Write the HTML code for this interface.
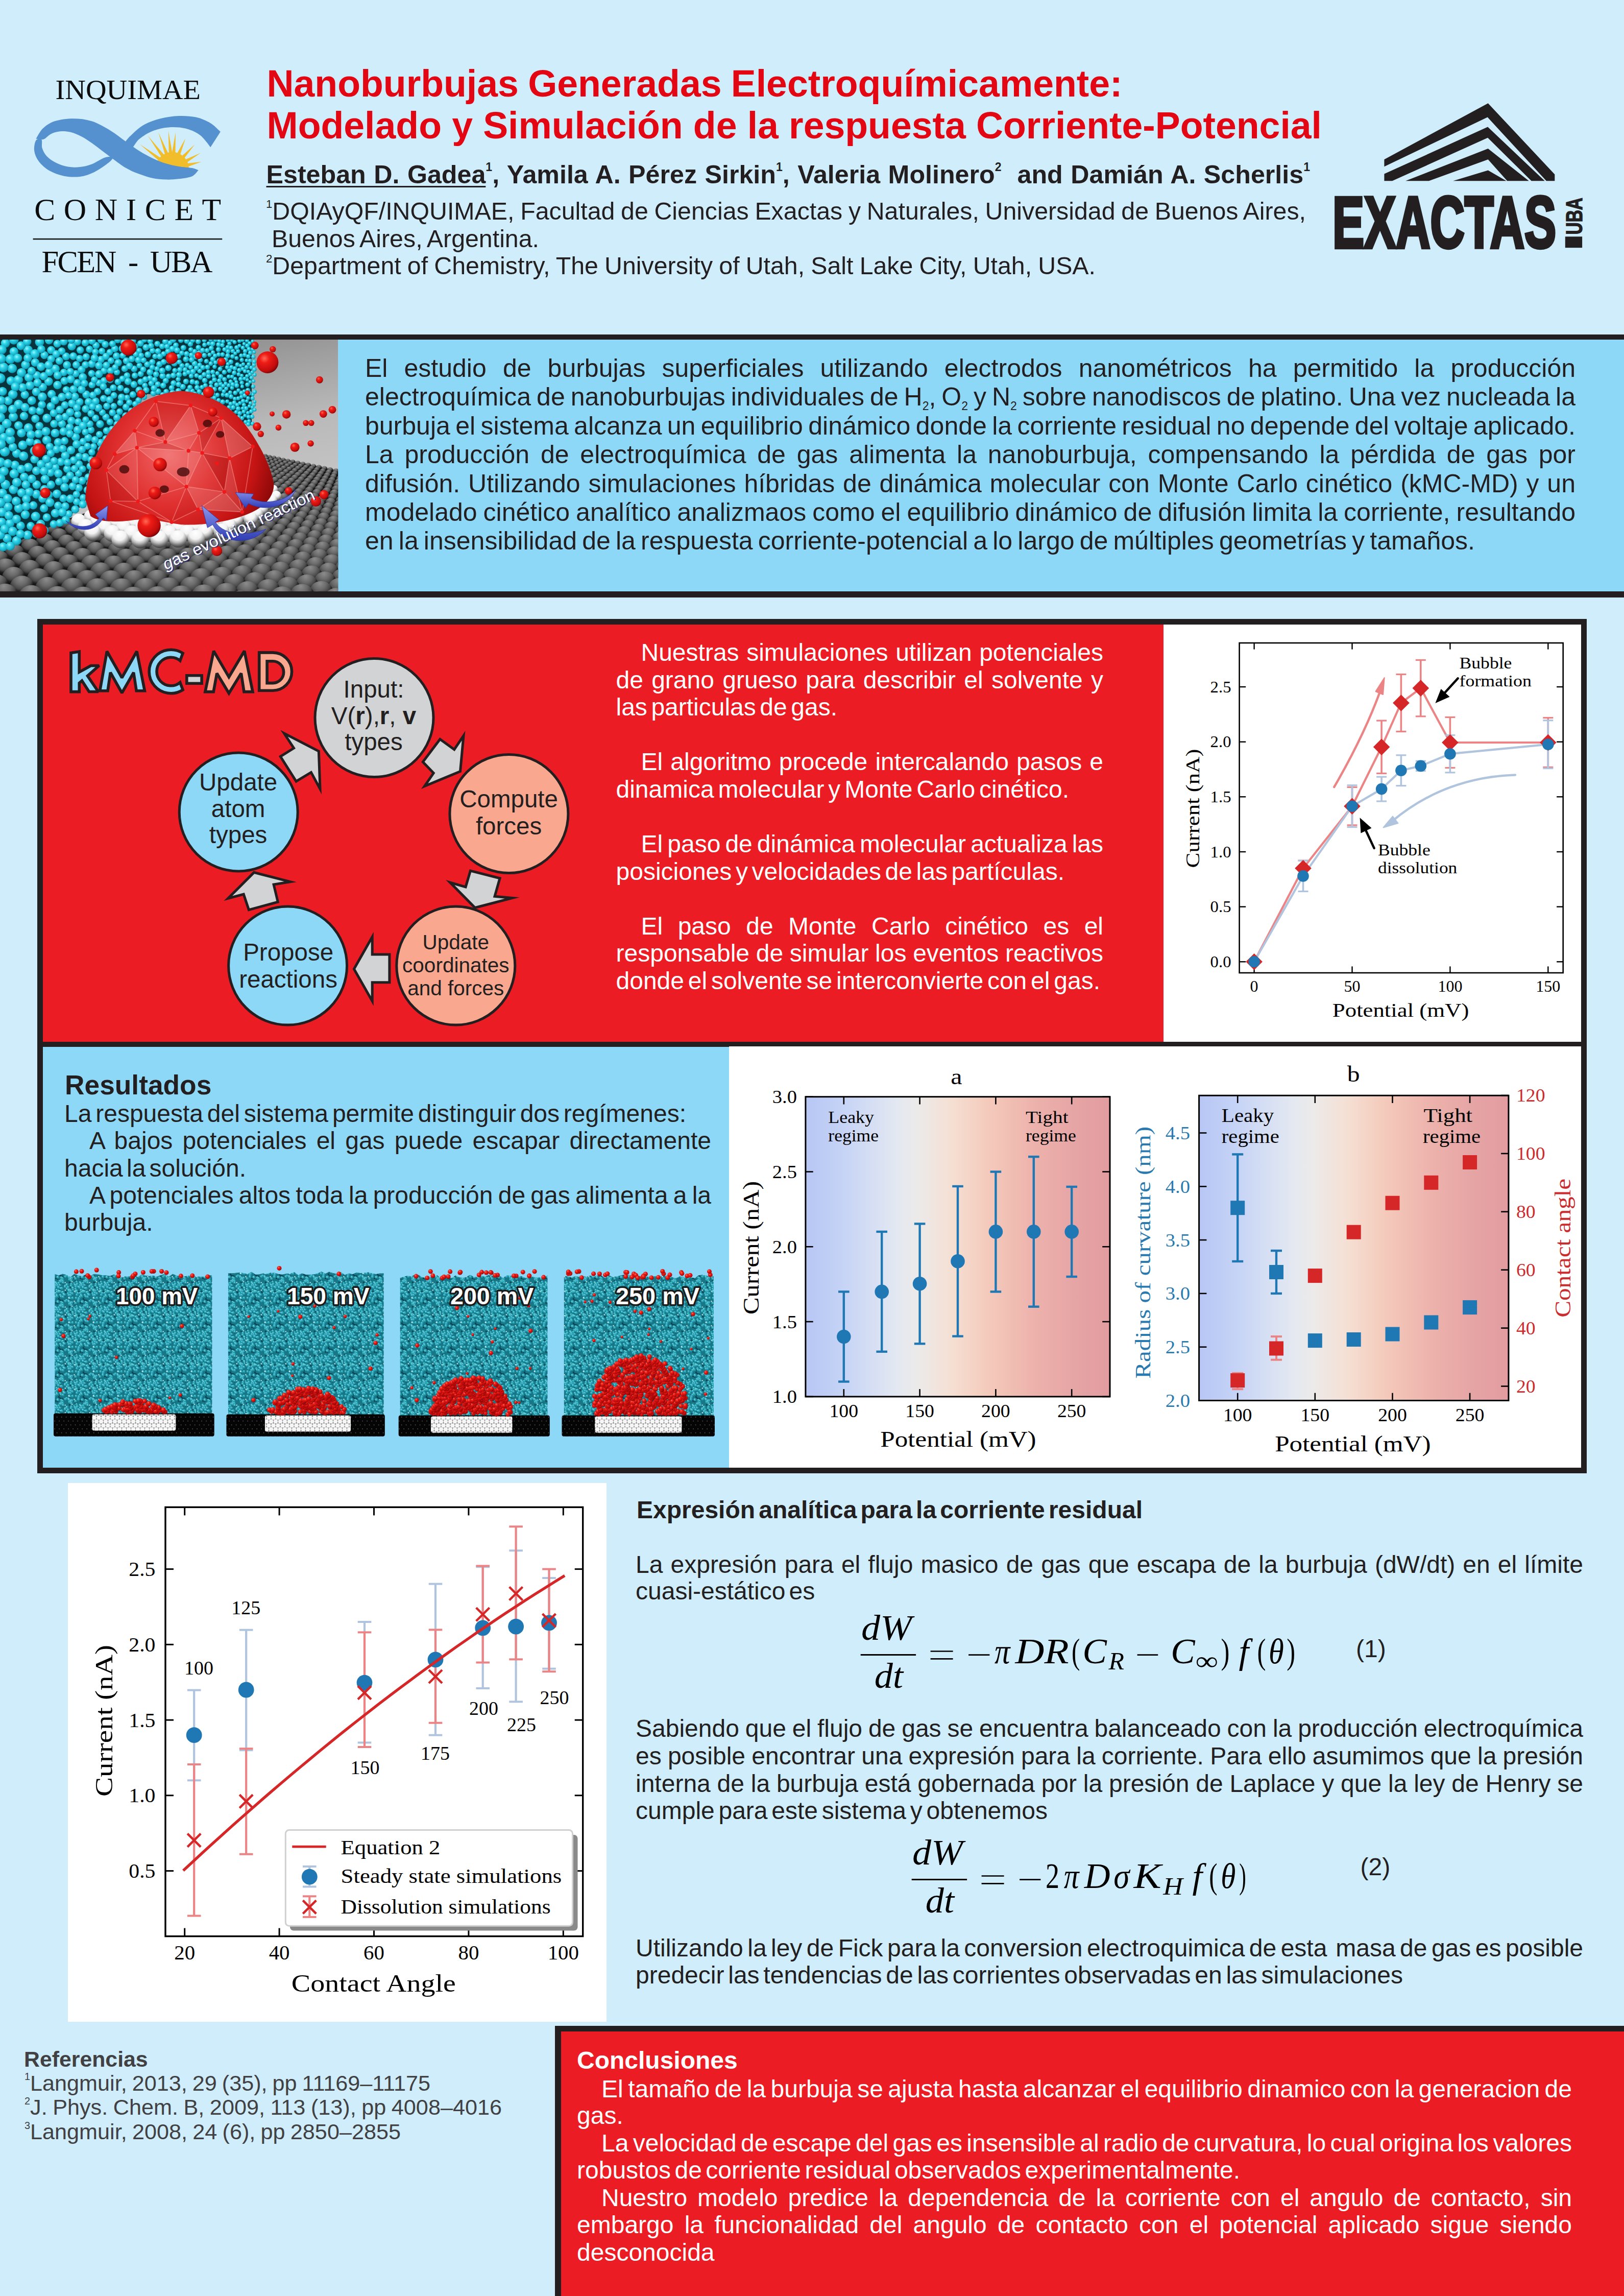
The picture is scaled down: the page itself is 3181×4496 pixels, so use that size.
<!DOCTYPE html>
<html><head><meta charset="utf-8"><title>Poster</title>
<style>
html,body{margin:0;padding:0;}
body{width:3181px;height:4496px;background:#CFEDFB;position:relative;overflow:hidden;font-family:"Liberation Sans",sans-serif;}
.t{position:absolute;white-space:nowrap;}
.b{position:absolute;}
svg{position:absolute;overflow:visible;}
sup.s{font-size:46%;vertical-align:baseline;position:relative;top:-1.05em;line-height:0;}
sub.s{font-size:46%;vertical-align:baseline;position:relative;top:0.38em;line-height:0;}
</style></head><body>
<div class="b" style="left:0px;top:655px;width:3181px;height:10px;background:#231F20;"></div>
<div class="b" style="left:0px;top:665px;width:3181px;height:493px;background:#8DD7F7;"></div>
<div class="b" style="left:0px;top:1158px;width:3181px;height:11.5px;background:#231F20;"></div>
<div class="b" style="left:73px;top:1212px;width:3035px;height:1673px;background:#231F20;"></div>
<div class="b" style="left:84px;top:1223px;width:2195px;height:817px;background:#EC1C24;"></div>
<div class="b" style="left:2279px;top:1223px;width:818px;height:817px;background:#fff;"></div>
<div class="b" style="left:84px;top:2049.5px;width:1344px;height:824.5px;background:#8DD7F7;"></div>
<div class="b" style="left:1428px;top:2049px;width:1669px;height:825px;background:#fff;"></div>
<div class="b" style="left:133px;top:2904px;width:1055px;height:1055px;background:#fff;"></div>
<div class="b" style="left:1087px;top:3967px;width:2094px;height:529px;background:#231F20;"></div>
<div class="b" style="left:1099px;top:3978px;width:2082px;height:518px;background:#EC1C24;"></div>
<svg width="670" height="502" viewBox="0 0 1624 1216.8" style="left:0;top:660px;overflow:hidden"><defs>
<radialGradient id="cy" cx="0.38" cy="0.34" r="0.7"><stop offset="0" stop-color="#9ff6ff"/><stop offset="0.35" stop-color="#2fd6ea"/><stop offset="0.8" stop-color="#14a9c2"/><stop offset="1" stop-color="#0b7f96"/></radialGradient>
<radialGradient id="rg" cx="0.36" cy="0.32" r="0.72"><stop offset="0" stop-color="#ff6a55"/><stop offset="0.3" stop-color="#ee1c16"/><stop offset="0.8" stop-color="#c00c0c"/><stop offset="1" stop-color="#7c0505"/></radialGradient>
<radialGradient id="gs" cx="0.45" cy="0.1" r="0.85"><stop offset="0" stop-color="#8c8c8c"/><stop offset="0.3" stop-color="#6a6a6a"/><stop offset="0.5" stop-color="#484848"/><stop offset="0.62" stop-color="#1c1c1c"/><stop offset="0.8" stop-color="#0a0a0a"/><stop offset="1" stop-color="#050505"/></radialGradient>
<radialGradient id="ws" cx="0.45" cy="0.2" r="0.85"><stop offset="0" stop-color="#fff"/><stop offset="0.42" stop-color="#f2f2f2"/><stop offset="0.6" stop-color="#bdbdbd"/><stop offset="0.8" stop-color="#6a6a6a"/><stop offset="1" stop-color="#2a2a2a"/></radialGradient>
<linearGradient id="bgg" x1="0" x2="0.25" y1="0" y2="1"><stop offset="0" stop-color="#7e7e7e"/><stop offset="0.5" stop-color="#b9b9b9"/><stop offset="1" stop-color="#d0d0d0"/></linearGradient>
<radialGradient id="bub" gradientUnits="userSpaceOnUse" cx="800" cy="560" r="520"><stop offset="0" stop-color="#f06464"/><stop offset="0.45" stop-color="#e03030"/><stop offset="0.8" stop-color="#c31313"/><stop offset="1" stop-color="#8e0909"/></radialGradient>
<linearGradient id="ba" x1="0" x2="0" y1="0" y2="1"><stop offset="0" stop-color="#8c98ee"/><stop offset="1" stop-color="#2f3cb4"/></linearGradient>
<clipPath id="imclip"><rect x="0" y="12" width="1605" height="1195"/></clipPath>
</defs>
<g clip-path="url(#imclip)">
<rect x="0" y="12" width="1605" height="1195" fill="url(#bgg)"/>
<path d="M0 1012L250 886L1240 560L1605 640L1605 1207L0 1207Z" fill="#242424"/>
<g fill="url(#gs)"><circle cx="1240" cy="562" r="11.0"/><circle cx="1260" cy="566" r="11.3"/><circle cx="1222" cy="569" r="11.5"/><circle cx="1280" cy="571" r="11.5"/><circle cx="1242" cy="573" r="11.8"/><circle cx="1301" cy="575" r="11.8"/><circle cx="1202" cy="576" r="12.1"/><circle cx="1263" cy="578" r="12.1"/><circle cx="1323" cy="580" r="12.1"/><circle cx="1223" cy="581" r="12.4"/><circle cx="1182" cy="583" r="12.7"/><circle cx="1285" cy="583" r="12.4"/><circle cx="1345" cy="585" r="12.4"/><circle cx="1245" cy="586" r="12.7"/><circle cx="1307" cy="588" r="12.7"/><circle cx="1204" cy="588" r="13.0"/><circle cx="1367" cy="590" r="12.6"/><circle cx="1161" cy="591" r="13.3"/><circle cx="1267" cy="591" r="13.1"/><circle cx="1329" cy="593" r="13.0"/><circle cx="1226" cy="594" r="13.4"/><circle cx="1390" cy="594" r="12.9"/><circle cx="1183" cy="597" r="13.7"/><circle cx="1290" cy="597" r="13.4"/><circle cx="1353" cy="599" r="13.4"/><circle cx="1138" cy="599" r="14.0"/><circle cx="1414" cy="600" r="13.2"/><circle cx="1249" cy="600" r="13.7"/><circle cx="1313" cy="602" r="13.7"/><circle cx="1206" cy="603" r="14.1"/><circle cx="1376" cy="604" r="13.7"/><circle cx="1438" cy="605" r="13.6"/><circle cx="1161" cy="605" r="14.4"/><circle cx="1272" cy="606" r="14.1"/><circle cx="1115" cy="607" r="14.7"/><circle cx="1337" cy="608" r="14.1"/><circle cx="1229" cy="609" r="14.5"/><circle cx="1401" cy="610" r="14.0"/><circle cx="1463" cy="610" r="13.9"/><circle cx="1185" cy="612" r="14.8"/><circle cx="1296" cy="612" r="14.5"/><circle cx="1362" cy="614" r="14.5"/><circle cx="1138" cy="614" r="15.1"/><circle cx="1426" cy="615" r="14.4"/><circle cx="1253" cy="615" r="14.9"/><circle cx="1488" cy="616" r="14.2"/><circle cx="1091" cy="616" r="15.4"/><circle cx="1321" cy="618" r="14.9"/><circle cx="1209" cy="619" r="15.2"/><circle cx="1387" cy="620" r="14.8"/><circle cx="1451" cy="621" r="14.7"/><circle cx="1514" cy="621" r="14.5"/><circle cx="1162" cy="621" r="15.5"/><circle cx="1278" cy="622" r="15.3"/><circle cx="1114" cy="623" r="15.8"/><circle cx="1346" cy="625" r="15.3"/><circle cx="1065" cy="625" r="16.1"/><circle cx="1234" cy="626" r="15.7"/><circle cx="1413" cy="626" r="15.2"/><circle cx="1540" cy="627" r="14.9"/><circle cx="1478" cy="627" r="15.1"/><circle cx="1187" cy="629" r="16.0"/><circle cx="1304" cy="629" r="15.7"/><circle cx="1139" cy="631" r="16.3"/><circle cx="1372" cy="631" r="15.7"/><circle cx="1567" cy="633" r="15.2"/><circle cx="1439" cy="633" r="15.6"/><circle cx="1259" cy="633" r="16.1"/><circle cx="1504" cy="633" r="15.4"/><circle cx="1089" cy="633" r="16.6"/><circle cx="1038" cy="635" r="16.9"/><circle cx="1330" cy="636" r="16.1"/><circle cx="1213" cy="636" r="16.5"/><circle cx="1399" cy="638" r="16.1"/><circle cx="1595" cy="639" r="15.6"/><circle cx="1165" cy="639" r="16.9"/><circle cx="1467" cy="639" r="16.0"/><circle cx="1532" cy="640" r="15.8"/><circle cx="1286" cy="640" r="16.6"/><circle cx="1115" cy="642" r="17.2"/><circle cx="1357" cy="643" r="16.6"/><circle cx="1063" cy="644" r="17.5"/><circle cx="1239" cy="644" r="17.0"/><circle cx="1427" cy="645" r="16.5"/><circle cx="1010" cy="645" r="17.7"/><circle cx="1560" cy="646" r="16.2"/><circle cx="1495" cy="646" r="16.4"/><circle cx="1191" cy="647" r="17.4"/><circle cx="1313" cy="648" r="17.1"/><circle cx="1141" cy="650" r="17.7"/><circle cx="1385" cy="651" r="17.1"/><circle cx="1266" cy="652" r="17.5"/><circle cx="1455" cy="652" r="17.0"/><circle cx="1589" cy="653" r="16.6"/><circle cx="1089" cy="653" r="18.1"/><circle cx="1523" cy="653" r="16.8"/><circle cx="1035" cy="655" r="18.4"/><circle cx="1340" cy="656" r="17.6"/><circle cx="1218" cy="656" r="17.9"/><circle cx="980" cy="656" r="18.6"/><circle cx="1413" cy="658" r="17.5"/><circle cx="1168" cy="659" r="18.3"/><circle cx="1619" cy="659" r="17.0"/><circle cx="1484" cy="660" r="17.4"/><circle cx="1553" cy="660" r="17.3"/><circle cx="1294" cy="660" r="18.0"/><circle cx="1116" cy="662" r="18.7"/><circle cx="1369" cy="664" r="18.1"/><circle cx="1062" cy="664" r="19.0"/><circle cx="1246" cy="665" r="18.5"/><circle cx="1442" cy="666" r="18.0"/><circle cx="1006" cy="666" r="19.3"/><circle cx="1514" cy="667" r="17.9"/><circle cx="1583" cy="667" r="17.7"/><circle cx="949" cy="667" r="19.5"/><circle cx="1196" cy="668" r="18.9"/><circle cx="1323" cy="669" r="18.6"/><circle cx="1143" cy="672" r="19.3"/><circle cx="1399" cy="672" r="18.6"/><circle cx="1275" cy="674" r="19.0"/><circle cx="1473" cy="674" r="18.5"/><circle cx="1089" cy="674" r="19.6"/><circle cx="1614" cy="675" r="18.2"/><circle cx="1544" cy="675" r="18.4"/><circle cx="1033" cy="677" r="20.0"/><circle cx="1353" cy="678" r="19.1"/><circle cx="1224" cy="678" r="19.5"/><circle cx="975" cy="678" r="20.2"/><circle cx="916" cy="679" r="20.5"/><circle cx="1429" cy="681" r="19.1"/><circle cx="1172" cy="681" r="19.9"/><circle cx="1504" cy="682" r="19.0"/><circle cx="1305" cy="683" r="19.6"/><circle cx="1576" cy="683" r="18.9"/><circle cx="1118" cy="685" r="20.3"/><circle cx="1383" cy="687" r="19.7"/><circle cx="1061" cy="687" r="20.7"/><circle cx="1254" cy="687" r="20.1"/><circle cx="1460" cy="689" r="19.7"/><circle cx="1003" cy="689" r="21.0"/><circle cx="943" cy="691" r="21.2"/><circle cx="1535" cy="691" r="19.6"/><circle cx="1608" cy="691" r="19.4"/><circle cx="882" cy="691" r="21.5"/><circle cx="1202" cy="692" r="20.6"/><circle cx="1335" cy="692" r="20.2"/><circle cx="1147" cy="695" r="21.0"/><circle cx="1415" cy="696" r="20.3"/><circle cx="1285" cy="698" r="20.8"/><circle cx="1493" cy="698" r="20.2"/><circle cx="1090" cy="698" r="21.4"/><circle cx="1568" cy="699" r="20.1"/><circle cx="1032" cy="701" r="21.7"/><circle cx="1367" cy="702" r="20.9"/><circle cx="1232" cy="702" r="21.3"/><circle cx="846" cy="704" r="22.5"/><circle cx="1447" cy="705" r="20.9"/><circle cx="1178" cy="706" r="21.7"/><circle cx="1526" cy="708" r="20.8"/><circle cx="1317" cy="708" r="21.4"/><circle cx="1602" cy="708" r="20.7"/><circle cx="1400" cy="712" r="21.5"/><circle cx="1264" cy="713" r="22.0"/><circle cx="1481" cy="715" r="21.5"/><circle cx="1560" cy="717" r="21.4"/><circle cx="1349" cy="718" r="22.1"/><circle cx="1433" cy="723" r="22.2"/><circle cx="1515" cy="725" r="22.2"/><circle cx="1595" cy="727" r="22.0"/><circle cx="1383" cy="729" r="22.8"/><circle cx="1468" cy="733" r="22.9"/><circle cx="1551" cy="736" r="22.8"/><circle cx="1331" cy="736" r="23.4"/><circle cx="1418" cy="741" r="23.6"/><circle cx="1504" cy="744" r="23.6"/><circle cx="1587" cy="747" r="23.5"/><circle cx="1366" cy="748" r="24.2"/><circle cx="1454" cy="752" r="24.3"/><circle cx="1541" cy="756" r="24.3"/><circle cx="1625" cy="758" r="24.2"/><circle cx="1402" cy="760" r="25.0"/><circle cx="1492" cy="765" r="25.1"/><circle cx="1347" cy="767" r="25.7"/><circle cx="1579" cy="767" r="25.0"/><circle cx="1440" cy="773" r="25.8"/><circle cx="1530" cy="777" r="25.9"/><circle cx="1618" cy="780" r="25.8"/><circle cx="1385" cy="781" r="26.5"/><circle cx="1478" cy="786" r="26.7"/><circle cx="1327" cy="788" r="27.2"/><circle cx="1570" cy="790" r="26.7"/><circle cx="1424" cy="794" r="27.4"/><circle cx="1518" cy="799" r="27.5"/><circle cx="1366" cy="802" r="28.2"/><circle cx="1611" cy="803" r="27.5"/><circle cx="1464" cy="809" r="28.4"/><circle cx="1306" cy="809" r="28.9"/><circle cx="1560" cy="813" r="28.4"/><circle cx="1407" cy="817" r="29.2"/><circle cx="1506" cy="823" r="29.3"/><circle cx="1346" cy="825" r="29.9"/><circle cx="1603" cy="828" r="29.4"/><circle cx="1283" cy="832" r="30.6"/><circle cx="1449" cy="833" r="30.2"/><circle cx="1549" cy="838" r="30.3"/><circle cx="1388" cy="841" r="31.0"/><circle cx="1492" cy="849" r="31.2"/><circle cx="1325" cy="849" r="31.8"/><circle cx="1594" cy="854" r="31.3"/><circle cx="1259" cy="857" r="32.5"/><circle cx="1432" cy="858" r="32.1"/><circle cx="1537" cy="865" r="32.3"/><circle cx="1369" cy="867" r="32.9"/><circle cx="1303" cy="875" r="33.7"/><circle cx="1477" cy="876" r="33.2"/><circle cx="1584" cy="882" r="33.4"/><circle cx="1233" cy="883" r="34.4"/><circle cx="1414" cy="885" r="34.1"/><circle cx="1161" cy="889" r="35.1"/><circle cx="1524" cy="894" r="34.4"/><circle cx="1348" cy="894" r="35.0"/><circle cx="313" cy="897" r="38.1"/><circle cx="1632" cy="900" r="34.6"/><circle cx="1278" cy="903" r="35.8"/><circle cx="1461" cy="904" r="35.4"/><circle cx="1206" cy="910" r="36.5"/><circle cx="1572" cy="912" r="35.6"/><circle cx="1395" cy="914" r="36.3"/><circle cx="1131" cy="916" r="37.2"/><circle cx="249" cy="920" r="40.0"/><circle cx="1325" cy="923" r="37.1"/><circle cx="1510" cy="924" r="36.7"/><circle cx="345" cy="925" r="40.1"/><circle cx="1623" cy="931" r="36.9"/><circle cx="1252" cy="932" r="38.0"/><circle cx="1443" cy="935" r="37.6"/><circle cx="1176" cy="939" r="38.7"/><circle cx="1560" cy="944" r="38.0"/><circle cx="182" cy="944" r="41.9"/><circle cx="1374" cy="945" r="38.6"/><circle cx="1098" cy="945" r="39.4"/><circle cx="281" cy="950" r="42.1"/><circle cx="1016" cy="951" r="40.0"/><circle cx="1301" cy="954" r="39.5"/><circle cx="379" cy="955" r="42.2"/><circle cx="1494" cy="956" r="39.0"/><circle cx="476" cy="958" r="42.1"/><circle cx="1224" cy="962" r="40.3"/><circle cx="1613" cy="965" r="39.4"/><circle cx="1424" cy="967" r="40.1"/><circle cx="112" cy="970" r="44.0"/><circle cx="1145" cy="970" r="41.0"/><circle cx="1063" cy="976" r="41.7"/><circle cx="214" cy="977" r="44.2"/><circle cx="1351" cy="977" r="41.0"/><circle cx="1547" cy="978" r="40.5"/><circle cx="978" cy="981" r="42.4"/><circle cx="316" cy="982" r="44.3"/><circle cx="890" cy="985" r="42.9"/><circle cx="416" cy="986" r="44.3"/><circle cx="1275" cy="986" r="41.9"/><circle cx="799" cy="988" r="43.4"/><circle cx="515" cy="989" r="44.2"/><circle cx="707" cy="990" r="43.7"/><circle cx="612" cy="990" r="44.0"/><circle cx="1477" cy="990" r="41.6"/><circle cx="1195" cy="995" r="42.7"/><circle cx="38" cy="996" r="46.1"/><circle cx="1601" cy="1000" r="42.0"/><circle cx="1404" cy="1001" r="42.6"/><circle cx="1112" cy="1002" r="43.5"/><circle cx="144" cy="1004" r="46.4"/><circle cx="1026" cy="1008" r="44.2"/><circle cx="249" cy="1011" r="46.6"/><circle cx="1327" cy="1012" r="43.6"/><circle cx="937" cy="1013" r="44.8"/><circle cx="1532" cy="1014" r="43.2"/><circle cx="353" cy="1015" r="46.6"/><circle cx="845" cy="1017" r="45.4"/><circle cx="455" cy="1019" r="46.6"/><circle cx="751" cy="1019" r="45.8"/><circle cx="556" cy="1020" r="46.4"/><circle cx="654" cy="1021" r="46.2"/><circle cx="1247" cy="1021" r="44.5"/><circle cx="-39" cy="1024" r="48.4"/><circle cx="1459" cy="1026" r="44.3"/><circle cx="1163" cy="1029" r="45.3"/><circle cx="70" cy="1033" r="48.7"/><circle cx="1076" cy="1036" r="46.1"/><circle cx="1381" cy="1038" r="45.3"/><circle cx="1589" cy="1038" r="44.8"/><circle cx="179" cy="1040" r="49.0"/><circle cx="986" cy="1042" r="46.8"/><circle cx="286" cy="1046" r="49.1"/><circle cx="893" cy="1047" r="47.4"/><circle cx="1301" cy="1048" r="46.3"/><circle cx="392" cy="1050" r="49.1"/><circle cx="798" cy="1051" r="47.9"/><circle cx="1516" cy="1052" r="46.0"/><circle cx="497" cy="1052" r="48.9"/><circle cx="700" cy="1053" r="48.4"/><circle cx="599" cy="1053" r="48.7"/><circle cx="1217" cy="1057" r="47.3"/><circle cx="-7" cy="1063" r="51.2"/><circle cx="1648" cy="1064" r="46.5"/><circle cx="1438" cy="1065" r="47.1"/><circle cx="1129" cy="1066" r="48.1"/><circle cx="105" cy="1072" r="51.5"/><circle cx="1038" cy="1073" r="48.9"/><circle cx="1357" cy="1076" r="48.2"/><circle cx="216" cy="1078" r="51.6"/><circle cx="944" cy="1079" r="49.6"/><circle cx="1575" cy="1079" r="47.8"/><circle cx="847" cy="1083" r="50.2"/><circle cx="326" cy="1083" r="51.7"/><circle cx="748" cy="1086" r="50.7"/><circle cx="434" cy="1086" r="51.6"/><circle cx="1273" cy="1087" r="49.2"/><circle cx="645" cy="1088" r="51.1"/><circle cx="541" cy="1088" r="51.4"/><circle cx="1498" cy="1093" r="49.0"/><circle cx="1184" cy="1096" r="50.2"/><circle cx="1093" cy="1104" r="51.0"/><circle cx="27" cy="1105" r="54.1"/><circle cx="1417" cy="1105" r="50.2"/><circle cx="1637" cy="1106" r="49.6"/><circle cx="998" cy="1111" r="51.8"/><circle cx="142" cy="1112" r="54.3"/><circle cx="900" cy="1117" r="52.5"/><circle cx="1332" cy="1117" r="51.3"/><circle cx="256" cy="1118" r="54.4"/><circle cx="798" cy="1121" r="53.1"/><circle cx="1560" cy="1122" r="51.0"/><circle cx="369" cy="1122" r="54.4"/><circle cx="694" cy="1124" r="53.6"/><circle cx="479" cy="1124" r="54.2"/><circle cx="588" cy="1125" r="54.0"/><circle cx="1243" cy="1128" r="52.3"/><circle cx="1479" cy="1136" r="52.2"/><circle cx="1150" cy="1137" r="53.3"/><circle cx="-54" cy="1139" r="56.9"/><circle cx="1054" cy="1145" r="54.1"/><circle cx="65" cy="1148" r="57.2"/><circle cx="1393" cy="1149" r="53.4"/><circle cx="1625" cy="1152" r="53.0"/><circle cx="955" cy="1152" r="54.9"/><circle cx="183" cy="1155" r="57.3"/><circle cx="852" cy="1157" r="55.6"/><circle cx="299" cy="1160" r="57.3"/><circle cx="1304" cy="1161" r="54.6"/><circle cx="746" cy="1161" r="56.2"/><circle cx="414" cy="1163" r="57.2"/><circle cx="638" cy="1163" r="56.6"/><circle cx="527" cy="1164" r="57.0"/><circle cx="1543" cy="1167" r="54.3"/><circle cx="1210" cy="1171" r="55.6"/><circle cx="1113" cy="1181" r="56.6"/><circle cx="1457" cy="1182" r="55.6"/><circle cx="-17" cy="1186" r="60.1"/><circle cx="1013" cy="1189" r="57.4"/><circle cx="105" cy="1193" r="60.3"/><circle cx="1367" cy="1195" r="56.9"/><circle cx="909" cy="1195" r="58.2"/><circle cx="226" cy="1199" r="60.4"/><circle cx="1611" cy="1200" r="56.5"/><circle cx="801" cy="1200" r="58.9"/><circle cx="346" cy="1203" r="60.4"/><circle cx="691" cy="1203" r="59.4"/><circle cx="463" cy="1205" r="60.2"/><circle cx="578" cy="1205" r="59.9"/><circle cx="1273" cy="1207" r="58.0"/><circle cx="1525" cy="1216" r="57.9"/><circle cx="1175" cy="1218" r="59.1"/><circle cx="1074" cy="1227" r="60.0"/><circle cx="1434" cy="1231" r="59.3"/><circle cx="24" cy="1234" r="63.6"/><circle cx="968" cy="1235" r="60.9"/><circle cx="149" cy="1241" r="63.7"/><circle cx="860" cy="1241" r="61.7"/><circle cx="1340" cy="1244" r="60.5"/><circle cx="748" cy="1245" r="62.3"/><circle cx="273" cy="1246" r="63.7"/><circle cx="633" cy="1248" r="62.9"/><circle cx="395" cy="1248" r="63.5"/><circle cx="515" cy="1249" r="63.3"/><circle cx="1595" cy="1251" r="60.3"/><circle cx="1241" cy="1256" r="61.7"/><circle cx="1138" cy="1267" r="62.8"/><circle cx="1504" cy="1267" r="61.8"/></g>
<g fill="url(#ws)"><circle cx="972" cy="703" r="22.0"/><circle cx="909" cy="704" r="22.3"/><circle cx="1121" cy="710" r="22.1"/><circle cx="1062" cy="713" r="22.5"/><circle cx="1001" cy="715" r="22.9"/><circle cx="938" cy="717" r="23.2"/><circle cx="1209" cy="718" r="22.5"/><circle cx="874" cy="718" r="23.4"/><circle cx="808" cy="718" r="23.6"/><circle cx="1152" cy="722" r="22.9"/><circle cx="1297" cy="724" r="22.7"/><circle cx="1093" cy="725" r="23.4"/><circle cx="1032" cy="728" r="23.7"/><circle cx="1242" cy="730" r="23.2"/><circle cx="969" cy="730" r="24.1"/><circle cx="904" cy="732" r="24.4"/><circle cx="768" cy="732" r="24.8"/><circle cx="837" cy="732" r="24.6"/><circle cx="1185" cy="734" r="23.7"/><circle cx="1125" cy="738" r="24.2"/><circle cx="1064" cy="742" r="24.6"/><circle cx="1276" cy="742" r="24.0"/><circle cx="1000" cy="744" r="25.0"/><circle cx="934" cy="746" r="25.3"/><circle cx="1218" cy="747" r="24.6"/><circle cx="727" cy="747" r="26.0"/><circle cx="867" cy="747" r="25.6"/><circle cx="798" cy="748" r="25.8"/><circle cx="1159" cy="752" r="25.1"/><circle cx="1311" cy="754" r="24.8"/><circle cx="1097" cy="755" r="25.5"/><circle cx="1033" cy="759" r="26.0"/><circle cx="1253" cy="760" r="25.4"/><circle cx="966" cy="761" r="26.3"/><circle cx="898" cy="763" r="26.7"/><circle cx="683" cy="763" r="27.3"/><circle cx="828" cy="764" r="26.9"/><circle cx="757" cy="764" r="27.1"/><circle cx="1194" cy="765" r="26.0"/><circle cx="1131" cy="770" r="26.5"/><circle cx="1290" cy="774" r="26.3"/><circle cx="1067" cy="774" r="27.0"/><circle cx="1000" cy="777" r="27.4"/><circle cx="931" cy="779" r="27.7"/><circle cx="1230" cy="780" r="26.9"/><circle cx="638" cy="780" r="28.6"/><circle cx="860" cy="781" r="28.0"/><circle cx="714" cy="781" r="28.5"/><circle cx="788" cy="781" r="28.3"/><circle cx="1167" cy="785" r="27.5"/><circle cx="1102" cy="789" r="28.0"/><circle cx="1035" cy="793" r="28.4"/><circle cx="1267" cy="794" r="27.9"/><circle cx="966" cy="796" r="28.9"/><circle cx="590" cy="797" r="30.0"/><circle cx="894" cy="798" r="29.2"/><circle cx="668" cy="799" r="29.9"/><circle cx="821" cy="799" r="29.5"/><circle cx="745" cy="799" r="29.7"/><circle cx="1204" cy="800" r="28.5"/><circle cx="1139" cy="805" r="29.1"/><circle cx="1071" cy="810" r="29.6"/><circle cx="1001" cy="813" r="30.0"/><circle cx="540" cy="815" r="31.5"/><circle cx="929" cy="816" r="30.4"/><circle cx="1243" cy="816" r="29.5"/><circle cx="621" cy="817" r="31.4"/><circle cx="855" cy="818" r="30.8"/><circle cx="700" cy="818" r="31.3"/><circle cx="779" cy="818" r="31.0"/><circle cx="1178" cy="822" r="30.2"/><circle cx="1109" cy="827" r="30.7"/><circle cx="1039" cy="831" r="31.2"/><circle cx="487" cy="834" r="33.0"/><circle cx="966" cy="834" r="31.7"/><circle cx="571" cy="837" r="33.0"/><circle cx="891" cy="837" r="32.1"/><circle cx="653" cy="838" r="32.9"/><circle cx="814" cy="838" r="32.4"/><circle cx="734" cy="839" r="32.7"/><circle cx="1218" cy="839" r="31.3"/><circle cx="1149" cy="845" r="31.9"/><circle cx="1078" cy="850" r="32.5"/><circle cx="1004" cy="854" r="33.0"/><circle cx="432" cy="854" r="34.6"/><circle cx="928" cy="857" r="33.4"/><circle cx="518" cy="857" r="34.6"/><circle cx="850" cy="859" r="33.8"/><circle cx="604" cy="859" r="34.5"/><circle cx="770" cy="860" r="34.1"/><circle cx="688" cy="860" r="34.4"/><circle cx="1190" cy="863" r="33.2"/><circle cx="1119" cy="869" r="33.8"/><circle cx="1045" cy="874" r="34.3"/><circle cx="374" cy="875" r="36.3"/><circle cx="968" cy="878" r="34.8"/><circle cx="463" cy="879" r="36.4"/><circle cx="889" cy="881" r="35.3"/><circle cx="552" cy="882" r="36.3"/><circle cx="807" cy="883" r="35.7"/><circle cx="639" cy="883" r="36.2"/><circle cx="724" cy="883" r="35.9"/><circle cx="1087" cy="895" r="35.7"/><circle cx="1009" cy="900" r="36.3"/><circle cx="406" cy="902" r="38.2"/><circle cx="929" cy="903" r="36.8"/><circle cx="497" cy="905" r="38.2"/><circle cx="847" cy="906" r="37.2"/><circle cx="587" cy="907" r="38.1"/><circle cx="762" cy="907" r="37.6"/><circle cx="676" cy="908" r="37.9"/><circle cx="1052" cy="922" r="37.8"/><circle cx="972" cy="927" r="38.4"/><circle cx="440" cy="929" r="40.1"/><circle cx="888" cy="930" r="38.9"/><circle cx="533" cy="932" r="40.0"/><circle cx="803" cy="932" r="39.3"/><circle cx="625" cy="933" r="39.9"/><circle cx="715" cy="933" r="39.6"/><circle cx="932" cy="955" r="40.6"/><circle cx="845" cy="958" r="41.1"/><circle cx="756" cy="960" r="41.5"/><circle cx="571" cy="960" r="42.0"/><circle cx="665" cy="961" r="41.8"/></g>
<path d="M0 12L1195 12L1195 420L1120 395L1000 290L700 270L520 440L430 640L400 790L330 850L250 895L0 1010Z" fill="#08343d"/>
<g fill="url(#cy)"><circle cx="387" cy="155" r="18.7"/><circle cx="79" cy="552" r="21.2"/><circle cx="61" cy="523" r="20.4"/><circle cx="521" cy="72" r="15.6"/><circle cx="142" cy="230" r="21.3"/><circle cx="47" cy="884" r="21.4"/><circle cx="167" cy="121" r="20.1"/><circle cx="990" cy="186" r="12.0"/><circle cx="661" cy="65" r="14.0"/><circle cx="242" cy="701" r="19.6"/><circle cx="375" cy="603" r="18.3"/><circle cx="357" cy="818" r="19.2"/><circle cx="289" cy="592" r="19.4"/><circle cx="135" cy="431" r="21.8"/><circle cx="176" cy="504" r="19.2"/><circle cx="374" cy="716" r="18.7"/><circle cx="64" cy="723" r="22.2"/><circle cx="339" cy="397" r="19.3"/><circle cx="18" cy="476" r="21.3"/><circle cx="133" cy="61" r="21.9"/><circle cx="1057" cy="83" r="10.8"/><circle cx="331" cy="428" r="18.5"/><circle cx="175" cy="182" r="19.8"/><circle cx="276" cy="500" r="19.8"/><circle cx="503" cy="380" r="17.2"/><circle cx="818" cy="56" r="14.8"/><circle cx="479" cy="107" r="17.7"/><circle cx="66" cy="69" r="20.9"/><circle cx="189" cy="350" r="19.1"/><circle cx="114" cy="375" r="19.8"/><circle cx="172" cy="260" r="20.2"/><circle cx="436" cy="127" r="18.8"/><circle cx="583" cy="88" r="15.0"/><circle cx="410" cy="273" r="19.0"/><circle cx="188" cy="24" r="21.8"/><circle cx="637" cy="151" r="15.7"/><circle cx="23" cy="544" r="23.7"/><circle cx="310" cy="378" r="18.1"/><circle cx="263" cy="836" r="21.1"/><circle cx="268" cy="533" r="19.2"/><circle cx="26" cy="29" r="21.6"/><circle cx="307" cy="713" r="20.5"/><circle cx="437" cy="227" r="16.9"/><circle cx="231" cy="211" r="20.4"/><circle cx="970" cy="87" r="12.4"/><circle cx="209" cy="813" r="19.7"/><circle cx="475" cy="413" r="18.7"/><circle cx="878" cy="175" r="11.8"/><circle cx="175" cy="932" r="21.5"/><circle cx="169" cy="851" r="22.1"/><circle cx="662" cy="135" r="13.8"/><circle cx="1002" cy="217" r="10.9"/><circle cx="349" cy="248" r="19.0"/><circle cx="1105" cy="364" r="10.4"/><circle cx="631" cy="19" r="15.5"/><circle cx="969" cy="178" r="11.9"/><circle cx="389" cy="534" r="18.4"/><circle cx="951" cy="109" r="12.3"/><circle cx="294" cy="285" r="20.1"/><circle cx="1019" cy="141" r="10.3"/><circle cx="80" cy="690" r="22.5"/><circle cx="1089" cy="159" r="11.3"/><circle cx="799" cy="147" r="15.0"/><circle cx="1175" cy="226" r="11.1"/><circle cx="478" cy="502" r="18.8"/><circle cx="1010" cy="166" r="11.3"/><circle cx="622" cy="349" r="14.8"/><circle cx="12" cy="341" r="22.7"/><circle cx="618" cy="66" r="17.2"/><circle cx="118" cy="274" r="19.8"/><circle cx="944" cy="279" r="11.1"/><circle cx="993" cy="266" r="10.6"/><circle cx="848" cy="92" r="11.9"/><circle cx="79" cy="967" r="22.0"/><circle cx="405" cy="570" r="19.4"/><circle cx="318" cy="133" r="19.1"/><circle cx="282" cy="113" r="18.4"/><circle cx="52" cy="208" r="21.4"/><circle cx="364" cy="782" r="17.9"/><circle cx="603" cy="183" r="15.5"/><circle cx="12" cy="258" r="20.9"/><circle cx="222" cy="489" r="21.4"/><circle cx="120" cy="843" r="21.0"/><circle cx="1193" cy="353" r="10.5"/><circle cx="486" cy="358" r="15.9"/><circle cx="303" cy="168" r="18.0"/><circle cx="183" cy="459" r="19.8"/><circle cx="660" cy="252" r="16.7"/><circle cx="369" cy="367" r="17.0"/><circle cx="236" cy="520" r="18.4"/><circle cx="314" cy="92" r="18.8"/><circle cx="467" cy="336" r="18.9"/><circle cx="173" cy="746" r="21.0"/><circle cx="985" cy="143" r="11.9"/><circle cx="272" cy="32" r="18.4"/><circle cx="798" cy="68" r="14.5"/><circle cx="883" cy="211" r="13.6"/><circle cx="777" cy="80" r="13.0"/><circle cx="301" cy="766" r="18.6"/><circle cx="686" cy="13" r="13.7"/><circle cx="561" cy="122" r="17.6"/><circle cx="1137" cy="18" r="10.0"/><circle cx="541" cy="277" r="15.7"/><circle cx="1148" cy="217" r="10.3"/><circle cx="164" cy="540" r="22.1"/><circle cx="586" cy="26" r="14.6"/><circle cx="432" cy="441" r="17.1"/><circle cx="49" cy="105" r="23.0"/><circle cx="223" cy="385" r="21.4"/><circle cx="871" cy="51" r="13.7"/><circle cx="568" cy="354" r="15.7"/><circle cx="309" cy="676" r="18.5"/><circle cx="409" cy="94" r="17.3"/><circle cx="1047" cy="222" r="10.4"/><circle cx="294" cy="412" r="19.1"/><circle cx="1059" cy="22" r="9.6"/><circle cx="38" cy="806" r="21.3"/><circle cx="362" cy="132" r="17.8"/><circle cx="264" cy="619" r="18.2"/><circle cx="359" cy="475" r="20.0"/><circle cx="572" cy="242" r="15.5"/><circle cx="367" cy="22" r="18.5"/><circle cx="608" cy="211" r="17.3"/><circle cx="273" cy="228" r="20.3"/><circle cx="1152" cy="151" r="9.6"/><circle cx="393" cy="191" r="19.5"/><circle cx="904" cy="33" r="13.2"/><circle cx="454" cy="385" r="17.1"/><circle cx="50" cy="488" r="21.6"/><circle cx="1116" cy="199" r="9.9"/><circle cx="1089" cy="31" r="10.4"/><circle cx="1117" cy="265" r="11.1"/><circle cx="1091" cy="349" r="10.0"/><circle cx="463" cy="259" r="17.2"/><circle cx="87" cy="203" r="22.3"/><circle cx="293" cy="67" r="17.9"/><circle cx="1200" cy="273" r="8.2"/><circle cx="108" cy="513" r="22.0"/><circle cx="538" cy="241" r="16.4"/><circle cx="350" cy="584" r="18.3"/><circle cx="39" cy="302" r="20.9"/><circle cx="1148" cy="109" r="10.3"/><circle cx="749" cy="224" r="14.0"/><circle cx="474" cy="567" r="17.8"/><circle cx="102" cy="169" r="22.0"/><circle cx="492" cy="292" r="16.6"/><circle cx="1158" cy="322" r="10.1"/><circle cx="232" cy="750" r="19.1"/><circle cx="555" cy="167" r="15.0"/><circle cx="1104" cy="92" r="10.9"/><circle cx="444" cy="520" r="16.6"/><circle cx="337" cy="537" r="20.1"/><circle cx="1174" cy="203" r="8.6"/><circle cx="581" cy="55" r="17.5"/><circle cx="480" cy="533" r="16.9"/><circle cx="134" cy="618" r="21.2"/><circle cx="19" cy="637" r="22.3"/><circle cx="121" cy="132" r="21.0"/><circle cx="102" cy="455" r="21.4"/><circle cx="1112" cy="170" r="11.3"/><circle cx="1130" cy="67" r="9.8"/><circle cx="916" cy="164" r="13.7"/><circle cx="327" cy="840" r="17.9"/><circle cx="245" cy="271" r="19.9"/><circle cx="1071" cy="108" r="12.3"/><circle cx="967" cy="273" r="13.5"/><circle cx="173" cy="635" r="20.4"/><circle cx="240" cy="643" r="19.8"/><circle cx="419" cy="665" r="17.8"/><circle cx="862" cy="274" r="13.3"/><circle cx="631" cy="273" r="16.1"/><circle cx="1068" cy="338" r="10.1"/><circle cx="367" cy="218" r="18.9"/><circle cx="71" cy="608" r="21.3"/><circle cx="1082" cy="68" r="11.8"/><circle cx="241" cy="329" r="19.6"/><circle cx="747" cy="32" r="14.1"/><circle cx="415" cy="726" r="18.1"/><circle cx="255" cy="888" r="18.5"/><circle cx="237" cy="785" r="21.3"/><circle cx="600" cy="113" r="16.4"/><circle cx="89" cy="812" r="22.1"/><circle cx="426" cy="413" r="17.6"/><circle cx="1081" cy="89" r="11.9"/><circle cx="699" cy="130" r="14.8"/><circle cx="1074" cy="245" r="9.9"/><circle cx="883" cy="105" r="14.3"/><circle cx="523" cy="202" r="17.2"/><circle cx="32" cy="411" r="23.0"/><circle cx="270" cy="744" r="20.7"/><circle cx="373" cy="647" r="17.2"/><circle cx="214" cy="674" r="21.0"/><circle cx="626" cy="104" r="15.9"/><circle cx="924" cy="126" r="13.9"/><circle cx="425" cy="58" r="17.2"/><circle cx="480" cy="14" r="17.0"/><circle cx="636" cy="225" r="16.5"/><circle cx="470" cy="218" r="16.3"/><circle cx="1032" cy="275" r="10.9"/><circle cx="1037" cy="59" r="12.2"/><circle cx="276" cy="800" r="19.0"/><circle cx="1018" cy="203" r="12.0"/><circle cx="1131" cy="340" r="11.6"/><circle cx="934" cy="217" r="12.1"/><circle cx="378" cy="308" r="18.6"/><circle cx="824" cy="219" r="14.0"/><circle cx="507" cy="328" r="16.8"/><circle cx="115" cy="664" r="20.4"/><circle cx="828" cy="125" r="14.9"/><circle cx="98" cy="896" r="20.3"/><circle cx="12" cy="741" r="21.6"/><circle cx="88" cy="320" r="22.2"/><circle cx="193" cy="887" r="20.4"/><circle cx="63" cy="379" r="22.0"/><circle cx="368" cy="441" r="19.7"/><circle cx="560" cy="213" r="15.7"/><circle cx="553" cy="90" r="17.4"/><circle cx="936" cy="240" r="12.6"/><circle cx="712" cy="195" r="13.8"/><circle cx="211" cy="722" r="19.8"/><circle cx="310" cy="803" r="18.9"/><circle cx="211" cy="86" r="18.9"/><circle cx="1105" cy="66" r="10.8"/><circle cx="472" cy="462" r="16.3"/><circle cx="58" cy="149" r="22.6"/><circle cx="119" cy="334" r="20.5"/><circle cx="142" cy="496" r="20.0"/><circle cx="34" cy="956" r="21.3"/><circle cx="1079" cy="144" r="10.6"/><circle cx="494" cy="160" r="16.4"/><circle cx="1096" cy="118" r="12.0"/><circle cx="60" cy="922" r="22.4"/><circle cx="306" cy="208" r="18.8"/><circle cx="1123" cy="100" r="9.6"/><circle cx="10" cy="831" r="21.9"/><circle cx="218" cy="448" r="21.4"/><circle cx="257" cy="588" r="18.6"/><circle cx="1058" cy="274" r="10.0"/><circle cx="138" cy="736" r="21.9"/><circle cx="1050" cy="331" r="11.7"/><circle cx="15" cy="996" r="21.5"/><circle cx="991" cy="31" r="10.5"/><circle cx="846" cy="201" r="11.8"/><circle cx="603" cy="288" r="14.8"/><circle cx="1045" cy="152" r="11.4"/><circle cx="1139" cy="400" r="9.9"/><circle cx="284" cy="345" r="19.2"/><circle cx="436" cy="547" r="16.5"/><circle cx="16" cy="144" r="23.7"/><circle cx="751" cy="258" r="14.4"/><circle cx="342" cy="315" r="19.2"/><circle cx="151" cy="302" r="20.6"/><circle cx="787" cy="207" r="14.6"/><circle cx="1046" cy="246" r="11.3"/><circle cx="146" cy="897" r="19.4"/><circle cx="428" cy="613" r="17.4"/><circle cx="770" cy="44" r="13.9"/><circle cx="199" cy="538" r="21.3"/><circle cx="66" cy="13" r="22.6"/><circle cx="484" cy="67" r="16.1"/><circle cx="371" cy="402" r="17.2"/><circle cx="802" cy="112" r="14.0"/><circle cx="26" cy="700" r="22.7"/><circle cx="847" cy="256" r="14.3"/><circle cx="131" cy="940" r="21.8"/><circle cx="456" cy="40" r="17.0"/><circle cx="772" cy="185" r="15.1"/><circle cx="302" cy="448" r="19.8"/><circle cx="341" cy="44" r="19.9"/><circle cx="545" cy="56" r="17.2"/><circle cx="1127" cy="131" r="11.0"/><circle cx="310" cy="563" r="20.5"/><circle cx="494" cy="207" r="16.6"/><circle cx="421" cy="308" r="19.1"/><circle cx="164" cy="580" r="20.2"/><circle cx="243" cy="62" r="19.2"/><circle cx="435" cy="173" r="16.5"/><circle cx="909" cy="86" r="13.3"/><circle cx="789" cy="259" r="13.1"/><circle cx="1018" cy="305" r="10.5"/><circle cx="702" cy="83" r="15.4"/><circle cx="100" cy="41" r="21.2"/><circle cx="88" cy="420" r="20.3"/><circle cx="470" cy="176" r="18.8"/><circle cx="158" cy="799" r="19.5"/><circle cx="280" cy="384" r="18.0"/><circle cx="718" cy="220" r="14.1"/><circle cx="1001" cy="126" r="11.2"/><circle cx="112" cy="565" r="22.2"/><circle cx="129" cy="22" r="19.9"/><circle cx="345" cy="708" r="18.4"/><circle cx="1152" cy="14" r="9.5"/><circle cx="971" cy="37" r="11.0"/><circle cx="360" cy="174" r="17.3"/><circle cx="257" cy="412" r="18.8"/><circle cx="1200" cy="58" r="9.8"/><circle cx="930" cy="93" r="13.3"/><circle cx="395" cy="763" r="17.5"/><circle cx="1143" cy="136" r="8.6"/><circle cx="1202" cy="235" r="10.2"/><circle cx="1048" cy="188" r="12.2"/><circle cx="1209" cy="307" r="7.9"/><circle cx="2" cy="939" r="21.4"/><circle cx="826" cy="93" r="13.0"/><circle cx="835" cy="39" r="13.4"/><circle cx="886" cy="281" r="11.9"/><circle cx="1182" cy="399" r="9.3"/><circle cx="277" cy="648" r="20.2"/><circle cx="986" cy="246" r="10.8"/><circle cx="174" cy="701" r="20.2"/><circle cx="407" cy="393" r="16.6"/><circle cx="387" cy="249" r="19.3"/><circle cx="462" cy="596" r="18.7"/><circle cx="77" cy="779" r="21.3"/><circle cx="972" cy="206" r="13.2"/><circle cx="1066" cy="59" r="10.7"/><circle cx="243" cy="104" r="18.6"/><circle cx="830" cy="159" r="12.1"/><circle cx="1107" cy="334" r="11.5"/><circle cx="775" cy="230" r="14.2"/><circle cx="103" cy="739" r="20.9"/><circle cx="1057" cy="308" r="12.4"/><circle cx="401" cy="220" r="17.7"/><circle cx="348" cy="91" r="18.0"/><circle cx="1163" cy="373" r="9.0"/><circle cx="222" cy="856" r="19.1"/><circle cx="1065" cy="167" r="11.6"/><circle cx="199" cy="321" r="19.0"/><circle cx="527" cy="112" r="16.0"/><circle cx="315" cy="251" r="17.8"/><circle cx="980" cy="115" r="11.3"/><circle cx="154" cy="349" r="19.5"/><circle cx="78" cy="864" r="21.1"/><circle cx="407" cy="341" r="18.3"/><circle cx="67" cy="649" r="22.4"/><circle cx="1168" cy="339" r="11.3"/><circle cx="336" cy="200" r="19.6"/><circle cx="724" cy="65" r="13.8"/><circle cx="658" cy="300" r="15.0"/><circle cx="912" cy="282" r="11.8"/><circle cx="393" cy="794" r="19.1"/><circle cx="1101" cy="14" r="9.8"/><circle cx="913" cy="256" r="11.8"/><circle cx="933" cy="183" r="11.2"/><circle cx="1010" cy="32" r="12.5"/><circle cx="2" cy="196" r="23.7"/><circle cx="800" cy="186" r="12.7"/><circle cx="688" cy="230" r="13.7"/><circle cx="8" cy="878" r="21.3"/><circle cx="203" cy="238" r="20.1"/><circle cx="1041" cy="113" r="12.5"/><circle cx="822" cy="13" r="14.9"/><circle cx="195" cy="603" r="20.2"/><circle cx="1162" cy="277" r="11.2"/><circle cx="233" cy="15" r="20.1"/><circle cx="1199" cy="20" r="8.3"/><circle cx="868" cy="236" r="13.9"/><circle cx="959" cy="238" r="10.8"/><circle cx="261" cy="300" r="20.1"/><circle cx="1095" cy="211" r="10.0"/><circle cx="736" cy="92" r="13.1"/><circle cx="889" cy="134" r="11.9"/><circle cx="202" cy="767" r="19.8"/><circle cx="3" cy="786" r="22.8"/><circle cx="556" cy="414" r="17.4"/><circle cx="1122" cy="214" r="8.9"/><circle cx="728" cy="267" r="13.9"/><circle cx="234" cy="166" r="19.7"/><circle cx="232" cy="610" r="18.9"/><circle cx="597" cy="374" r="17.2"/><circle cx="61" cy="272" r="22.5"/><circle cx="522" cy="403" r="16.1"/><circle cx="137" cy="192" r="21.0"/><circle cx="902" cy="239" r="12.6"/><circle cx="195" cy="141" r="20.3"/><circle cx="712" cy="167" r="15.9"/><circle cx="1193" cy="145" r="9.8"/><circle cx="1177" cy="252" r="11.1"/><circle cx="668" cy="212" r="15.3"/><circle cx="1010" cy="105" r="12.8"/><circle cx="125" cy="769" r="20.4"/><circle cx="1093" cy="263" r="9.5"/><circle cx="9" cy="60" r="22.2"/><circle cx="770" cy="160" r="15.2"/><circle cx="303" cy="21" r="18.9"/><circle cx="284" cy="882" r="18.6"/><circle cx="741" cy="177" r="14.5"/><circle cx="375" cy="567" r="17.3"/><circle cx="262" cy="456" r="20.6"/><circle cx="405" cy="27" r="17.6"/><circle cx="334" cy="767" r="19.9"/><circle cx="757" cy="129" r="15.1"/><circle cx="555" cy="383" r="17.3"/><circle cx="694" cy="252" r="15.1"/><circle cx="500" cy="35" r="16.9"/><circle cx="1112" cy="312" r="10.7"/><circle cx="356" cy="283" r="19.1"/><circle cx="1146" cy="265" r="11.0"/><circle cx="1166" cy="403" r="9.6"/><circle cx="1018" cy="248" r="12.2"/><circle cx="750" cy="67" r="14.5"/><circle cx="723" cy="119" r="14.9"/><circle cx="454" cy="305" r="18.3"/><circle cx="684" cy="284" r="14.3"/><circle cx="1171" cy="143" r="11.0"/><circle cx="512" cy="258" r="16.4"/><circle cx="643" cy="44" r="14.2"/><circle cx="332" cy="459" r="18.1"/><circle cx="1023" cy="13" r="11.2"/><circle cx="298" cy="530" r="18.6"/><circle cx="1194" cy="193" r="10.1"/><circle cx="1162" cy="85" r="10.5"/><circle cx="592" cy="150" r="16.1"/><circle cx="506" cy="445" r="17.2"/><circle cx="948" cy="161" r="11.5"/><circle cx="333" cy="357" r="19.7"/><circle cx="1079" cy="306" r="9.6"/><circle cx="948" cy="133" r="11.6"/><circle cx="577" cy="286" r="17.6"/><circle cx="166" cy="80" r="22.2"/><circle cx="864" cy="136" r="12.4"/><circle cx="437" cy="19" r="17.5"/><circle cx="1198" cy="334" r="8.9"/><circle cx="124" cy="803" r="20.8"/><circle cx="84" cy="100" r="21.0"/><circle cx="1133" cy="177" r="9.5"/><circle cx="453" cy="71" r="16.1"/><circle cx="815" cy="241" r="13.3"/><circle cx="642" cy="318" r="14.3"/><circle cx="534" cy="359" r="16.7"/><circle cx="1178" cy="290" r="9.2"/><circle cx="1115" cy="380" r="9.7"/><circle cx="1085" cy="229" r="10.0"/><circle cx="1099" cy="143" r="10.6"/><circle cx="1124" cy="230" r="11.4"/><circle cx="390" cy="682" r="18.9"/><circle cx="942" cy="50" r="12.9"/><circle cx="1102" cy="241" r="9.7"/><circle cx="1149" cy="385" r="10.4"/><circle cx="850" cy="179" r="13.8"/><circle cx="1154" cy="304" r="10.5"/><circle cx="983" cy="64" r="11.6"/><circle cx="1197" cy="378" r="10.8"/><circle cx="406" cy="132" r="17.6"/><circle cx="1185" cy="267" r="11.0"/><circle cx="319" cy="626" r="18.7"/><circle cx="995" cy="84" r="10.3"/><circle cx="419" cy="478" r="18.6"/><circle cx="151" cy="673" r="20.6"/><circle cx="908" cy="185" r="11.8"/><circle cx="1179" cy="164" r="8.6"/><circle cx="1199" cy="411" r="9.5"/><circle cx="1038" cy="36" r="12.0"/><circle cx="502" cy="482" r="15.9"/><circle cx="1023" cy="121" r="10.5"/><circle cx="1188" cy="213" r="8.8"/><circle cx="1153" cy="51" r="9.9"/><circle cx="1041" cy="18" r="10.1"/><circle cx="1138" cy="362" r="11.2"/><circle cx="1131" cy="291" r="9.6"/><circle cx="924" cy="69" r="12.8"/><circle cx="187" cy="422" r="19.1"/><circle cx="559" cy="13" r="16.5"/><circle cx="657" cy="109" r="16.4"/><circle cx="1143" cy="199" r="11.0"/><circle cx="381" cy="62" r="17.5"/><circle cx="534" cy="32" r="15.9"/><circle cx="823" cy="182" r="13.7"/><circle cx="525" cy="160" r="16.8"/><circle cx="280" cy="686" r="18.4"/><circle cx="887" cy="19" r="13.2"/><circle cx="307" cy="493" r="18.3"/><circle cx="505" cy="134" r="17.2"/><circle cx="1097" cy="283" r="11.4"/><circle cx="1180" cy="379" r="9.8"/><circle cx="668" cy="175" r="14.6"/><circle cx="1184" cy="328" r="8.4"/><circle cx="364" cy="509" r="20.0"/><circle cx="1174" cy="41" r="11.1"/><circle cx="1146" cy="284" r="9.4"/><circle cx="806" cy="28" r="12.4"/><circle cx="1182" cy="57" r="10.4"/><circle cx="640" cy="183" r="14.9"/><circle cx="1181" cy="129" r="9.9"/><circle cx="819" cy="265" r="15.0"/><circle cx="1177" cy="360" r="9.1"/><circle cx="211" cy="918" r="20.1"/><circle cx="168" cy="388" r="19.6"/><circle cx="201" cy="284" r="21.5"/><circle cx="952" cy="191" r="11.9"/><circle cx="1179" cy="92" r="10.7"/><circle cx="1032" cy="172" r="10.4"/><circle cx="571" cy="312" r="15.0"/><circle cx="859" cy="15" r="13.1"/><circle cx="1124" cy="50" r="11.5"/><circle cx="1203" cy="94" r="10.6"/><circle cx="334" cy="164" r="17.6"/><circle cx="1066" cy="201" r="11.4"/><circle cx="547" cy="144" r="15.5"/><circle cx="879" cy="155" r="11.8"/><circle cx="2" cy="594" r="22.7"/><circle cx="1207" cy="117" r="9.9"/><circle cx="607" cy="39" r="14.9"/><circle cx="772" cy="274" r="12.6"/><circle cx="713" cy="19" r="13.8"/><circle cx="1150" cy="235" r="8.7"/><circle cx="1204" cy="34" r="9.0"/><circle cx="1159" cy="32" r="8.4"/><circle cx="1038" cy="83" r="10.6"/><circle cx="1171" cy="111" r="8.7"/><circle cx="1189" cy="314" r="9.0"/><circle cx="777" cy="118" r="13.9"/><circle cx="693" cy="49" r="15.8"/><circle cx="1011" cy="73" r="10.2"/><circle cx="1132" cy="253" r="9.2"/><circle cx="941" cy="21" r="12.8"/><circle cx="333" cy="657" r="18.9"/><circle cx="1173" cy="17" r="9.8"/><circle cx="263" cy="151" r="20.6"/><circle cx="1003" cy="53" r="12.3"/><circle cx="1209" cy="179" r="9.2"/><circle cx="311" cy="868" r="19.6"/><circle cx="598" cy="332" r="16.5"/><circle cx="601" cy="254" r="14.6"/><circle cx="1086" cy="188" r="9.8"/><circle cx="2" cy="382" r="22.4"/><circle cx="906" cy="60" r="11.7"/><circle cx="448" cy="203" r="16.4"/><circle cx="1187" cy="112" r="9.5"/><circle cx="209" cy="636" r="20.3"/><circle cx="946" cy="76" r="13.4"/><circle cx="1148" cy="183" r="8.6"/><circle cx="851" cy="119" r="12.1"/><circle cx="1136" cy="157" r="10.9"/><circle cx="540" cy="328" r="15.3"/><circle cx="274" cy="182" r="19.8"/><circle cx="913" cy="212" r="12.8"/><circle cx="220" cy="579" r="19.9"/><circle cx="392" cy="626" r="16.9"/><circle cx="1209" cy="260" r="10.2"/><circle cx="267" cy="81" r="18.5"/><circle cx="1081" cy="48" r="10.6"/><circle cx="915" cy="15" r="12.6"/><circle cx="36" cy="766" r="21.4"/><circle cx="37" cy="600" r="20.8"/><circle cx="785" cy="21" r="14.5"/><circle cx="394" cy="496" r="17.0"/><circle cx="759" cy="92" r="14.7"/><circle cx="432" cy="363" r="16.8"/><circle cx="60" cy="343" r="21.7"/><circle cx="48" cy="452" r="22.6"/><circle cx="1114" cy="24" r="10.0"/><circle cx="1000" cy="286" r="12.2"/><circle cx="1071" cy="221" r="9.5"/><circle cx="970" cy="15" r="11.2"/><circle cx="363" cy="747" r="17.6"/><circle cx="667" cy="30" r="15.7"/><circle cx="682" cy="110" r="13.8"/><circle cx="895" cy="167" r="11.4"/><circle cx="1145" cy="88" r="10.0"/><circle cx="107" cy="240" r="20.5"/><circle cx="886" cy="80" r="13.1"/><circle cx="1188" cy="75" r="10.8"/><circle cx="1139" cy="313" r="9.1"/><circle cx="470" cy="136" r="18.6"/><circle cx="147" cy="463" r="20.8"/><circle cx="123" cy="701" r="20.3"/><circle cx="3" cy="672" r="22.3"/><circle cx="1001" cy="12" r="10.8"/><circle cx="848" cy="225" r="13.0"/><circle cx="1102" cy="188" r="9.5"/><circle cx="1126" cy="322" r="9.8"/><circle cx="1163" cy="162" r="9.5"/><circle cx="394" cy="421" r="19.5"/><circle cx="1164" cy="67" r="10.7"/><circle cx="1172" cy="304" r="8.5"/><circle cx="1208" cy="154" r="10.5"/><circle cx="1078" cy="276" r="11.8"/><circle cx="1157" cy="354" r="10.0"/><circle cx="354" cy="625" r="17.8"/><circle cx="491" cy="235" r="16.7"/><circle cx="963" cy="145" r="12.1"/><circle cx="5" cy="301" r="21.0"/><circle cx="1" cy="438" r="22.8"/><circle cx="241" cy="552" r="18.6"/><circle cx="196" cy="58" r="19.1"/><circle cx="73" cy="236" r="21.3"/><circle cx="745" cy="151" r="13.0"/><circle cx="975" cy="230" r="11.3"/><circle cx="378" cy="102" r="17.0"/><circle cx="1173" cy="185" r="9.3"/><circle cx="1204" cy="209" r="8.3"/><circle cx="308" cy="323" r="18.0"/><circle cx="841" cy="63" r="14.7"/><circle cx="1053" cy="134" r="9.7"/><circle cx="6" cy="103" r="23.0"/><circle cx="905" cy="144" r="11.3"/><circle cx="1028" cy="227" r="11.7"/><circle cx="427" cy="696" r="17.6"/><circle cx="1206" cy="133" r="9.0"/><circle cx="1133" cy="380" r="10.2"/><circle cx="503" cy="92" r="17.3"/><circle cx="255" cy="361" r="18.5"/><circle cx="891" cy="257" r="12.3"/><circle cx="793" cy="45" r="13.0"/><circle cx="441" cy="276" r="17.0"/><circle cx="532" cy="437" r="16.0"/><circle cx="1087" cy="366" r="9.2"/><circle cx="1056" cy="39" r="10.3"/><circle cx="1087" cy="333" r="10.0"/><circle cx="723" cy="144" r="13.4"/><circle cx="581" cy="198" r="14.8"/><circle cx="1197" cy="167" r="8.6"/><circle cx="5" cy="509" r="22.8"/><circle cx="670" cy="88" r="14.0"/><circle cx="451" cy="488" r="17.9"/><circle cx="1159" cy="257" r="8.4"/><circle cx="208" cy="186" r="19.6"/><circle cx="1199" cy="291" r="9.9"/><circle cx="132" cy="100" r="20.3"/><circle cx="1207" cy="322" r="8.1"/><circle cx="1207" cy="72" r="8.1"/><circle cx="521" cy="298" r="17.5"/><circle cx="1137" cy="41" r="8.8"/><circle cx="439" cy="330" r="16.5"/><circle cx="1095" cy="317" r="10.4"/><circle cx="645" cy="82" r="14.4"/><circle cx="1187" cy="177" r="8.9"/><circle cx="1038" cy="300" r="10.7"/><circle cx="1152" cy="338" r="8.5"/><circle cx="1115" cy="293" r="9.7"/><circle cx="42" cy="847" r="21.0"/><circle cx="1121" cy="356" r="9.2"/><circle cx="606" cy="14" r="14.5"/><circle cx="1209" cy="345" r="8.7"/><circle cx="231" cy="133" r="20.2"/><circle cx="989" cy="167" r="11.9"/><circle cx="1063" cy="258" r="9.9"/><circle cx="405" cy="451" r="16.6"/><circle cx="1060" cy="232" r="9.8"/><circle cx="946" cy="259" r="12.0"/><circle cx="717" cy="42" r="14.6"/><circle cx="925" cy="269" r="11.0"/><circle cx="1001" cy="236" r="10.7"/><circle cx="359" cy="678" r="18.2"/><circle cx="1155" cy="129" r="8.9"/><circle cx="690" cy="201" r="14.7"/><circle cx="1185" cy="29" r="8.9"/><circle cx="1115" cy="149" r="10.8"/><circle cx="614" cy="311" r="15.0"/><circle cx="731" cy="243" r="15.4"/><circle cx="1082" cy="15" r="10.1"/><circle cx="326" cy="278" r="17.5"/><circle cx="432" cy="582" r="17.0"/><circle cx="1021" cy="89" r="10.9"/><circle cx="680" cy="154" r="14.4"/><circle cx="1117" cy="78" r="8.9"/><circle cx="1014" cy="185" r="10.0"/><circle cx="449" cy="100" r="18.6"/><circle cx="365" cy="336" r="18.2"/><circle cx="150" cy="161" r="19.8"/><circle cx="910" cy="108" r="13.1"/><circle cx="1097" cy="51" r="10.3"/><circle cx="178" cy="217" r="19.8"/><circle cx="440" cy="642" r="18.3"/><circle cx="415" cy="518" r="16.8"/><circle cx="97" cy="935" r="20.6"/><circle cx="101" cy="627" r="20.6"/><circle cx="339" cy="14" r="17.5"/><circle cx="863" cy="76" r="12.2"/><circle cx="962" cy="63" r="12.1"/><circle cx="1041" cy="207" r="10.6"/><circle cx="734" cy="203" r="14.1"/><circle cx="1105" cy="225" r="10.9"/><circle cx="615" cy="137" r="16.5"/><circle cx="321" cy="596" r="18.4"/><circle cx="49" cy="992" r="21.2"/><circle cx="854" cy="155" r="12.9"/><circle cx="1082" cy="128" r="9.3"/><circle cx="1161" cy="197" r="8.8"/><circle cx="933" cy="147" r="12.7"/><circle cx="22" cy="911" r="21.7"/><circle cx="296" cy="832" r="20.4"/><circle cx="1018" cy="288" r="10.2"/><circle cx="1179" cy="414" r="10.1"/><circle cx="1012" cy="270" r="10.7"/></g>
<path d="M405 770C410 640 470 500 560 400C640 310 760 262 860 256C960 262 1080 310 1160 410C1230 500 1290 620 1300 700C1300 770 1240 820 1150 850C1060 880 960 895 860 890C780 880 720 860 640 868C560 880 470 880 430 850Z" fill="url(#bub)"/>
<path d="M740 305L905 325L785 498Z" fill="#700" fill-opacity="0.1"/>
<path d="M905 325L785 498L945 455Z" fill="#fff" fill-opacity="0.16"/>
<path d="M905 325L945 455L1050 385Z" fill="#700" fill-opacity="0.05"/>
<path d="M640 445L545 555L650 525Z" fill="#fff" fill-opacity="0.2"/>
<path d="M785 498L650 525L895 540Z" fill="#700" fill-opacity="0.12"/>
<path d="M785 498L945 455L895 540Z" fill="#fff" fill-opacity="0.1"/>
<path d="M945 455L1050 385L960 550Z" fill="#700" fill-opacity="0.16"/>
<path d="M1050 385L960 550L1090 575Z" fill="#fff" fill-opacity="0.05"/>
<path d="M1050 385L1090 575L1200 520Z" fill="#fff" fill-opacity="0.2"/>
<path d="M650 525L895 540L885 710Z" fill="#fff" fill-opacity="0.12"/>
<path d="M650 525L505 632L655 780Z" fill="#fff" fill-opacity="0.1"/>
<path d="M895 540L960 550L885 710Z" fill="#fff" fill-opacity="0.16"/>
<path d="M960 550L885 710L1065 735Z" fill="#fff" fill-opacity="0.05"/>
<path d="M960 550L1090 575L1065 735Z" fill="#700" fill-opacity="0.2"/>
<path d="M1090 575L1065 735L1150 830Z" fill="#fff" fill-opacity="0.12"/>
<path d="M505 632L655 780L525 778Z" fill="#700" fill-opacity="0.1"/>
<path d="M885 710L1065 735L940 818Z" fill="#fff" fill-opacity="0.16"/>
<path d="M885 710L940 818L815 878Z" fill="#700" fill-opacity="0.05"/>
<path d="M1065 735L940 818L1150 830Z" fill="#fff" fill-opacity="0.2"/>
<path d="M545 555L505 632M785 498L945 455M945 455L960 550M785 498L650 525M1065 735L940 818M740 305L640 445M895 540L960 550M1050 385L1090 575M960 550L1065 735M905 325L785 498M1090 575L1150 830M885 710L1065 735M940 818L815 878M655 780L525 778M650 525L885 710M945 455L1050 385M945 455L895 540M505 632L655 780M1050 385L960 550M1065 735L1150 830M740 305L905 325M960 550L1090 575M1090 575L1200 520M960 550L885 710M640 445L650 525M905 325L1050 385M1090 575L1065 735M885 710L940 818M885 710L815 878M545 555L650 525M650 525L505 632M655 780L815 878M940 818L1150 830M650 525L655 780M785 498L895 540M505 632L525 778M1050 385L1200 520M740 305L785 498M525 778L815 878M905 325L945 455M640 445L785 498M895 540L885 710M640 445L545 555M1200 520L1150 830M885 710L655 780M650 525L895 540" stroke="#ffb0a8" stroke-opacity="0.45" stroke-width="4" fill="none"/>
<g fill="#f01818"><circle cx="740" cy="305" r="9"/><circle cx="905" cy="325" r="9"/><circle cx="640" cy="445" r="9"/><circle cx="785" cy="498" r="9"/><circle cx="945" cy="455" r="9"/><circle cx="1050" cy="385" r="9"/><circle cx="545" cy="555" r="9"/><circle cx="650" cy="525" r="9"/><circle cx="895" cy="540" r="9"/><circle cx="960" cy="550" r="9"/><circle cx="1090" cy="575" r="9"/><circle cx="1200" cy="520" r="9"/><circle cx="505" cy="632" r="9"/><circle cx="885" cy="710" r="9"/><circle cx="1065" cy="735" r="9"/><circle cx="655" cy="780" r="9"/><circle cx="940" cy="818" r="9"/><circle cx="525" cy="778" r="9"/><circle cx="1150" cy="830" r="9"/><circle cx="815" cy="878" r="9"/><circle cx="1030" cy="600" r="9"/></g>
<ellipse cx="590" cy="628" rx="24" ry="20" fill="#3a0505" fill-opacity="0.75"/>
<ellipse cx="760" cy="455" rx="22" ry="18" fill="#3a0505" fill-opacity="0.75"/>
<ellipse cx="985" cy="410" rx="22" ry="18" fill="#3a0505" fill-opacity="0.75"/>
<ellipse cx="780" cy="722" rx="22" ry="18" fill="#3a0505" fill-opacity="0.75"/>
<ellipse cx="870" cy="640" rx="30" ry="22" fill="#3a0505" fill-opacity="0.75"/>
<ellipse cx="1045" cy="462" rx="20" ry="16" fill="#3a0505" fill-opacity="0.75"/>
<g fill="url(#rg)"><circle cx="610" cy="50" r="38"/><circle cx="1270" cy="120" r="52"/><circle cx="1210" cy="40" r="18"/><circle cx="1295" cy="58" r="15"/><circle cx="815" cy="100" r="28"/><circle cx="942" cy="88" r="17"/><circle cx="1052" cy="118" r="20"/><circle cx="522" cy="192" r="20"/><circle cx="1517" cy="203" r="17"/><circle cx="990" cy="262" r="27"/><circle cx="1175" cy="265" r="12"/><circle cx="1360" cy="367" r="20"/><circle cx="1292" cy="365" r="12"/><circle cx="1535" cy="365" r="18"/><circle cx="1578" cy="345" r="18"/><circle cx="1452" cy="408" r="14"/><circle cx="1478" cy="408" r="14"/><circle cx="1322" cy="430" r="14"/><circle cx="1400" cy="523" r="22"/><circle cx="1475" cy="505" r="15"/><circle cx="185" cy="537" r="33"/><circle cx="215" cy="740" r="25"/><circle cx="188" cy="920" r="36"/><circle cx="708" cy="895" r="55"/><circle cx="1030" cy="1015" r="25"/><circle cx="1370" cy="730" r="18"/><circle cx="1538" cy="748" r="22"/><circle cx="1500" cy="780" r="25"/><circle cx="760" cy="605" r="32"/><circle cx="735" cy="740" r="30"/><circle cx="730" cy="403" r="24"/><circle cx="455" cy="598" r="30"/><circle cx="1010" cy="355" r="22"/><circle cx="1220" cy="425" r="20"/><circle cx="1238" cy="460" r="15"/><circle cx="670" cy="270" r="20"/></g>
<path d="M312 872C360 905 430 915 470 860L452 842L512 800L505 872L490 858C450 935 360 925 312 872Z" fill="url(#ba)" stroke="#2a35a0" stroke-width="2"/>
<path d="M1262 912C1200 985 1060 990 1010 890L985 905L958 800L1040 868L1022 878C1070 950 1190 940 1262 912Z" fill="url(#ba)" stroke="#2a35a0" stroke-width="2"/>
<path d="M1405 722C1370 810 1250 830 1180 790L1165 812L1118 738L1205 745L1192 765C1260 800 1360 780 1405 722Z" fill="url(#ba)" stroke="#2a35a0" stroke-width="2"/>
<g transform="translate(787 1106) rotate(-25.4)" font-family="'Liberation Sans',sans-serif" font-size="76"><text x="3" y="4" fill="#2a2f8a" textLength="790" lengthAdjust="spacingAndGlyphs"><tspan font-style="italic">g</tspan>as evolution reaction</text><text x="0" y="0" fill="#fff" textLength="790" lengthAdjust="spacingAndGlyphs"><tspan font-style="italic">g</tspan>as evolution reaction</text></g>
</g></svg>
<svg width="3181" height="4496" viewBox="0 0 3181 4496" style="left:0;top:0;font-family:'Liberation Sans',sans-serif"><defs><pattern id="teal" width="48" height="48" patternUnits="userSpaceOnUse"><rect width="48" height="48" fill="#177787"/><g fill="#0a4350"><circle cx="13.6" cy="35.7" r="1.6"/><circle cx="13.6" cy="7.3" r="1.6"/><circle cx="21.4" cy="18.1" r="1.6"/><circle cx="25.4" cy="26.4" r="1.6"/><circle cx="27.3" cy="5.4" r="1.6"/><circle cx="6.8" cy="12.2" r="1.6"/><circle cx="27.8" cy="17.3" r="1.6"/><circle cx="5.9" cy="34.0" r="1.6"/><circle cx="42.0" cy="24.5" r="1.6"/><circle cx="9.9" cy="47.8" r="1.6"/><circle cx="25.7" cy="2.7" r="1.6"/><circle cx="40.6" cy="0.1" r="1.6"/><circle cx="21.6" cy="22.4" r="1.6"/><circle cx="13.9" cy="19.0" r="1.6"/><circle cx="21.6" cy="28.4" r="1.6"/><circle cx="32.8" cy="34.3" r="1.6"/><circle cx="17.0" cy="8.2" r="1.6"/><circle cx="21.3" cy="43.7" r="1.6"/><circle cx="34.1" cy="26.1" r="1.6"/><circle cx="20.0" cy="0.2" r="1.6"/><circle cx="22.1" cy="2.0" r="1.6"/><circle cx="47.8" cy="7.5" r="1.6"/><circle cx="31.1" cy="41.1" r="1.6"/><circle cx="22.6" cy="2.3" r="1.6"/><circle cx="3.9" cy="12.1" r="1.6"/><circle cx="10.2" cy="32.8" r="1.6"/><circle cx="40.3" cy="15.0" r="1.6"/><circle cx="19.3" cy="47.1" r="1.6"/></g><g fill="#27a0b2"><circle cx="35.5" cy="27.2" r="2.5"/><circle cx="9.5" cy="4.2" r="2.5"/><circle cx="43.9" cy="18.4" r="2.5"/><circle cx="14.9" cy="30.0" r="2.5"/><circle cx="21.2" cy="12.6" r="2.5"/><circle cx="40.8" cy="46.6" r="2.5"/><circle cx="38.6" cy="3.2" r="2.5"/><circle cx="46.1" cy="45.5" r="2.5"/><circle cx="31.4" cy="23.6" r="2.5"/><circle cx="4.3" cy="23.3" r="2.5"/><circle cx="19.1" cy="16.3" r="2.5"/><circle cx="45.1" cy="6.3" r="2.5"/><circle cx="30.5" cy="39.3" r="2.5"/><circle cx="4.0" cy="28.1" r="2.5"/><circle cx="7.3" cy="18.1" r="2.5"/><circle cx="42.6" cy="31.2" r="2.5"/><circle cx="46.1" cy="25.5" r="2.5"/><circle cx="32.0" cy="3.6" r="2.5"/><circle cx="25.1" cy="26.4" r="2.5"/><circle cx="24.1" cy="10.4" r="2.5"/><circle cx="42.1" cy="6.6" r="2.5"/><circle cx="4.0" cy="33.8" r="2.5"/><circle cx="45.7" cy="36.7" r="2.5"/><circle cx="10.4" cy="46.6" r="2.5"/><circle cx="0.4" cy="17.4" r="2.5"/><circle cx="42.9" cy="8.7" r="2.5"/><circle cx="23.9" cy="13.2" r="2.5"/><circle cx="6.0" cy="13.8" r="2.5"/><circle cx="17.2" cy="4.5" r="2.5"/><circle cx="43.3" cy="21.6" r="2.5"/><circle cx="40.0" cy="9.3" r="2.5"/><circle cx="39.9" cy="45.2" r="2.5"/><circle cx="0.4" cy="16.8" r="2.5"/><circle cx="5.5" cy="32.9" r="2.5"/><circle cx="17.0" cy="5.2" r="2.5"/><circle cx="47.7" cy="29.6" r="2.5"/><circle cx="24.1" cy="5.6" r="2.5"/><circle cx="13.0" cy="15.0" r="2.5"/><circle cx="15.8" cy="33.6" r="2.5"/><circle cx="2.6" cy="19.8" r="2.5"/><circle cx="26.1" cy="34.6" r="2.5"/><circle cx="18.8" cy="33.3" r="2.5"/><circle cx="29.2" cy="38.5" r="2.5"/><circle cx="12.5" cy="43.0" r="2.5"/><circle cx="47.7" cy="26.2" r="2.5"/><circle cx="39.1" cy="5.1" r="2.5"/><circle cx="27.8" cy="15.5" r="2.5"/><circle cx="9.7" cy="1.0" r="2.5"/><circle cx="37.5" cy="36.7" r="2.5"/><circle cx="32.0" cy="21.8" r="2.5"/><circle cx="18.8" cy="24.8" r="2.5"/><circle cx="11.5" cy="25.0" r="2.5"/><circle cx="13.9" cy="17.0" r="2.5"/><circle cx="38.5" cy="30.1" r="2.5"/><circle cx="18.2" cy="24.6" r="2.5"/><circle cx="43.8" cy="11.8" r="2.5"/><circle cx="15.6" cy="17.6" r="2.5"/><circle cx="37.4" cy="24.3" r="2.5"/><circle cx="35.2" cy="19.0" r="2.5"/><circle cx="21.8" cy="32.8" r="2.5"/><circle cx="8.5" cy="36.2" r="2.5"/><circle cx="3.9" cy="7.5" r="2.5"/><circle cx="13.2" cy="36.0" r="2.5"/><circle cx="41.7" cy="39.9" r="2.5"/><circle cx="23.0" cy="26.6" r="2.5"/><circle cx="5.3" cy="20.2" r="2.5"/><circle cx="27.2" cy="33.9" r="2.5"/><circle cx="42.3" cy="35.4" r="2.5"/><circle cx="28.6" cy="37.9" r="2.5"/><circle cx="21.4" cy="20.4" r="2.5"/><circle cx="5.0" cy="45.6" r="2.5"/><circle cx="27.4" cy="43.2" r="2.5"/><circle cx="6.5" cy="39.4" r="2.5"/><circle cx="18.7" cy="31.4" r="2.5"/><circle cx="15.0" cy="39.8" r="2.5"/><circle cx="35.2" cy="27.5" r="2.5"/><circle cx="40.1" cy="29.6" r="2.5"/><circle cx="39.6" cy="32.2" r="2.5"/><circle cx="38.7" cy="40.1" r="2.5"/><circle cx="15.7" cy="41.8" r="2.5"/><circle cx="26.3" cy="7.1" r="2.5"/><circle cx="6.2" cy="31.3" r="2.5"/><circle cx="5.0" cy="32.2" r="2.5"/><circle cx="16.6" cy="20.9" r="2.5"/><circle cx="20.5" cy="32.1" r="2.5"/><circle cx="27.0" cy="11.7" r="2.5"/><circle cx="9.7" cy="23.6" r="2.5"/><circle cx="22.3" cy="39.7" r="2.5"/><circle cx="34.6" cy="1.4" r="2.5"/><circle cx="34.6" cy="20.3" r="2.5"/><circle cx="13.2" cy="20.9" r="2.5"/><circle cx="23.6" cy="42.6" r="2.5"/></g><g fill="#6fd3de"><circle cx="34.8" cy="26.4" r="1.1"/><circle cx="8.8" cy="3.4" r="1.1"/><circle cx="43.2" cy="17.6" r="1.1"/><circle cx="14.2" cy="29.2" r="1.1"/><circle cx="20.5" cy="11.8" r="1.1"/><circle cx="40.1" cy="45.8" r="1.1"/><circle cx="37.9" cy="2.4" r="1.1"/><circle cx="45.4" cy="44.7" r="1.1"/><circle cx="30.7" cy="22.8" r="1.1"/><circle cx="3.6" cy="22.5" r="1.1"/><circle cx="18.4" cy="15.5" r="1.1"/><circle cx="44.4" cy="5.5" r="1.1"/><circle cx="29.8" cy="38.5" r="1.1"/><circle cx="3.3" cy="27.3" r="1.1"/><circle cx="6.6" cy="17.3" r="1.1"/><circle cx="41.9" cy="30.4" r="1.1"/><circle cx="45.4" cy="24.7" r="1.1"/><circle cx="31.3" cy="2.8" r="1.1"/><circle cx="24.4" cy="25.6" r="1.1"/><circle cx="23.4" cy="9.6" r="1.1"/><circle cx="41.4" cy="5.8" r="1.1"/><circle cx="3.3" cy="33.0" r="1.1"/><circle cx="45.0" cy="35.9" r="1.1"/><circle cx="9.7" cy="45.8" r="1.1"/><circle cx="-0.3" cy="16.6" r="1.1"/><circle cx="42.2" cy="7.9" r="1.1"/><circle cx="23.2" cy="12.4" r="1.1"/><circle cx="5.3" cy="13.0" r="1.1"/><circle cx="16.5" cy="3.7" r="1.1"/><circle cx="42.6" cy="20.8" r="1.1"/><circle cx="39.3" cy="8.5" r="1.1"/><circle cx="39.2" cy="44.4" r="1.1"/><circle cx="-0.3" cy="16.0" r="1.1"/><circle cx="4.8" cy="32.1" r="1.1"/><circle cx="16.3" cy="4.4" r="1.1"/><circle cx="47.0" cy="28.8" r="1.1"/><circle cx="23.4" cy="4.8" r="1.1"/><circle cx="12.3" cy="14.2" r="1.1"/><circle cx="15.1" cy="32.8" r="1.1"/><circle cx="1.9" cy="19.0" r="1.1"/><circle cx="25.4" cy="33.8" r="1.1"/><circle cx="18.1" cy="32.5" r="1.1"/><circle cx="28.5" cy="37.7" r="1.1"/><circle cx="11.8" cy="42.2" r="1.1"/><circle cx="47.0" cy="25.4" r="1.1"/><circle cx="38.4" cy="4.3" r="1.1"/><circle cx="27.1" cy="14.7" r="1.1"/><circle cx="9.0" cy="0.2" r="1.1"/><circle cx="36.8" cy="35.9" r="1.1"/><circle cx="31.3" cy="21.0" r="1.1"/><circle cx="18.1" cy="24.0" r="1.1"/><circle cx="10.8" cy="24.2" r="1.1"/><circle cx="13.2" cy="16.2" r="1.1"/><circle cx="37.8" cy="29.3" r="1.1"/><circle cx="17.5" cy="23.8" r="1.1"/><circle cx="43.1" cy="11.0" r="1.1"/><circle cx="14.9" cy="16.8" r="1.1"/><circle cx="36.7" cy="23.5" r="1.1"/><circle cx="34.5" cy="18.2" r="1.1"/><circle cx="21.1" cy="32.0" r="1.1"/><circle cx="7.8" cy="35.4" r="1.1"/><circle cx="3.2" cy="6.7" r="1.1"/><circle cx="12.5" cy="35.2" r="1.1"/><circle cx="41.0" cy="39.1" r="1.1"/><circle cx="22.3" cy="25.8" r="1.1"/><circle cx="4.6" cy="19.4" r="1.1"/><circle cx="26.5" cy="33.1" r="1.1"/><circle cx="41.6" cy="34.6" r="1.1"/><circle cx="27.9" cy="37.1" r="1.1"/><circle cx="20.7" cy="19.6" r="1.1"/><circle cx="4.3" cy="44.8" r="1.1"/><circle cx="26.7" cy="42.4" r="1.1"/><circle cx="5.8" cy="38.6" r="1.1"/><circle cx="18.0" cy="30.6" r="1.1"/><circle cx="14.3" cy="39.0" r="1.1"/><circle cx="34.5" cy="26.7" r="1.1"/><circle cx="39.4" cy="28.8" r="1.1"/><circle cx="38.9" cy="31.4" r="1.1"/><circle cx="38.0" cy="39.3" r="1.1"/><circle cx="15.0" cy="41.0" r="1.1"/><circle cx="25.6" cy="6.3" r="1.1"/><circle cx="5.5" cy="30.5" r="1.1"/><circle cx="4.3" cy="31.4" r="1.1"/><circle cx="15.9" cy="20.1" r="1.1"/><circle cx="19.8" cy="31.3" r="1.1"/><circle cx="26.3" cy="10.9" r="1.1"/><circle cx="9.0" cy="22.8" r="1.1"/><circle cx="21.6" cy="38.9" r="1.1"/><circle cx="33.9" cy="0.6" r="1.1"/><circle cx="33.9" cy="19.5" r="1.1"/><circle cx="12.5" cy="20.1" r="1.1"/><circle cx="22.9" cy="41.8" r="1.1"/></g><g fill="#f4fbfc"><circle cx="1.5" cy="4.2" r="1.1"/><circle cx="1.6" cy="32.3" r="1.1"/><circle cx="31.8" cy="15.5" r="1.1"/><circle cx="31.8" cy="30.4" r="1.1"/><circle cx="45.3" cy="14.0" r="1.1"/><circle cx="38.8" cy="45.4" r="1.1"/></g></pattern>
<pattern id="bat" width="9" height="15.4" patternUnits="userSpaceOnUse"><rect width="9" height="15.4" fill="#050505"/><circle cx="3.6" cy="2.9" r="1" fill="#555"/><circle cx="8.1" cy="10.6" r="1" fill="#555"/><circle cx="-0.9" cy="10.6" r="1" fill="#555"/></pattern>
<pattern id="wat" width="9" height="15.4" patternUnits="userSpaceOnUse"><rect width="9" height="15.4" fill="#7a7a7a"/><circle cx="4.5" cy="3.85" r="4.4" fill="#f6f6f6"/><circle cx="0" cy="11.55" r="4.4" fill="#f6f6f6"/><circle cx="9" cy="11.55" r="4.4" fill="#f6f6f6"/></pattern>
<radialGradient id="rg2" cx="0.36" cy="0.32" r="0.72"><stop offset="0" stop-color="#ff7a66"/><stop offset="0.35" stop-color="#ec1c16"/><stop offset="0.85" stop-color="#b80a0a"/><stop offset="1" stop-color="#6a0404"/></radialGradient></defs>
<path d="M107.2 2768.5L107.2 2494.8L114.9 2497.4L122.6 2494.5L130.3 2496.2L138.0 2500.7L145.7 2494.3L153.4 2497.4L161.1 2499.2L168.8 2495.2L176.5 2498.7L184.2 2494.5L192.0 2495.4L199.7 2497.1L207.4 2497.3L215.1 2498.7L222.8 2495.7L230.5 2497.5L238.2 2500.9L245.9 2499.5L253.6 2499.6L261.3 2495.3L269.0 2500.8L276.7 2495.9L284.4 2497.8L292.1 2498.7L299.8 2497.7L307.5 2499.7L315.2 2496.9L322.9 2494.5L330.6 2500.1L338.4 2494.6L346.1 2497.7L353.8 2499.8L361.5 2499.6L369.2 2497.8L376.9 2499.3L384.6 2500.1L392.3 2499.8L400.0 2500.1L407.7 2497.1L415.4 2497.6L415.4 2768.5Z" fill="url(#teal)"/>
<rect x="105.0" y="2767.5" width="314.7" height="45.3" rx="4" fill="url(#bat)"/>
<rect x="180.5" y="2769.5" width="163.8" height="32" rx="4" fill="url(#wat)"/>
<g fill="url(#rg2)"><circle cx="251.1" cy="2765.2" r="4.7"/><circle cx="323.2" cy="2764.8" r="4.7"/><circle cx="308.7" cy="2764.7" r="4.7"/><circle cx="295.7" cy="2764.7" r="4.7"/><circle cx="258.1" cy="2764.6" r="4.7"/><circle cx="218.9" cy="2764.6" r="4.7"/><circle cx="208.5" cy="2764.4" r="4.7"/><circle cx="289.6" cy="2764.3" r="4.7"/><circle cx="321.8" cy="2764.2" r="4.7"/><circle cx="297.1" cy="2764.1" r="4.7"/><circle cx="249.7" cy="2764.1" r="4.7"/><circle cx="305.1" cy="2763.9" r="4.7"/><circle cx="208.4" cy="2763.9" r="4.7"/><circle cx="227.2" cy="2763.8" r="4.7"/><circle cx="296.2" cy="2763.5" r="4.7"/><circle cx="274.3" cy="2763.4" r="4.7"/><circle cx="304.9" cy="2763.4" r="4.7"/><circle cx="250.9" cy="2763.3" r="4.7"/><circle cx="211.7" cy="2763.3" r="4.7"/><circle cx="290.6" cy="2763.1" r="4.7"/><circle cx="319.2" cy="2763.0" r="4.7"/><circle cx="272.7" cy="2763.0" r="4.7"/><circle cx="270.5" cy="2763.0" r="4.7"/><circle cx="258.9" cy="2762.9" r="4.7"/><circle cx="255.0" cy="2762.8" r="4.7"/><circle cx="282.3" cy="2761.9" r="4.7"/><circle cx="245.2" cy="2761.8" r="4.7"/><circle cx="285.0" cy="2761.8" r="4.7"/><circle cx="203.6" cy="2761.6" r="4.7"/><circle cx="227.1" cy="2761.5" r="4.7"/><circle cx="316.7" cy="2761.4" r="4.7"/><circle cx="221.6" cy="2761.3" r="4.7"/><circle cx="248.5" cy="2761.3" r="4.7"/><circle cx="287.7" cy="2761.1" r="4.7"/><circle cx="313.7" cy="2760.9" r="4.7"/><circle cx="320.0" cy="2760.8" r="4.7"/><circle cx="271.2" cy="2760.8" r="4.7"/><circle cx="296.2" cy="2760.8" r="4.7"/><circle cx="290.7" cy="2760.5" r="4.7"/><circle cx="241.1" cy="2760.4" r="4.7"/><circle cx="259.1" cy="2760.4" r="4.7"/><circle cx="250.0" cy="2760.1" r="4.7"/><circle cx="207.0" cy="2760.0" r="4.7"/><circle cx="279.5" cy="2759.9" r="4.7"/><circle cx="267.8" cy="2759.8" r="4.7"/><circle cx="206.2" cy="2759.7" r="4.7"/><circle cx="212.4" cy="2759.7" r="4.7"/><circle cx="226.7" cy="2759.7" r="4.7"/><circle cx="285.2" cy="2759.2" r="4.7"/><circle cx="226.0" cy="2759.0" r="4.7"/><circle cx="246.3" cy="2758.7" r="4.7"/><circle cx="249.7" cy="2758.6" r="4.7"/><circle cx="255.4" cy="2758.2" r="4.7"/><circle cx="232.8" cy="2757.6" r="4.7"/><circle cx="226.3" cy="2757.5" r="4.7"/><circle cx="311.2" cy="2757.4" r="4.7"/><circle cx="286.8" cy="2757.2" r="4.7"/><circle cx="301.1" cy="2757.1" r="4.7"/><circle cx="262.3" cy="2756.7" r="4.7"/><circle cx="286.6" cy="2756.5" r="4.7"/><circle cx="221.3" cy="2756.4" r="4.7"/><circle cx="213.0" cy="2756.1" r="4.7"/><circle cx="225.4" cy="2756.0" r="4.7"/><circle cx="310.5" cy="2756.0" r="4.7"/><circle cx="257.5" cy="2756.0" r="4.7"/><circle cx="304.0" cy="2755.8" r="4.7"/><circle cx="277.6" cy="2755.4" r="4.7"/><circle cx="256.4" cy="2755.1" r="4.7"/><circle cx="299.0" cy="2754.7" r="4.7"/><circle cx="285.0" cy="2754.6" r="4.7"/><circle cx="275.2" cy="2754.3" r="4.7"/><circle cx="219.2" cy="2753.8" r="4.7"/><circle cx="224.7" cy="2753.7" r="4.7"/><circle cx="267.7" cy="2753.6" r="4.7"/><circle cx="286.0" cy="2753.5" r="4.7"/><circle cx="226.8" cy="2753.5" r="4.7"/><circle cx="304.4" cy="2753.4" r="4.7"/><circle cx="253.8" cy="2752.9" r="4.7"/><circle cx="247.4" cy="2752.7" r="4.7"/><circle cx="271.4" cy="2751.2" r="4.7"/><circle cx="228.0" cy="2751.2" r="4.7"/><circle cx="300.6" cy="2751.2" r="4.7"/><circle cx="240.7" cy="2750.8" r="4.7"/><circle cx="224.9" cy="2750.8" r="4.7"/><circle cx="238.2" cy="2750.1" r="4.7"/><circle cx="235.0" cy="2750.1" r="4.7"/><circle cx="290.4" cy="2749.4" r="4.7"/><circle cx="239.7" cy="2748.9" r="4.7"/><circle cx="255.6" cy="2748.9" r="4.7"/><circle cx="253.0" cy="2748.9" r="4.7"/><circle cx="291.8" cy="2748.3" r="4.7"/><circle cx="246.7" cy="2748.2" r="4.7"/><circle cx="276.9" cy="2747.5" r="4.7"/><circle cx="272.1" cy="2747.2" r="4.7"/><circle cx="267.4" cy="2745.6" r="4.7"/><circle cx="273.1" cy="2745.4" r="4.7"/><circle cx="240.5" cy="2744.8" r="4.7"/><circle cx="265.7" cy="2744.1" r="4.7"/><circle cx="283.1" cy="2743.8" r="4.7"/><circle cx="264.6" cy="2743.7" r="4.7"/><circle cx="274.9" cy="2742.9" r="4.7"/><circle cx="270.9" cy="2742.7" r="4.7"/><circle cx="301.1" cy="2489.4" r="4.5"/><circle cx="406.7" cy="2499.9" r="4.5"/><circle cx="174.6" cy="2500.6" r="4.5"/><circle cx="149.4" cy="2490.1" r="4.5"/><circle cx="326.0" cy="2491.9" r="4.5"/><circle cx="280.4" cy="2491.5" r="4.5"/><circle cx="171.7" cy="2497.8" r="4.5"/><circle cx="232.7" cy="2491.6" r="4.5"/><circle cx="265.0" cy="2494.5" r="4.5"/><circle cx="259.4" cy="2500.5" r="4.5"/><circle cx="160.0" cy="2489.2" r="4.5"/><circle cx="232.1" cy="2498.7" r="4.5"/><circle cx="260.8" cy="2498.0" r="4.5"/><circle cx="376.8" cy="2498.0" r="4.5"/><circle cx="297.2" cy="2489.5" r="4.5"/><circle cx="189.2" cy="2487.0" r="4.5"/><circle cx="316.6" cy="2489.5" r="4.5"/><circle cx="354.4" cy="2498.6" r="4.5"/><circle cx="124.3" cy="2616.0" r="4.2"/><circle cx="332.5" cy="2737.1" r="2.6"/><circle cx="353.0" cy="2731.8" r="3.2"/><circle cx="238.0" cy="2554.9" r="2.6"/><circle cx="356.4" cy="2596.6" r="4.2"/><circle cx="119.9" cy="2583.9" r="3.2"/><circle cx="176.0" cy="2577.2" r="2.6"/><circle cx="196.2" cy="2742.5" r="3.2"/><circle cx="173.1" cy="2582.7" r="2.6"/><circle cx="117.6" cy="2721.9" r="4.2"/><circle cx="239.6" cy="2746.2" r="3.2"/><circle cx="228.0" cy="2658.0" r="3.2"/></g>
<text x="227.0" y="2554" font-size="47" font-weight="bold" fill="#fff" stroke="#1a1a1a" stroke-width="7" stroke-linejoin="round" paint-order="stroke" textLength="160.4" lengthAdjust="spacingAndGlyphs">100 mV</text>
<path d="M446.9 2770.5L446.9 2493.3L454.5 2493.3L462.1 2492.5L469.8 2491.7L477.4 2492.9L485.0 2495.1L492.6 2490.2L500.2 2495.8L507.8 2495.3L515.5 2493.4L523.1 2494.2L530.7 2492.1L538.3 2492.5L545.9 2495.1L553.5 2495.5L561.2 2494.0L568.8 2493.8L576.4 2490.9L584.0 2496.5L591.6 2493.6L599.2 2495.8L606.9 2496.0L614.5 2495.3L622.1 2493.6L629.7 2490.1L637.3 2494.0L645.0 2490.2L652.6 2492.7L660.2 2495.0L667.8 2490.7L675.4 2496.6L683.0 2493.2L690.7 2495.2L698.3 2491.5L705.9 2493.0L713.5 2492.5L721.1 2491.2L728.7 2493.3L736.4 2494.9L744.0 2493.6L751.6 2493.2L751.6 2770.5Z" fill="url(#teal)"/>
<rect x="443.4" y="2769.5" width="310.4" height="43.3" rx="4" fill="url(#bat)"/>
<rect x="518.9" y="2771.5" width="168.1" height="32" rx="4" fill="url(#wat)"/>
<g fill="url(#rg2)"><circle cx="552.9" cy="2767.2" r="4.7"/><circle cx="636.6" cy="2767.1" r="4.7"/><circle cx="546.7" cy="2766.9" r="4.7"/><circle cx="653.5" cy="2766.1" r="4.7"/><circle cx="556.3" cy="2766.1" r="4.7"/><circle cx="544.8" cy="2766.0" r="4.7"/><circle cx="570.1" cy="2765.6" r="4.7"/><circle cx="666.6" cy="2765.6" r="4.7"/><circle cx="637.3" cy="2765.6" r="4.7"/><circle cx="672.9" cy="2765.5" r="4.7"/><circle cx="574.3" cy="2765.5" r="4.7"/><circle cx="646.3" cy="2765.3" r="4.7"/><circle cx="616.7" cy="2765.2" r="4.7"/><circle cx="596.0" cy="2765.1" r="4.7"/><circle cx="550.6" cy="2765.1" r="4.7"/><circle cx="641.7" cy="2765.0" r="4.7"/><circle cx="659.1" cy="2764.9" r="4.7"/><circle cx="631.6" cy="2764.9" r="4.7"/><circle cx="576.8" cy="2764.8" r="4.7"/><circle cx="540.2" cy="2764.7" r="4.7"/><circle cx="565.3" cy="2764.7" r="4.7"/><circle cx="661.1" cy="2764.6" r="4.7"/><circle cx="610.8" cy="2764.5" r="4.7"/><circle cx="619.1" cy="2764.5" r="4.7"/><circle cx="587.8" cy="2764.4" r="4.7"/><circle cx="532.2" cy="2764.3" r="4.7"/><circle cx="554.3" cy="2764.2" r="4.7"/><circle cx="651.4" cy="2764.1" r="4.7"/><circle cx="629.6" cy="2763.6" r="4.7"/><circle cx="607.0" cy="2763.5" r="4.7"/><circle cx="567.7" cy="2763.1" r="4.7"/><circle cx="577.3" cy="2762.6" r="4.7"/><circle cx="654.5" cy="2762.2" r="4.7"/><circle cx="546.5" cy="2761.9" r="4.7"/><circle cx="569.9" cy="2761.9" r="4.7"/><circle cx="573.5" cy="2761.3" r="4.7"/><circle cx="662.5" cy="2761.3" r="4.7"/><circle cx="595.9" cy="2761.0" r="4.7"/><circle cx="527.6" cy="2760.9" r="4.7"/><circle cx="558.4" cy="2760.4" r="4.7"/><circle cx="651.3" cy="2760.3" r="4.7"/><circle cx="534.2" cy="2760.1" r="4.7"/><circle cx="562.2" cy="2760.0" r="4.7"/><circle cx="600.2" cy="2759.8" r="4.7"/><circle cx="674.2" cy="2759.7" r="4.7"/><circle cx="673.9" cy="2759.5" r="4.7"/><circle cx="544.4" cy="2759.4" r="4.7"/><circle cx="633.6" cy="2759.3" r="4.7"/><circle cx="555.5" cy="2759.2" r="4.7"/><circle cx="557.2" cy="2759.0" r="4.7"/><circle cx="568.5" cy="2758.9" r="4.7"/><circle cx="633.6" cy="2758.8" r="4.7"/><circle cx="660.9" cy="2758.8" r="4.7"/><circle cx="615.3" cy="2758.8" r="4.7"/><circle cx="610.2" cy="2758.5" r="4.7"/><circle cx="630.5" cy="2758.5" r="4.7"/><circle cx="573.5" cy="2758.4" r="4.7"/><circle cx="658.0" cy="2758.2" r="4.7"/><circle cx="656.5" cy="2757.9" r="4.7"/><circle cx="607.6" cy="2757.2" r="4.7"/><circle cx="576.3" cy="2756.9" r="4.7"/><circle cx="597.8" cy="2756.9" r="4.7"/><circle cx="561.4" cy="2756.6" r="4.7"/><circle cx="604.3" cy="2756.6" r="4.7"/><circle cx="545.5" cy="2756.6" r="4.7"/><circle cx="573.6" cy="2756.4" r="4.7"/><circle cx="544.1" cy="2756.1" r="4.7"/><circle cx="650.1" cy="2755.7" r="4.7"/><circle cx="573.6" cy="2755.7" r="4.7"/><circle cx="600.7" cy="2755.6" r="4.7"/><circle cx="591.7" cy="2755.6" r="4.7"/><circle cx="576.7" cy="2755.6" r="4.7"/><circle cx="598.7" cy="2755.5" r="4.7"/><circle cx="625.6" cy="2755.5" r="4.7"/><circle cx="646.2" cy="2755.5" r="4.7"/><circle cx="616.4" cy="2755.0" r="4.7"/><circle cx="601.7" cy="2755.0" r="4.7"/><circle cx="636.2" cy="2755.0" r="4.7"/><circle cx="562.6" cy="2754.8" r="4.7"/><circle cx="625.0" cy="2754.7" r="4.7"/><circle cx="602.1" cy="2754.7" r="4.7"/><circle cx="602.4" cy="2754.6" r="4.7"/><circle cx="668.5" cy="2754.4" r="4.7"/><circle cx="578.7" cy="2754.2" r="4.7"/><circle cx="646.9" cy="2753.9" r="4.7"/><circle cx="588.9" cy="2753.6" r="4.7"/><circle cx="659.2" cy="2753.4" r="4.7"/><circle cx="622.7" cy="2753.3" r="4.7"/><circle cx="599.6" cy="2753.3" r="4.7"/><circle cx="594.9" cy="2753.0" r="4.7"/><circle cx="607.3" cy="2753.0" r="4.7"/><circle cx="632.0" cy="2752.7" r="4.7"/><circle cx="654.4" cy="2752.7" r="4.7"/><circle cx="563.0" cy="2752.6" r="4.7"/><circle cx="645.4" cy="2752.6" r="4.7"/><circle cx="609.1" cy="2752.5" r="4.7"/><circle cx="545.2" cy="2752.3" r="4.7"/><circle cx="547.0" cy="2751.3" r="4.7"/><circle cx="593.1" cy="2751.0" r="4.7"/><circle cx="600.3" cy="2751.0" r="4.7"/><circle cx="612.2" cy="2750.7" r="4.7"/><circle cx="626.7" cy="2750.3" r="4.7"/><circle cx="574.6" cy="2749.8" r="4.7"/><circle cx="564.1" cy="2749.7" r="4.7"/><circle cx="546.0" cy="2749.4" r="4.7"/><circle cx="615.2" cy="2749.2" r="4.7"/><circle cx="544.2" cy="2749.2" r="4.7"/><circle cx="622.7" cy="2749.1" r="4.7"/><circle cx="587.0" cy="2749.1" r="4.7"/><circle cx="618.8" cy="2748.9" r="4.7"/><circle cx="632.7" cy="2748.7" r="4.7"/><circle cx="659.4" cy="2748.6" r="4.7"/><circle cx="563.7" cy="2748.1" r="4.7"/><circle cx="624.2" cy="2748.1" r="4.7"/><circle cx="553.9" cy="2747.9" r="4.7"/><circle cx="622.7" cy="2747.8" r="4.7"/><circle cx="540.2" cy="2747.8" r="4.7"/><circle cx="653.8" cy="2747.6" r="4.7"/><circle cx="596.8" cy="2747.5" r="4.7"/><circle cx="568.7" cy="2747.1" r="4.7"/><circle cx="580.4" cy="2747.0" r="4.7"/><circle cx="537.9" cy="2746.9" r="4.7"/><circle cx="553.5" cy="2746.5" r="4.7"/><circle cx="590.1" cy="2746.3" r="4.7"/><circle cx="548.9" cy="2746.3" r="4.7"/><circle cx="599.9" cy="2746.2" r="4.7"/><circle cx="594.6" cy="2746.1" r="4.7"/><circle cx="620.9" cy="2746.0" r="4.7"/><circle cx="644.1" cy="2745.8" r="4.7"/><circle cx="576.3" cy="2745.7" r="4.7"/><circle cx="655.4" cy="2745.6" r="4.7"/><circle cx="608.7" cy="2745.4" r="4.7"/><circle cx="637.7" cy="2745.4" r="4.7"/><circle cx="592.8" cy="2745.4" r="4.7"/><circle cx="640.5" cy="2745.1" r="4.7"/><circle cx="652.3" cy="2745.0" r="4.7"/><circle cx="575.4" cy="2744.8" r="4.7"/><circle cx="539.3" cy="2744.6" r="4.7"/><circle cx="655.1" cy="2744.5" r="4.7"/><circle cx="555.4" cy="2744.4" r="4.7"/><circle cx="641.6" cy="2744.0" r="4.7"/><circle cx="591.8" cy="2743.8" r="4.7"/><circle cx="624.3" cy="2743.5" r="4.7"/><circle cx="575.8" cy="2743.4" r="4.7"/><circle cx="578.2" cy="2743.4" r="4.7"/><circle cx="596.3" cy="2743.1" r="4.7"/><circle cx="596.3" cy="2742.9" r="4.7"/><circle cx="634.1" cy="2742.8" r="4.7"/><circle cx="638.7" cy="2742.6" r="4.7"/><circle cx="563.0" cy="2742.1" r="4.7"/><circle cx="622.3" cy="2742.0" r="4.7"/><circle cx="606.4" cy="2741.8" r="4.7"/><circle cx="588.7" cy="2741.8" r="4.7"/><circle cx="619.2" cy="2741.7" r="4.7"/><circle cx="572.1" cy="2741.6" r="4.7"/><circle cx="596.1" cy="2741.5" r="4.7"/><circle cx="598.9" cy="2741.3" r="4.7"/><circle cx="562.0" cy="2741.0" r="4.7"/><circle cx="612.8" cy="2740.9" r="4.7"/><circle cx="561.3" cy="2740.5" r="4.7"/><circle cx="649.3" cy="2740.4" r="4.7"/><circle cx="579.8" cy="2740.1" r="4.7"/><circle cx="642.6" cy="2739.9" r="4.7"/><circle cx="646.3" cy="2739.9" r="4.7"/><circle cx="652.4" cy="2739.8" r="4.7"/><circle cx="614.1" cy="2739.6" r="4.7"/><circle cx="547.7" cy="2739.2" r="4.7"/><circle cx="653.2" cy="2739.0" r="4.7"/><circle cx="629.8" cy="2738.8" r="4.7"/><circle cx="604.6" cy="2738.8" r="4.7"/><circle cx="625.1" cy="2738.7" r="4.7"/><circle cx="551.5" cy="2738.6" r="4.7"/><circle cx="575.4" cy="2738.5" r="4.7"/><circle cx="547.3" cy="2738.3" r="4.7"/><circle cx="646.3" cy="2738.3" r="4.7"/><circle cx="637.7" cy="2738.3" r="4.7"/><circle cx="550.6" cy="2737.8" r="4.7"/><circle cx="571.3" cy="2737.8" r="4.7"/><circle cx="615.9" cy="2737.2" r="4.7"/><circle cx="632.5" cy="2736.9" r="4.7"/><circle cx="640.1" cy="2736.8" r="4.7"/><circle cx="583.0" cy="2736.7" r="4.7"/><circle cx="650.4" cy="2736.7" r="4.7"/><circle cx="631.6" cy="2736.4" r="4.7"/><circle cx="630.1" cy="2736.1" r="4.7"/><circle cx="639.6" cy="2736.1" r="4.7"/><circle cx="647.1" cy="2735.7" r="4.7"/><circle cx="625.7" cy="2735.5" r="4.7"/><circle cx="572.4" cy="2735.2" r="4.7"/><circle cx="643.7" cy="2734.3" r="4.7"/><circle cx="639.6" cy="2734.1" r="4.7"/><circle cx="561.9" cy="2733.9" r="4.7"/><circle cx="628.3" cy="2733.6" r="4.7"/><circle cx="613.3" cy="2733.0" r="4.7"/><circle cx="642.9" cy="2732.8" r="4.7"/><circle cx="643.4" cy="2732.6" r="4.7"/><circle cx="624.2" cy="2732.5" r="4.7"/><circle cx="596.0" cy="2732.5" r="4.7"/><circle cx="629.7" cy="2732.4" r="4.7"/><circle cx="597.7" cy="2732.4" r="4.7"/><circle cx="612.2" cy="2732.1" r="4.7"/><circle cx="590.4" cy="2732.1" r="4.7"/><circle cx="643.5" cy="2732.0" r="4.7"/><circle cx="643.4" cy="2731.9" r="4.7"/><circle cx="557.0" cy="2731.9" r="4.7"/><circle cx="590.8" cy="2731.6" r="4.7"/><circle cx="590.4" cy="2731.6" r="4.7"/><circle cx="598.7" cy="2731.0" r="4.7"/><circle cx="588.4" cy="2730.9" r="4.7"/><circle cx="610.6" cy="2730.5" r="4.7"/><circle cx="592.8" cy="2730.4" r="4.7"/><circle cx="588.9" cy="2730.4" r="4.7"/><circle cx="588.4" cy="2730.0" r="4.7"/><circle cx="579.9" cy="2729.9" r="4.7"/><circle cx="641.3" cy="2729.8" r="4.7"/><circle cx="571.2" cy="2729.4" r="4.7"/><circle cx="610.0" cy="2729.3" r="4.7"/><circle cx="596.5" cy="2729.3" r="4.7"/><circle cx="620.5" cy="2728.5" r="4.7"/><circle cx="569.1" cy="2728.4" r="4.7"/><circle cx="581.3" cy="2728.2" r="4.7"/><circle cx="604.1" cy="2728.1" r="4.7"/><circle cx="566.4" cy="2727.8" r="4.7"/><circle cx="584.3" cy="2727.3" r="4.7"/><circle cx="583.0" cy="2727.0" r="4.7"/><circle cx="589.9" cy="2726.6" r="4.7"/><circle cx="618.8" cy="2726.6" r="4.7"/><circle cx="574.8" cy="2726.5" r="4.7"/><circle cx="565.3" cy="2725.9" r="4.7"/><circle cx="586.3" cy="2725.8" r="4.7"/><circle cx="591.8" cy="2725.8" r="4.7"/><circle cx="606.5" cy="2725.7" r="4.7"/><circle cx="627.0" cy="2725.2" r="4.7"/><circle cx="610.2" cy="2725.0" r="4.7"/><circle cx="608.2" cy="2724.7" r="4.7"/><circle cx="621.0" cy="2724.2" r="4.7"/><circle cx="602.2" cy="2724.2" r="4.7"/><circle cx="598.8" cy="2724.1" r="4.7"/><circle cx="619.9" cy="2723.6" r="4.7"/><circle cx="605.7" cy="2723.3" r="4.7"/><circle cx="590.5" cy="2723.0" r="4.7"/><circle cx="589.7" cy="2722.9" r="4.7"/><circle cx="616.8" cy="2722.6" r="4.7"/><circle cx="616.6" cy="2722.4" r="4.7"/><circle cx="583.4" cy="2722.0" r="4.7"/><circle cx="607.1" cy="2722.0" r="4.7"/><circle cx="583.7" cy="2721.6" r="4.7"/><circle cx="607.6" cy="2721.1" r="4.7"/><circle cx="594.5" cy="2721.0" r="4.7"/><circle cx="619.1" cy="2721.0" r="4.7"/><circle cx="609.7" cy="2720.8" r="4.7"/><circle cx="613.4" cy="2720.0" r="4.7"/><circle cx="582.5" cy="2719.9" r="4.7"/><circle cx="611.7" cy="2719.6" r="4.7"/><circle cx="587.2" cy="2719.4" r="4.7"/><circle cx="603.9" cy="2718.5" r="4.7"/><circle cx="547.0" cy="2483.4" r="4.5"/><circle cx="663.8" cy="2494.6" r="4.5"/><circle cx="676.1" cy="2577.7" r="3.2"/><circle cx="588.2" cy="2578.5" r="4.2"/><circle cx="725.7" cy="2679.9" r="4.2"/><circle cx="738.5" cy="2614.0" r="3.2"/><circle cx="487.1" cy="2578.2" r="2.6"/><circle cx="644.4" cy="2698.4" r="4.2"/><circle cx="544.9" cy="2567.6" r="2.6"/><circle cx="574.0" cy="2670.7" r="3.2"/><circle cx="496.4" cy="2741.6" r="4.2"/><circle cx="735.5" cy="2629.7" r="4.2"/><circle cx="617.8" cy="2724.3" r="3.2"/><circle cx="671.9" cy="2544.2" r="2.6"/><circle cx="616.4" cy="2557.5" r="3.2"/><circle cx="654.4" cy="2599.6" r="3.2"/><circle cx="660.8" cy="2553.9" r="3.2"/><circle cx="572.7" cy="2693.8" r="2.6"/></g>
<text x="562.0" y="2554" font-size="47" font-weight="bold" fill="#fff" stroke="#1a1a1a" stroke-width="7" stroke-linejoin="round" paint-order="stroke" textLength="161.6" lengthAdjust="spacingAndGlyphs">150 mV</text>
<path d="M783.7 2772.5L783.7 2502.1L790.9 2500.2L798.1 2498.0L805.4 2499.2L812.6 2496.1L819.8 2496.4L827.0 2501.1L834.2 2501.9L841.5 2500.5L848.7 2501.4L855.9 2496.7L863.1 2502.4L870.3 2502.7L877.6 2499.5L884.8 2502.8L892.0 2497.6L899.2 2501.1L906.4 2501.7L913.7 2500.4L920.9 2496.1L928.1 2500.4L935.3 2500.6L942.5 2498.0L949.8 2499.7L957.0 2496.8L964.2 2498.3L971.4 2499.2L978.6 2498.6L985.9 2502.0L993.1 2496.9L1000.3 2497.9L1007.5 2501.2L1014.7 2499.5L1022.0 2499.0L1029.2 2502.5L1036.4 2501.0L1043.6 2499.9L1050.8 2501.3L1058.1 2501.4L1065.3 2503.0L1072.5 2497.4L1072.5 2772.5Z" fill="url(#teal)"/>
<rect x="780.7" y="2771.5" width="296.1" height="41.3" rx="4" fill="url(#bat)"/>
<rect x="844.0" y="2773.5" width="159.5" height="32" rx="4" fill="url(#wat)"/>
<g fill="url(#rg2)"><circle cx="994.9" cy="2769.5" r="4.7"/><circle cx="972.2" cy="2769.0" r="4.7"/><circle cx="864.8" cy="2768.6" r="4.7"/><circle cx="857.8" cy="2768.6" r="4.7"/><circle cx="974.5" cy="2768.4" r="4.7"/><circle cx="849.1" cy="2767.8" r="4.7"/><circle cx="871.9" cy="2767.6" r="4.7"/><circle cx="965.8" cy="2767.5" r="4.7"/><circle cx="927.5" cy="2767.4" r="4.7"/><circle cx="979.6" cy="2767.1" r="4.7"/><circle cx="882.8" cy="2767.1" r="4.7"/><circle cx="853.4" cy="2767.0" r="4.7"/><circle cx="950.7" cy="2767.0" r="4.7"/><circle cx="891.9" cy="2767.0" r="4.7"/><circle cx="976.3" cy="2766.9" r="4.7"/><circle cx="974.2" cy="2766.6" r="4.7"/><circle cx="978.1" cy="2766.5" r="4.7"/><circle cx="902.0" cy="2766.4" r="4.7"/><circle cx="886.9" cy="2766.1" r="4.7"/><circle cx="962.5" cy="2766.1" r="4.7"/><circle cx="844.7" cy="2766.0" r="4.7"/><circle cx="999.9" cy="2765.8" r="4.7"/><circle cx="935.5" cy="2765.8" r="4.7"/><circle cx="944.1" cy="2765.3" r="4.7"/><circle cx="871.8" cy="2765.2" r="4.7"/><circle cx="859.9" cy="2764.9" r="4.7"/><circle cx="930.5" cy="2764.9" r="4.7"/><circle cx="966.0" cy="2764.6" r="4.7"/><circle cx="894.6" cy="2764.6" r="4.7"/><circle cx="906.2" cy="2764.6" r="4.7"/><circle cx="912.1" cy="2764.1" r="4.7"/><circle cx="910.2" cy="2764.0" r="4.7"/><circle cx="883.2" cy="2764.0" r="4.7"/><circle cx="875.2" cy="2764.0" r="4.7"/><circle cx="848.8" cy="2763.9" r="4.7"/><circle cx="980.6" cy="2763.8" r="4.7"/><circle cx="843.9" cy="2763.5" r="4.7"/><circle cx="871.9" cy="2763.5" r="4.7"/><circle cx="998.4" cy="2763.3" r="4.7"/><circle cx="880.4" cy="2763.1" r="4.7"/><circle cx="964.5" cy="2762.9" r="4.7"/><circle cx="864.8" cy="2762.9" r="4.7"/><circle cx="855.0" cy="2762.7" r="4.7"/><circle cx="855.8" cy="2762.7" r="4.7"/><circle cx="928.7" cy="2762.7" r="4.7"/><circle cx="906.6" cy="2762.4" r="4.7"/><circle cx="963.0" cy="2762.2" r="4.7"/><circle cx="871.0" cy="2761.9" r="4.7"/><circle cx="891.6" cy="2761.8" r="4.7"/><circle cx="942.4" cy="2761.4" r="4.7"/><circle cx="964.3" cy="2761.1" r="4.7"/><circle cx="967.7" cy="2761.1" r="4.7"/><circle cx="950.0" cy="2760.9" r="4.7"/><circle cx="852.9" cy="2760.8" r="4.7"/><circle cx="972.6" cy="2760.8" r="4.7"/><circle cx="930.2" cy="2760.8" r="4.7"/><circle cx="845.4" cy="2760.7" r="4.7"/><circle cx="854.6" cy="2760.7" r="4.7"/><circle cx="922.5" cy="2760.6" r="4.7"/><circle cx="901.7" cy="2760.1" r="4.7"/><circle cx="852.2" cy="2760.1" r="4.7"/><circle cx="874.7" cy="2760.0" r="4.7"/><circle cx="850.8" cy="2760.0" r="4.7"/><circle cx="902.2" cy="2760.0" r="4.7"/><circle cx="872.9" cy="2759.8" r="4.7"/><circle cx="880.1" cy="2759.8" r="4.7"/><circle cx="981.2" cy="2759.7" r="4.7"/><circle cx="850.3" cy="2759.7" r="4.7"/><circle cx="937.1" cy="2759.5" r="4.7"/><circle cx="858.7" cy="2759.2" r="4.7"/><circle cx="894.4" cy="2759.1" r="4.7"/><circle cx="968.4" cy="2759.1" r="4.7"/><circle cx="901.1" cy="2759.1" r="4.7"/><circle cx="856.7" cy="2759.0" r="4.7"/><circle cx="939.9" cy="2758.9" r="4.7"/><circle cx="984.6" cy="2758.8" r="4.7"/><circle cx="960.2" cy="2758.7" r="4.7"/><circle cx="945.4" cy="2758.6" r="4.7"/><circle cx="950.7" cy="2758.4" r="4.7"/><circle cx="933.3" cy="2758.3" r="4.7"/><circle cx="919.1" cy="2757.8" r="4.7"/><circle cx="869.1" cy="2757.6" r="4.7"/><circle cx="888.8" cy="2757.6" r="4.7"/><circle cx="857.1" cy="2757.5" r="4.7"/><circle cx="850.8" cy="2757.2" r="4.7"/><circle cx="902.0" cy="2756.9" r="4.7"/><circle cx="893.1" cy="2756.8" r="4.7"/><circle cx="870.8" cy="2756.7" r="4.7"/><circle cx="916.2" cy="2756.6" r="4.7"/><circle cx="994.8" cy="2756.6" r="4.7"/><circle cx="870.0" cy="2756.5" r="4.7"/><circle cx="851.5" cy="2756.3" r="4.7"/><circle cx="889.5" cy="2756.2" r="4.7"/><circle cx="911.2" cy="2756.1" r="4.7"/><circle cx="849.2" cy="2756.0" r="4.7"/><circle cx="977.3" cy="2755.7" r="4.7"/><circle cx="893.7" cy="2755.6" r="4.7"/><circle cx="895.4" cy="2755.5" r="4.7"/><circle cx="860.8" cy="2755.2" r="4.7"/><circle cx="973.3" cy="2755.2" r="4.7"/><circle cx="941.5" cy="2755.2" r="4.7"/><circle cx="951.7" cy="2755.0" r="4.7"/><circle cx="1000.3" cy="2754.9" r="4.7"/><circle cx="859.0" cy="2754.8" r="4.7"/><circle cx="935.4" cy="2754.7" r="4.7"/><circle cx="980.3" cy="2754.7" r="4.7"/><circle cx="860.3" cy="2754.7" r="4.7"/><circle cx="953.6" cy="2754.3" r="4.7"/><circle cx="924.4" cy="2754.3" r="4.7"/><circle cx="867.1" cy="2754.1" r="4.7"/><circle cx="922.1" cy="2754.0" r="4.7"/><circle cx="881.2" cy="2754.0" r="4.7"/><circle cx="898.4" cy="2753.9" r="4.7"/><circle cx="881.3" cy="2753.9" r="4.7"/><circle cx="868.2" cy="2753.8" r="4.7"/><circle cx="860.9" cy="2753.5" r="4.7"/><circle cx="860.0" cy="2753.4" r="4.7"/><circle cx="989.5" cy="2753.2" r="4.7"/><circle cx="913.8" cy="2753.0" r="4.7"/><circle cx="852.5" cy="2752.9" r="4.7"/><circle cx="990.5" cy="2752.8" r="4.7"/><circle cx="851.6" cy="2752.8" r="4.7"/><circle cx="984.7" cy="2752.2" r="4.7"/><circle cx="928.7" cy="2752.1" r="4.7"/><circle cx="965.9" cy="2751.9" r="4.7"/><circle cx="977.1" cy="2751.8" r="4.7"/><circle cx="961.9" cy="2751.7" r="4.7"/><circle cx="863.1" cy="2751.6" r="4.7"/><circle cx="919.3" cy="2751.5" r="4.7"/><circle cx="973.4" cy="2751.5" r="4.7"/><circle cx="956.7" cy="2751.4" r="4.7"/><circle cx="993.6" cy="2751.3" r="4.7"/><circle cx="885.7" cy="2751.2" r="4.7"/><circle cx="925.0" cy="2751.1" r="4.7"/><circle cx="864.2" cy="2751.1" r="4.7"/><circle cx="857.7" cy="2751.0" r="4.7"/><circle cx="909.3" cy="2750.6" r="4.7"/><circle cx="855.2" cy="2750.2" r="4.7"/><circle cx="865.5" cy="2749.8" r="4.7"/><circle cx="918.4" cy="2748.8" r="4.7"/><circle cx="954.7" cy="2748.7" r="4.7"/><circle cx="997.6" cy="2748.6" r="4.7"/><circle cx="911.9" cy="2748.3" r="4.7"/><circle cx="931.3" cy="2748.3" r="4.7"/><circle cx="909.8" cy="2748.2" r="4.7"/><circle cx="870.6" cy="2748.0" r="4.7"/><circle cx="988.3" cy="2747.8" r="4.7"/><circle cx="986.3" cy="2747.6" r="4.7"/><circle cx="899.9" cy="2747.4" r="4.7"/><circle cx="961.3" cy="2747.3" r="4.7"/><circle cx="948.2" cy="2746.9" r="4.7"/><circle cx="950.1" cy="2746.8" r="4.7"/><circle cx="873.9" cy="2746.6" r="4.7"/><circle cx="886.6" cy="2746.5" r="4.7"/><circle cx="983.5" cy="2746.3" r="4.7"/><circle cx="862.5" cy="2746.2" r="4.7"/><circle cx="940.5" cy="2746.1" r="4.7"/><circle cx="868.3" cy="2745.8" r="4.7"/><circle cx="931.7" cy="2745.7" r="4.7"/><circle cx="889.2" cy="2745.2" r="4.7"/><circle cx="911.1" cy="2744.9" r="4.7"/><circle cx="855.6" cy="2744.9" r="4.7"/><circle cx="926.9" cy="2744.5" r="4.7"/><circle cx="989.8" cy="2743.9" r="4.7"/><circle cx="949.2" cy="2743.5" r="4.7"/><circle cx="915.5" cy="2743.5" r="4.7"/><circle cx="880.5" cy="2743.5" r="4.7"/><circle cx="877.3" cy="2743.4" r="4.7"/><circle cx="984.9" cy="2743.4" r="4.7"/><circle cx="904.6" cy="2743.3" r="4.7"/><circle cx="875.4" cy="2743.3" r="4.7"/><circle cx="922.9" cy="2743.1" r="4.7"/><circle cx="930.7" cy="2743.0" r="4.7"/><circle cx="919.4" cy="2743.0" r="4.7"/><circle cx="889.8" cy="2742.8" r="4.7"/><circle cx="905.5" cy="2742.7" r="4.7"/><circle cx="975.3" cy="2742.6" r="4.7"/><circle cx="942.2" cy="2742.3" r="4.7"/><circle cx="952.7" cy="2741.9" r="4.7"/><circle cx="973.9" cy="2741.7" r="4.7"/><circle cx="887.7" cy="2741.7" r="4.7"/><circle cx="926.1" cy="2741.7" r="4.7"/><circle cx="945.7" cy="2741.6" r="4.7"/><circle cx="908.3" cy="2741.5" r="4.7"/><circle cx="932.8" cy="2741.4" r="4.7"/><circle cx="942.4" cy="2741.4" r="4.7"/><circle cx="862.6" cy="2741.3" r="4.7"/><circle cx="899.1" cy="2741.1" r="4.7"/><circle cx="940.8" cy="2741.1" r="4.7"/><circle cx="879.5" cy="2740.9" r="4.7"/><circle cx="984.9" cy="2740.7" r="4.7"/><circle cx="991.2" cy="2740.7" r="4.7"/><circle cx="851.3" cy="2740.6" r="4.7"/><circle cx="977.4" cy="2740.3" r="4.7"/><circle cx="941.0" cy="2740.2" r="4.7"/><circle cx="973.5" cy="2740.0" r="4.7"/><circle cx="942.4" cy="2740.0" r="4.7"/><circle cx="906.2" cy="2740.0" r="4.7"/><circle cx="936.8" cy="2739.8" r="4.7"/><circle cx="889.9" cy="2739.8" r="4.7"/><circle cx="938.7" cy="2739.4" r="4.7"/><circle cx="963.6" cy="2738.9" r="4.7"/><circle cx="882.0" cy="2738.9" r="4.7"/><circle cx="981.1" cy="2738.7" r="4.7"/><circle cx="899.9" cy="2738.6" r="4.7"/><circle cx="930.6" cy="2738.3" r="4.7"/><circle cx="932.2" cy="2738.3" r="4.7"/><circle cx="951.5" cy="2738.2" r="4.7"/><circle cx="964.7" cy="2738.1" r="4.7"/><circle cx="853.2" cy="2738.1" r="4.7"/><circle cx="880.2" cy="2738.0" r="4.7"/><circle cx="863.2" cy="2738.0" r="4.7"/><circle cx="938.9" cy="2737.9" r="4.7"/><circle cx="851.4" cy="2737.8" r="4.7"/><circle cx="954.7" cy="2737.6" r="4.7"/><circle cx="983.5" cy="2737.6" r="4.7"/><circle cx="945.8" cy="2737.4" r="4.7"/><circle cx="987.7" cy="2737.4" r="4.7"/><circle cx="860.4" cy="2737.2" r="4.7"/><circle cx="868.1" cy="2737.1" r="4.7"/><circle cx="872.0" cy="2737.0" r="4.7"/><circle cx="941.6" cy="2736.9" r="4.7"/><circle cx="966.1" cy="2736.7" r="4.7"/><circle cx="942.2" cy="2736.7" r="4.7"/><circle cx="883.6" cy="2736.6" r="4.7"/><circle cx="974.7" cy="2736.3" r="4.7"/><circle cx="957.4" cy="2735.4" r="4.7"/><circle cx="964.7" cy="2735.0" r="4.7"/><circle cx="944.5" cy="2735.0" r="4.7"/><circle cx="959.0" cy="2734.9" r="4.7"/><circle cx="922.3" cy="2734.7" r="4.7"/><circle cx="929.7" cy="2734.5" r="4.7"/><circle cx="973.7" cy="2734.3" r="4.7"/><circle cx="976.2" cy="2734.1" r="4.7"/><circle cx="989.1" cy="2733.9" r="4.7"/><circle cx="976.9" cy="2733.9" r="4.7"/><circle cx="982.0" cy="2733.9" r="4.7"/><circle cx="892.3" cy="2733.8" r="4.7"/><circle cx="884.5" cy="2733.8" r="4.7"/><circle cx="954.0" cy="2733.7" r="4.7"/><circle cx="934.2" cy="2733.7" r="4.7"/><circle cx="950.7" cy="2733.4" r="4.7"/><circle cx="881.3" cy="2733.2" r="4.7"/><circle cx="883.9" cy="2733.1" r="4.7"/><circle cx="977.1" cy="2732.8" r="4.7"/><circle cx="960.5" cy="2732.5" r="4.7"/><circle cx="940.1" cy="2732.1" r="4.7"/><circle cx="898.9" cy="2732.0" r="4.7"/><circle cx="954.6" cy="2731.9" r="4.7"/><circle cx="927.6" cy="2731.6" r="4.7"/><circle cx="872.3" cy="2731.4" r="4.7"/><circle cx="919.7" cy="2731.4" r="4.7"/><circle cx="899.1" cy="2731.4" r="4.7"/><circle cx="866.9" cy="2731.3" r="4.7"/><circle cx="969.2" cy="2731.0" r="4.7"/><circle cx="909.4" cy="2730.9" r="4.7"/><circle cx="886.0" cy="2730.7" r="4.7"/><circle cx="859.2" cy="2730.7" r="4.7"/><circle cx="905.9" cy="2730.7" r="4.7"/><circle cx="889.8" cy="2730.7" r="4.7"/><circle cx="929.4" cy="2730.5" r="4.7"/><circle cx="884.7" cy="2729.8" r="4.7"/><circle cx="983.1" cy="2729.8" r="4.7"/><circle cx="981.9" cy="2729.6" r="4.7"/><circle cx="917.8" cy="2729.5" r="4.7"/><circle cx="911.0" cy="2729.4" r="4.7"/><circle cx="925.3" cy="2729.4" r="4.7"/><circle cx="867.2" cy="2729.4" r="4.7"/><circle cx="888.4" cy="2729.3" r="4.7"/><circle cx="950.2" cy="2729.0" r="4.7"/><circle cx="938.3" cy="2729.0" r="4.7"/><circle cx="945.7" cy="2728.9" r="4.7"/><circle cx="873.0" cy="2728.8" r="4.7"/><circle cx="926.7" cy="2728.7" r="4.7"/><circle cx="976.2" cy="2728.5" r="4.7"/><circle cx="972.5" cy="2728.4" r="4.7"/><circle cx="865.5" cy="2728.2" r="4.7"/><circle cx="956.6" cy="2728.0" r="4.7"/><circle cx="878.9" cy="2728.0" r="4.7"/><circle cx="970.1" cy="2728.0" r="4.7"/><circle cx="890.6" cy="2727.9" r="4.7"/><circle cx="982.4" cy="2727.7" r="4.7"/><circle cx="885.0" cy="2727.6" r="4.7"/><circle cx="940.5" cy="2727.4" r="4.7"/><circle cx="897.0" cy="2727.2" r="4.7"/><circle cx="947.8" cy="2727.2" r="4.7"/><circle cx="901.5" cy="2727.2" r="4.7"/><circle cx="890.5" cy="2727.0" r="4.7"/><circle cx="915.2" cy="2726.3" r="4.7"/><circle cx="977.1" cy="2726.3" r="4.7"/><circle cx="924.1" cy="2726.0" r="4.7"/><circle cx="861.3" cy="2725.7" r="4.7"/><circle cx="981.5" cy="2725.4" r="4.7"/><circle cx="982.0" cy="2725.3" r="4.7"/><circle cx="982.9" cy="2725.3" r="4.7"/><circle cx="947.1" cy="2724.5" r="4.7"/><circle cx="946.2" cy="2724.5" r="4.7"/><circle cx="870.4" cy="2724.4" r="4.7"/><circle cx="876.9" cy="2724.0" r="4.7"/><circle cx="902.5" cy="2724.0" r="4.7"/><circle cx="922.8" cy="2723.4" r="4.7"/><circle cx="893.1" cy="2723.3" r="4.7"/><circle cx="969.7" cy="2723.0" r="4.7"/><circle cx="917.8" cy="2722.8" r="4.7"/><circle cx="911.3" cy="2722.7" r="4.7"/><circle cx="882.9" cy="2722.6" r="4.7"/><circle cx="939.7" cy="2722.5" r="4.7"/><circle cx="877.7" cy="2722.5" r="4.7"/><circle cx="964.5" cy="2722.4" r="4.7"/><circle cx="980.5" cy="2722.1" r="4.7"/><circle cx="975.8" cy="2721.1" r="4.7"/><circle cx="890.0" cy="2721.1" r="4.7"/><circle cx="955.7" cy="2721.0" r="4.7"/><circle cx="962.4" cy="2720.4" r="4.7"/><circle cx="945.4" cy="2720.3" r="4.7"/><circle cx="903.5" cy="2719.9" r="4.7"/><circle cx="882.0" cy="2719.8" r="4.7"/><circle cx="934.1" cy="2719.7" r="4.7"/><circle cx="871.4" cy="2719.7" r="4.7"/><circle cx="914.0" cy="2719.7" r="4.7"/><circle cx="908.6" cy="2719.6" r="4.7"/><circle cx="875.3" cy="2719.3" r="4.7"/><circle cx="962.9" cy="2719.1" r="4.7"/><circle cx="865.1" cy="2718.8" r="4.7"/><circle cx="913.2" cy="2718.3" r="4.7"/><circle cx="876.2" cy="2718.1" r="4.7"/><circle cx="915.5" cy="2717.9" r="4.7"/><circle cx="871.2" cy="2717.9" r="4.7"/><circle cx="920.8" cy="2717.6" r="4.7"/><circle cx="905.9" cy="2717.5" r="4.7"/><circle cx="979.4" cy="2717.3" r="4.7"/><circle cx="923.1" cy="2717.0" r="4.7"/><circle cx="926.2" cy="2716.9" r="4.7"/><circle cx="891.2" cy="2716.1" r="4.7"/><circle cx="888.7" cy="2716.1" r="4.7"/><circle cx="877.1" cy="2715.5" r="4.7"/><circle cx="929.8" cy="2715.3" r="4.7"/><circle cx="873.3" cy="2715.3" r="4.7"/><circle cx="886.7" cy="2715.2" r="4.7"/><circle cx="901.5" cy="2715.1" r="4.7"/><circle cx="976.4" cy="2715.0" r="4.7"/><circle cx="952.0" cy="2714.9" r="4.7"/><circle cx="941.0" cy="2714.8" r="4.7"/><circle cx="907.8" cy="2714.7" r="4.7"/><circle cx="874.7" cy="2714.7" r="4.7"/><circle cx="880.9" cy="2714.7" r="4.7"/><circle cx="934.6" cy="2714.1" r="4.7"/><circle cx="870.5" cy="2713.7" r="4.7"/><circle cx="907.6" cy="2713.6" r="4.7"/><circle cx="886.6" cy="2713.6" r="4.7"/><circle cx="937.4" cy="2713.3" r="4.7"/><circle cx="871.4" cy="2713.1" r="4.7"/><circle cx="972.5" cy="2711.7" r="4.7"/><circle cx="970.8" cy="2711.5" r="4.7"/><circle cx="900.3" cy="2711.3" r="4.7"/><circle cx="916.0" cy="2711.2" r="4.7"/><circle cx="881.3" cy="2710.9" r="4.7"/><circle cx="959.3" cy="2710.8" r="4.7"/><circle cx="949.5" cy="2710.8" r="4.7"/><circle cx="907.7" cy="2710.4" r="4.7"/><circle cx="932.3" cy="2710.4" r="4.7"/><circle cx="876.8" cy="2710.3" r="4.7"/><circle cx="914.1" cy="2710.1" r="4.7"/><circle cx="970.0" cy="2709.8" r="4.7"/><circle cx="875.8" cy="2709.8" r="4.7"/><circle cx="929.5" cy="2709.5" r="4.7"/><circle cx="908.0" cy="2709.4" r="4.7"/><circle cx="890.3" cy="2709.3" r="4.7"/><circle cx="920.6" cy="2709.3" r="4.7"/><circle cx="885.6" cy="2709.2" r="4.7"/><circle cx="946.5" cy="2709.0" r="4.7"/><circle cx="942.2" cy="2708.9" r="4.7"/><circle cx="887.8" cy="2708.7" r="4.7"/><circle cx="912.8" cy="2708.3" r="4.7"/><circle cx="926.3" cy="2708.0" r="4.7"/><circle cx="954.4" cy="2707.9" r="4.7"/><circle cx="883.2" cy="2707.7" r="4.7"/><circle cx="962.3" cy="2707.5" r="4.7"/><circle cx="885.8" cy="2707.2" r="4.7"/><circle cx="907.2" cy="2707.1" r="4.7"/><circle cx="948.2" cy="2705.9" r="4.7"/><circle cx="906.6" cy="2705.8" r="4.7"/><circle cx="896.9" cy="2705.6" r="4.7"/><circle cx="920.8" cy="2704.8" r="4.7"/><circle cx="931.1" cy="2704.5" r="4.7"/><circle cx="896.7" cy="2704.5" r="4.7"/><circle cx="889.3" cy="2704.1" r="4.7"/><circle cx="929.5" cy="2704.1" r="4.7"/><circle cx="921.0" cy="2704.0" r="4.7"/><circle cx="960.6" cy="2703.6" r="4.7"/><circle cx="944.4" cy="2702.9" r="4.7"/><circle cx="905.9" cy="2702.9" r="4.7"/><circle cx="911.2" cy="2702.7" r="4.7"/><circle cx="924.7" cy="2702.1" r="4.7"/><circle cx="915.5" cy="2702.1" r="4.7"/><circle cx="922.6" cy="2702.1" r="4.7"/><circle cx="892.5" cy="2701.8" r="4.7"/><circle cx="930.1" cy="2699.9" r="4.7"/><circle cx="940.2" cy="2699.8" r="4.7"/><circle cx="945.2" cy="2699.5" r="4.7"/><circle cx="903.3" cy="2699.4" r="4.7"/><circle cx="903.0" cy="2699.3" r="4.7"/><circle cx="938.3" cy="2698.1" r="4.7"/><circle cx="927.2" cy="2697.9" r="4.7"/><circle cx="900.8" cy="2492.1" r="4.5"/><circle cx="836.8" cy="2502.4" r="4.5"/><circle cx="878.1" cy="2499.7" r="4.5"/><circle cx="1024.2" cy="2490.9" r="4.5"/><circle cx="901.8" cy="2491.0" r="4.5"/><circle cx="974.6" cy="2496.8" r="4.5"/><circle cx="1011.1" cy="2498.5" r="4.5"/><circle cx="1006.4" cy="2498.2" r="4.5"/><circle cx="866.3" cy="2502.5" r="4.5"/><circle cx="881.7" cy="2490.1" r="4.5"/><circle cx="815.1" cy="2499.1" r="4.5"/><circle cx="938.2" cy="2496.5" r="4.5"/><circle cx="1036.8" cy="2498.1" r="4.5"/><circle cx="869.7" cy="2500.3" r="4.5"/><circle cx="1036.7" cy="2498.7" r="4.5"/><circle cx="1064.8" cy="2501.1" r="4.5"/><circle cx="962.2" cy="2492.1" r="4.5"/><circle cx="847.8" cy="2498.0" r="4.5"/><circle cx="952.5" cy="2492.1" r="4.5"/><circle cx="961.2" cy="2491.6" r="4.5"/><circle cx="843.3" cy="2489.7" r="4.5"/><circle cx="943.6" cy="2491.1" r="4.5"/><circle cx="969.6" cy="2497.5" r="4.5"/><circle cx="1047.1" cy="2489.8" r="4.5"/><circle cx="850.3" cy="2707.7" r="3.2"/><circle cx="908.7" cy="2532.7" r="2.6"/><circle cx="817.2" cy="2634.6" r="4.2"/><circle cx="970.2" cy="2601.5" r="2.6"/><circle cx="1017.4" cy="2541.7" r="3.2"/><circle cx="853.6" cy="2738.4" r="3.2"/><circle cx="1039.2" cy="2606.1" r="4.2"/><circle cx="916.8" cy="2577.7" r="2.6"/><circle cx="1016.9" cy="2746.5" r="2.6"/><circle cx="914.9" cy="2689.3" r="2.6"/><circle cx="961.7" cy="2649.5" r="4.2"/><circle cx="1035.3" cy="2557.0" r="3.2"/><circle cx="892.3" cy="2731.7" r="2.6"/><circle cx="987.4" cy="2752.5" r="4.2"/><circle cx="806.7" cy="2717.6" r="3.2"/><circle cx="1010.4" cy="2746.1" r="3.2"/><circle cx="1038.6" cy="2679.4" r="2.6"/><circle cx="816.3" cy="2741.8" r="4.2"/><circle cx="895.1" cy="2561.3" r="4.2"/><circle cx="926.1" cy="2613.4" r="2.6"/><circle cx="1012.5" cy="2679.6" r="3.2"/><circle cx="964.3" cy="2627.6" r="3.2"/></g>
<text x="882.0" y="2554" font-size="47" font-weight="bold" fill="#fff" stroke="#1a1a1a" stroke-width="7" stroke-linejoin="round" paint-order="stroke" textLength="163.3" lengthAdjust="spacingAndGlyphs">200 mV</text>
<path d="M1104.8 2772.5L1104.8 2499.2L1112.1 2499.0L1119.5 2501.3L1126.8 2499.2L1134.1 2500.5L1141.4 2498.4L1148.8 2500.3L1156.1 2497.7L1163.4 2500.1L1170.7 2497.4L1178.1 2497.7L1185.4 2502.8L1192.7 2496.9L1200.1 2500.8L1207.4 2499.5L1214.7 2497.8L1222.0 2496.2L1229.4 2496.5L1236.7 2497.2L1244.0 2500.4L1251.3 2497.8L1258.7 2502.9L1266.0 2499.4L1273.3 2500.8L1280.7 2499.1L1288.0 2498.8L1295.3 2499.4L1302.6 2498.6L1310.0 2499.4L1317.3 2500.9L1324.6 2502.8L1332.0 2499.1L1339.3 2500.6L1346.6 2502.2L1353.9 2501.7L1361.3 2502.5L1368.6 2497.2L1375.9 2496.2L1383.2 2497.4L1390.6 2500.6L1397.9 2499.2L1397.9 2772.5Z" fill="url(#teal)"/>
<rect x="1100.5" y="2771.5" width="299.5" height="41.3" rx="4" fill="url(#bat)"/>
<rect x="1165.2" y="2773.5" width="170.2" height="32" rx="4" fill="url(#wat)"/>
<g fill="url(#rg2)"><circle cx="1187.9" cy="2769.3" r="4.7"/><circle cx="1207.3" cy="2769.2" r="4.7"/><circle cx="1172.8" cy="2769.0" r="4.7"/><circle cx="1273.0" cy="2769.0" r="4.7"/><circle cx="1232.9" cy="2768.8" r="4.7"/><circle cx="1256.5" cy="2768.7" r="4.7"/><circle cx="1304.3" cy="2768.5" r="4.7"/><circle cx="1212.8" cy="2768.2" r="4.7"/><circle cx="1204.4" cy="2768.0" r="4.7"/><circle cx="1168.2" cy="2767.9" r="4.7"/><circle cx="1276.6" cy="2767.6" r="4.7"/><circle cx="1318.1" cy="2767.6" r="4.7"/><circle cx="1312.3" cy="2767.6" r="4.7"/><circle cx="1324.0" cy="2767.5" r="4.7"/><circle cx="1302.4" cy="2767.3" r="4.7"/><circle cx="1297.0" cy="2767.3" r="4.7"/><circle cx="1290.8" cy="2767.3" r="4.7"/><circle cx="1340.2" cy="2767.2" r="4.7"/><circle cx="1249.0" cy="2767.1" r="4.7"/><circle cx="1270.2" cy="2767.1" r="4.7"/><circle cx="1243.1" cy="2766.7" r="4.7"/><circle cx="1224.4" cy="2766.5" r="4.7"/><circle cx="1188.5" cy="2766.4" r="4.7"/><circle cx="1241.4" cy="2766.4" r="4.7"/><circle cx="1184.5" cy="2766.2" r="4.7"/><circle cx="1338.2" cy="2766.2" r="4.7"/><circle cx="1204.0" cy="2766.1" r="4.7"/><circle cx="1179.1" cy="2766.0" r="4.7"/><circle cx="1320.8" cy="2766.0" r="4.7"/><circle cx="1251.3" cy="2765.9" r="4.7"/><circle cx="1205.1" cy="2765.7" r="4.7"/><circle cx="1274.1" cy="2765.6" r="4.7"/><circle cx="1240.1" cy="2765.5" r="4.7"/><circle cx="1238.9" cy="2765.4" r="4.7"/><circle cx="1313.9" cy="2765.4" r="4.7"/><circle cx="1263.4" cy="2765.3" r="4.7"/><circle cx="1223.6" cy="2765.1" r="4.7"/><circle cx="1222.1" cy="2764.7" r="4.7"/><circle cx="1215.1" cy="2764.7" r="4.7"/><circle cx="1331.7" cy="2764.6" r="4.7"/><circle cx="1290.5" cy="2764.5" r="4.7"/><circle cx="1253.1" cy="2764.4" r="4.7"/><circle cx="1252.7" cy="2764.3" r="4.7"/><circle cx="1259.9" cy="2764.1" r="4.7"/><circle cx="1335.4" cy="2764.0" r="4.7"/><circle cx="1194.0" cy="2764.0" r="4.7"/><circle cx="1186.3" cy="2764.0" r="4.7"/><circle cx="1237.9" cy="2763.9" r="4.7"/><circle cx="1292.6" cy="2763.8" r="4.7"/><circle cx="1287.6" cy="2763.5" r="4.7"/><circle cx="1171.3" cy="2763.4" r="4.7"/><circle cx="1305.6" cy="2763.3" r="4.7"/><circle cx="1263.5" cy="2763.2" r="4.7"/><circle cx="1326.9" cy="2763.1" r="4.7"/><circle cx="1182.8" cy="2762.9" r="4.7"/><circle cx="1219.2" cy="2762.6" r="4.7"/><circle cx="1308.2" cy="2762.4" r="4.7"/><circle cx="1239.4" cy="2762.4" r="4.7"/><circle cx="1183.9" cy="2762.4" r="4.7"/><circle cx="1218.6" cy="2762.3" r="4.7"/><circle cx="1307.1" cy="2761.8" r="4.7"/><circle cx="1292.0" cy="2761.7" r="4.7"/><circle cx="1175.5" cy="2761.7" r="4.7"/><circle cx="1182.0" cy="2761.5" r="4.7"/><circle cx="1218.7" cy="2761.4" r="4.7"/><circle cx="1207.6" cy="2761.4" r="4.7"/><circle cx="1189.2" cy="2761.2" r="4.7"/><circle cx="1232.5" cy="2761.1" r="4.7"/><circle cx="1232.9" cy="2761.1" r="4.7"/><circle cx="1310.8" cy="2760.6" r="4.7"/><circle cx="1191.3" cy="2760.4" r="4.7"/><circle cx="1177.5" cy="2760.4" r="4.7"/><circle cx="1270.2" cy="2760.3" r="4.7"/><circle cx="1251.6" cy="2760.3" r="4.7"/><circle cx="1205.9" cy="2760.2" r="4.7"/><circle cx="1219.1" cy="2760.2" r="4.7"/><circle cx="1300.6" cy="2760.1" r="4.7"/><circle cx="1188.7" cy="2759.9" r="4.7"/><circle cx="1321.7" cy="2759.8" r="4.7"/><circle cx="1193.3" cy="2759.7" r="4.7"/><circle cx="1317.4" cy="2759.5" r="4.7"/><circle cx="1175.9" cy="2759.5" r="4.7"/><circle cx="1272.7" cy="2759.4" r="4.7"/><circle cx="1235.1" cy="2758.9" r="4.7"/><circle cx="1266.7" cy="2758.8" r="4.7"/><circle cx="1263.8" cy="2758.5" r="4.7"/><circle cx="1198.5" cy="2758.5" r="4.7"/><circle cx="1301.5" cy="2758.4" r="4.7"/><circle cx="1242.8" cy="2757.9" r="4.7"/><circle cx="1277.4" cy="2757.8" r="4.7"/><circle cx="1219.9" cy="2757.7" r="4.7"/><circle cx="1314.6" cy="2757.6" r="4.7"/><circle cx="1294.8" cy="2757.3" r="4.7"/><circle cx="1259.9" cy="2757.1" r="4.7"/><circle cx="1314.7" cy="2756.9" r="4.7"/><circle cx="1227.5" cy="2756.6" r="4.7"/><circle cx="1203.4" cy="2756.1" r="4.7"/><circle cx="1214.3" cy="2755.9" r="4.7"/><circle cx="1233.5" cy="2755.9" r="4.7"/><circle cx="1210.9" cy="2755.7" r="4.7"/><circle cx="1213.1" cy="2755.6" r="4.7"/><circle cx="1341.3" cy="2755.5" r="4.7"/><circle cx="1190.1" cy="2755.3" r="4.7"/><circle cx="1257.1" cy="2755.1" r="4.7"/><circle cx="1281.4" cy="2755.0" r="4.7"/><circle cx="1342.5" cy="2754.9" r="4.7"/><circle cx="1239.0" cy="2754.7" r="4.7"/><circle cx="1308.2" cy="2754.7" r="4.7"/><circle cx="1172.2" cy="2754.7" r="4.7"/><circle cx="1261.2" cy="2754.3" r="4.7"/><circle cx="1206.7" cy="2754.0" r="4.7"/><circle cx="1309.1" cy="2753.7" r="4.7"/><circle cx="1252.1" cy="2753.6" r="4.7"/><circle cx="1174.5" cy="2753.6" r="4.7"/><circle cx="1237.4" cy="2753.3" r="4.7"/><circle cx="1333.6" cy="2753.2" r="4.7"/><circle cx="1228.3" cy="2753.1" r="4.7"/><circle cx="1207.4" cy="2753.0" r="4.7"/><circle cx="1321.9" cy="2752.9" r="4.7"/><circle cx="1321.8" cy="2752.7" r="4.7"/><circle cx="1189.1" cy="2752.4" r="4.7"/><circle cx="1191.7" cy="2752.3" r="4.7"/><circle cx="1342.6" cy="2752.3" r="4.7"/><circle cx="1281.7" cy="2752.3" r="4.7"/><circle cx="1164.2" cy="2752.3" r="4.7"/><circle cx="1322.1" cy="2752.0" r="4.7"/><circle cx="1192.3" cy="2751.9" r="4.7"/><circle cx="1172.8" cy="2751.7" r="4.7"/><circle cx="1174.7" cy="2751.7" r="4.7"/><circle cx="1246.7" cy="2751.5" r="4.7"/><circle cx="1278.4" cy="2751.3" r="4.7"/><circle cx="1231.0" cy="2751.2" r="4.7"/><circle cx="1319.9" cy="2751.0" r="4.7"/><circle cx="1169.8" cy="2751.0" r="4.7"/><circle cx="1290.5" cy="2750.8" r="4.7"/><circle cx="1302.9" cy="2750.7" r="4.7"/><circle cx="1271.7" cy="2750.5" r="4.7"/><circle cx="1261.8" cy="2750.4" r="4.7"/><circle cx="1324.5" cy="2750.2" r="4.7"/><circle cx="1181.1" cy="2750.1" r="4.7"/><circle cx="1225.4" cy="2749.9" r="4.7"/><circle cx="1218.1" cy="2749.1" r="4.7"/><circle cx="1206.9" cy="2748.9" r="4.7"/><circle cx="1278.2" cy="2748.9" r="4.7"/><circle cx="1174.2" cy="2748.6" r="4.7"/><circle cx="1288.7" cy="2748.6" r="4.7"/><circle cx="1228.5" cy="2748.5" r="4.7"/><circle cx="1324.6" cy="2748.4" r="4.7"/><circle cx="1201.4" cy="2748.1" r="4.7"/><circle cx="1211.6" cy="2748.1" r="4.7"/><circle cx="1209.4" cy="2748.0" r="4.7"/><circle cx="1270.6" cy="2748.0" r="4.7"/><circle cx="1273.2" cy="2747.9" r="4.7"/><circle cx="1193.9" cy="2747.8" r="4.7"/><circle cx="1298.8" cy="2747.6" r="4.7"/><circle cx="1300.1" cy="2747.6" r="4.7"/><circle cx="1320.7" cy="2747.5" r="4.7"/><circle cx="1165.0" cy="2747.4" r="4.7"/><circle cx="1322.6" cy="2747.1" r="4.7"/><circle cx="1309.5" cy="2746.9" r="4.7"/><circle cx="1212.6" cy="2746.9" r="4.7"/><circle cx="1226.4" cy="2746.7" r="4.7"/><circle cx="1217.1" cy="2746.6" r="4.7"/><circle cx="1232.7" cy="2746.4" r="4.7"/><circle cx="1238.7" cy="2746.3" r="4.7"/><circle cx="1198.1" cy="2746.3" r="4.7"/><circle cx="1241.9" cy="2746.2" r="4.7"/><circle cx="1286.9" cy="2746.2" r="4.7"/><circle cx="1204.3" cy="2746.1" r="4.7"/><circle cx="1298.4" cy="2746.0" r="4.7"/><circle cx="1191.5" cy="2746.0" r="4.7"/><circle cx="1313.1" cy="2745.9" r="4.7"/><circle cx="1229.2" cy="2745.8" r="4.7"/><circle cx="1208.4" cy="2745.1" r="4.7"/><circle cx="1182.6" cy="2745.0" r="4.7"/><circle cx="1284.3" cy="2744.8" r="4.7"/><circle cx="1185.4" cy="2744.8" r="4.7"/><circle cx="1250.2" cy="2744.7" r="4.7"/><circle cx="1209.1" cy="2744.6" r="4.7"/><circle cx="1329.5" cy="2744.5" r="4.7"/><circle cx="1291.7" cy="2744.3" r="4.7"/><circle cx="1193.5" cy="2744.2" r="4.7"/><circle cx="1332.6" cy="2743.8" r="4.7"/><circle cx="1229.0" cy="2743.7" r="4.7"/><circle cx="1302.4" cy="2743.4" r="4.7"/><circle cx="1330.4" cy="2743.3" r="4.7"/><circle cx="1302.9" cy="2743.2" r="4.7"/><circle cx="1177.6" cy="2743.2" r="4.7"/><circle cx="1314.0" cy="2743.1" r="4.7"/><circle cx="1337.0" cy="2743.1" r="4.7"/><circle cx="1325.6" cy="2743.1" r="4.7"/><circle cx="1273.9" cy="2743.0" r="4.7"/><circle cx="1261.7" cy="2742.9" r="4.7"/><circle cx="1327.5" cy="2742.6" r="4.7"/><circle cx="1244.8" cy="2742.6" r="4.7"/><circle cx="1297.9" cy="2742.6" r="4.7"/><circle cx="1335.7" cy="2742.1" r="4.7"/><circle cx="1285.3" cy="2741.6" r="4.7"/><circle cx="1287.1" cy="2741.1" r="4.7"/><circle cx="1298.6" cy="2741.1" r="4.7"/><circle cx="1317.9" cy="2741.0" r="4.7"/><circle cx="1168.6" cy="2740.8" r="4.7"/><circle cx="1316.2" cy="2740.6" r="4.7"/><circle cx="1203.5" cy="2740.6" r="4.7"/><circle cx="1207.4" cy="2740.6" r="4.7"/><circle cx="1179.6" cy="2740.5" r="4.7"/><circle cx="1180.4" cy="2740.2" r="4.7"/><circle cx="1214.1" cy="2740.0" r="4.7"/><circle cx="1228.0" cy="2740.0" r="4.7"/><circle cx="1215.7" cy="2739.9" r="4.7"/><circle cx="1276.3" cy="2739.2" r="4.7"/><circle cx="1331.9" cy="2739.1" r="4.7"/><circle cx="1187.2" cy="2739.0" r="4.7"/><circle cx="1240.4" cy="2738.9" r="4.7"/><circle cx="1313.5" cy="2738.4" r="4.7"/><circle cx="1236.4" cy="2737.9" r="4.7"/><circle cx="1342.5" cy="2737.9" r="4.7"/><circle cx="1190.4" cy="2737.7" r="4.7"/><circle cx="1253.7" cy="2737.7" r="4.7"/><circle cx="1238.3" cy="2737.7" r="4.7"/><circle cx="1278.0" cy="2737.7" r="4.7"/><circle cx="1194.0" cy="2737.6" r="4.7"/><circle cx="1317.2" cy="2737.5" r="4.7"/><circle cx="1287.0" cy="2737.4" r="4.7"/><circle cx="1185.5" cy="2737.3" r="4.7"/><circle cx="1311.4" cy="2737.3" r="4.7"/><circle cx="1301.7" cy="2737.2" r="4.7"/><circle cx="1277.6" cy="2736.7" r="4.7"/><circle cx="1340.1" cy="2736.6" r="4.7"/><circle cx="1297.4" cy="2736.1" r="4.7"/><circle cx="1272.8" cy="2736.1" r="4.7"/><circle cx="1279.1" cy="2736.0" r="4.7"/><circle cx="1169.0" cy="2735.8" r="4.7"/><circle cx="1320.4" cy="2735.7" r="4.7"/><circle cx="1234.9" cy="2735.7" r="4.7"/><circle cx="1304.5" cy="2735.6" r="4.7"/><circle cx="1338.5" cy="2735.5" r="4.7"/><circle cx="1181.7" cy="2735.3" r="4.7"/><circle cx="1248.3" cy="2735.0" r="4.7"/><circle cx="1278.7" cy="2734.9" r="4.7"/><circle cx="1278.6" cy="2734.5" r="4.7"/><circle cx="1186.1" cy="2734.2" r="4.7"/><circle cx="1191.4" cy="2734.2" r="4.7"/><circle cx="1306.5" cy="2734.1" r="4.7"/><circle cx="1164.5" cy="2733.9" r="4.7"/><circle cx="1299.6" cy="2733.7" r="4.7"/><circle cx="1231.8" cy="2733.7" r="4.7"/><circle cx="1277.3" cy="2733.6" r="4.7"/><circle cx="1245.5" cy="2733.6" r="4.7"/><circle cx="1267.5" cy="2733.4" r="4.7"/><circle cx="1313.9" cy="2733.2" r="4.7"/><circle cx="1254.4" cy="2732.9" r="4.7"/><circle cx="1243.8" cy="2732.9" r="4.7"/><circle cx="1176.9" cy="2732.9" r="4.7"/><circle cx="1327.1" cy="2732.8" r="4.7"/><circle cx="1276.2" cy="2732.7" r="4.7"/><circle cx="1325.7" cy="2732.7" r="4.7"/><circle cx="1175.1" cy="2732.6" r="4.7"/><circle cx="1217.0" cy="2732.4" r="4.7"/><circle cx="1245.0" cy="2732.3" r="4.7"/><circle cx="1268.2" cy="2732.1" r="4.7"/><circle cx="1256.2" cy="2731.9" r="4.7"/><circle cx="1193.8" cy="2731.9" r="4.7"/><circle cx="1339.2" cy="2731.6" r="4.7"/><circle cx="1208.4" cy="2731.1" r="4.7"/><circle cx="1283.2" cy="2731.0" r="4.7"/><circle cx="1320.9" cy="2730.9" r="4.7"/><circle cx="1279.0" cy="2730.8" r="4.7"/><circle cx="1306.1" cy="2730.5" r="4.7"/><circle cx="1191.3" cy="2730.2" r="4.7"/><circle cx="1283.2" cy="2730.2" r="4.7"/><circle cx="1198.4" cy="2729.9" r="4.7"/><circle cx="1272.7" cy="2729.9" r="4.7"/><circle cx="1309.4" cy="2729.6" r="4.7"/><circle cx="1278.3" cy="2729.6" r="4.7"/><circle cx="1336.3" cy="2729.6" r="4.7"/><circle cx="1282.1" cy="2729.5" r="4.7"/><circle cx="1245.2" cy="2729.2" r="4.7"/><circle cx="1269.6" cy="2729.1" r="4.7"/><circle cx="1276.1" cy="2728.8" r="4.7"/><circle cx="1195.3" cy="2728.6" r="4.7"/><circle cx="1341.0" cy="2728.3" r="4.7"/><circle cx="1304.0" cy="2728.2" r="4.7"/><circle cx="1236.1" cy="2728.2" r="4.7"/><circle cx="1235.9" cy="2728.1" r="4.7"/><circle cx="1329.6" cy="2728.0" r="4.7"/><circle cx="1255.6" cy="2727.9" r="4.7"/><circle cx="1230.3" cy="2727.9" r="4.7"/><circle cx="1221.6" cy="2727.8" r="4.7"/><circle cx="1183.1" cy="2727.6" r="4.7"/><circle cx="1207.0" cy="2727.6" r="4.7"/><circle cx="1297.2" cy="2727.4" r="4.7"/><circle cx="1230.4" cy="2726.9" r="4.7"/><circle cx="1304.2" cy="2726.8" r="4.7"/><circle cx="1238.5" cy="2726.7" r="4.7"/><circle cx="1219.0" cy="2726.7" r="4.7"/><circle cx="1205.4" cy="2726.5" r="4.7"/><circle cx="1275.8" cy="2726.4" r="4.7"/><circle cx="1272.3" cy="2726.4" r="4.7"/><circle cx="1315.2" cy="2726.2" r="4.7"/><circle cx="1226.1" cy="2726.2" r="4.7"/><circle cx="1230.3" cy="2726.1" r="4.7"/><circle cx="1222.0" cy="2726.1" r="4.7"/><circle cx="1186.4" cy="2725.6" r="4.7"/><circle cx="1269.2" cy="2725.4" r="4.7"/><circle cx="1205.8" cy="2725.2" r="4.7"/><circle cx="1208.2" cy="2725.1" r="4.7"/><circle cx="1195.6" cy="2725.0" r="4.7"/><circle cx="1279.8" cy="2724.8" r="4.7"/><circle cx="1230.4" cy="2724.7" r="4.7"/><circle cx="1280.1" cy="2724.6" r="4.7"/><circle cx="1297.2" cy="2724.3" r="4.7"/><circle cx="1245.0" cy="2723.9" r="4.7"/><circle cx="1249.5" cy="2723.9" r="4.7"/><circle cx="1255.4" cy="2723.4" r="4.7"/><circle cx="1263.9" cy="2723.3" r="4.7"/><circle cx="1248.2" cy="2723.3" r="4.7"/><circle cx="1251.9" cy="2723.3" r="4.7"/><circle cx="1302.3" cy="2723.1" r="4.7"/><circle cx="1221.1" cy="2723.1" r="4.7"/><circle cx="1313.6" cy="2723.0" r="4.7"/><circle cx="1321.9" cy="2722.9" r="4.7"/><circle cx="1238.4" cy="2722.8" r="4.7"/><circle cx="1207.5" cy="2722.7" r="4.7"/><circle cx="1246.5" cy="2722.7" r="4.7"/><circle cx="1213.9" cy="2722.7" r="4.7"/><circle cx="1190.8" cy="2722.2" r="4.7"/><circle cx="1231.4" cy="2721.9" r="4.7"/><circle cx="1184.6" cy="2721.9" r="4.7"/><circle cx="1260.0" cy="2721.7" r="4.7"/><circle cx="1219.8" cy="2721.7" r="4.7"/><circle cx="1296.6" cy="2721.4" r="4.7"/><circle cx="1316.3" cy="2721.4" r="4.7"/><circle cx="1168.7" cy="2721.1" r="4.7"/><circle cx="1267.0" cy="2721.1" r="4.7"/><circle cx="1223.5" cy="2721.1" r="4.7"/><circle cx="1238.7" cy="2721.0" r="4.7"/><circle cx="1228.6" cy="2720.9" r="4.7"/><circle cx="1231.0" cy="2720.8" r="4.7"/><circle cx="1295.6" cy="2720.7" r="4.7"/><circle cx="1331.9" cy="2720.6" r="4.7"/><circle cx="1184.3" cy="2720.4" r="4.7"/><circle cx="1283.7" cy="2720.2" r="4.7"/><circle cx="1204.6" cy="2720.1" r="4.7"/><circle cx="1295.5" cy="2720.0" r="4.7"/><circle cx="1227.2" cy="2719.9" r="4.7"/><circle cx="1174.9" cy="2719.8" r="4.7"/><circle cx="1179.6" cy="2719.6" r="4.7"/><circle cx="1225.0" cy="2719.4" r="4.7"/><circle cx="1263.3" cy="2719.4" r="4.7"/><circle cx="1208.1" cy="2719.3" r="4.7"/><circle cx="1281.8" cy="2719.3" r="4.7"/><circle cx="1253.6" cy="2719.2" r="4.7"/><circle cx="1318.6" cy="2719.0" r="4.7"/><circle cx="1183.8" cy="2719.0" r="4.7"/><circle cx="1229.1" cy="2718.5" r="4.7"/><circle cx="1170.4" cy="2718.5" r="4.7"/><circle cx="1269.2" cy="2718.5" r="4.7"/><circle cx="1211.6" cy="2718.0" r="4.7"/><circle cx="1323.9" cy="2718.0" r="4.7"/><circle cx="1319.1" cy="2717.6" r="4.7"/><circle cx="1323.7" cy="2717.6" r="4.7"/><circle cx="1334.7" cy="2717.5" r="4.7"/><circle cx="1230.3" cy="2717.2" r="4.7"/><circle cx="1296.0" cy="2717.2" r="4.7"/><circle cx="1219.7" cy="2716.9" r="4.7"/><circle cx="1225.9" cy="2716.5" r="4.7"/><circle cx="1273.4" cy="2716.4" r="4.7"/><circle cx="1197.2" cy="2716.4" r="4.7"/><circle cx="1274.3" cy="2715.3" r="4.7"/><circle cx="1188.4" cy="2715.2" r="4.7"/><circle cx="1260.8" cy="2715.1" r="4.7"/><circle cx="1337.1" cy="2714.8" r="4.7"/><circle cx="1308.4" cy="2714.8" r="4.7"/><circle cx="1213.0" cy="2714.2" r="4.7"/><circle cx="1263.6" cy="2714.1" r="4.7"/><circle cx="1186.6" cy="2714.1" r="4.7"/><circle cx="1176.5" cy="2714.1" r="4.7"/><circle cx="1228.9" cy="2713.9" r="4.7"/><circle cx="1169.7" cy="2713.1" r="4.7"/><circle cx="1286.7" cy="2713.1" r="4.7"/><circle cx="1181.8" cy="2713.0" r="4.7"/><circle cx="1172.3" cy="2712.2" r="4.7"/><circle cx="1289.5" cy="2711.7" r="4.7"/><circle cx="1254.3" cy="2711.6" r="4.7"/><circle cx="1244.8" cy="2711.5" r="4.7"/><circle cx="1312.3" cy="2711.1" r="4.7"/><circle cx="1193.1" cy="2711.1" r="4.7"/><circle cx="1313.1" cy="2710.9" r="4.7"/><circle cx="1229.0" cy="2710.7" r="4.7"/><circle cx="1332.7" cy="2710.4" r="4.7"/><circle cx="1172.5" cy="2710.3" r="4.7"/><circle cx="1275.7" cy="2710.0" r="4.7"/><circle cx="1237.9" cy="2710.0" r="4.7"/><circle cx="1227.9" cy="2709.8" r="4.7"/><circle cx="1255.0" cy="2709.5" r="4.7"/><circle cx="1314.7" cy="2709.5" r="4.7"/><circle cx="1216.8" cy="2709.4" r="4.7"/><circle cx="1288.3" cy="2709.2" r="4.7"/><circle cx="1241.4" cy="2709.1" r="4.7"/><circle cx="1242.0" cy="2709.1" r="4.7"/><circle cx="1294.2" cy="2709.0" r="4.7"/><circle cx="1310.7" cy="2708.9" r="4.7"/><circle cx="1248.2" cy="2708.6" r="4.7"/><circle cx="1272.3" cy="2708.4" r="4.7"/><circle cx="1258.5" cy="2708.4" r="4.7"/><circle cx="1272.3" cy="2708.3" r="4.7"/><circle cx="1265.0" cy="2708.3" r="4.7"/><circle cx="1279.9" cy="2708.2" r="4.7"/><circle cx="1328.3" cy="2708.2" r="4.7"/><circle cx="1326.7" cy="2708.0" r="4.7"/><circle cx="1244.4" cy="2707.9" r="4.7"/><circle cx="1173.8" cy="2707.7" r="4.7"/><circle cx="1178.3" cy="2707.6" r="4.7"/><circle cx="1265.4" cy="2707.1" r="4.7"/><circle cx="1264.7" cy="2707.0" r="4.7"/><circle cx="1235.3" cy="2706.9" r="4.7"/><circle cx="1300.7" cy="2706.7" r="4.7"/><circle cx="1188.0" cy="2706.6" r="4.7"/><circle cx="1236.0" cy="2706.6" r="4.7"/><circle cx="1258.7" cy="2706.5" r="4.7"/><circle cx="1212.4" cy="2706.5" r="4.7"/><circle cx="1309.8" cy="2706.3" r="4.7"/><circle cx="1231.3" cy="2706.1" r="4.7"/><circle cx="1307.2" cy="2706.0" r="4.7"/><circle cx="1240.5" cy="2705.9" r="4.7"/><circle cx="1277.9" cy="2705.7" r="4.7"/><circle cx="1291.2" cy="2705.6" r="4.7"/><circle cx="1230.0" cy="2705.6" r="4.7"/><circle cx="1271.4" cy="2705.4" r="4.7"/><circle cx="1232.0" cy="2705.3" r="4.7"/><circle cx="1315.4" cy="2705.3" r="4.7"/><circle cx="1188.5" cy="2705.2" r="4.7"/><circle cx="1290.9" cy="2705.1" r="4.7"/><circle cx="1244.8" cy="2704.9" r="4.7"/><circle cx="1286.3" cy="2704.9" r="4.7"/><circle cx="1195.3" cy="2704.4" r="4.7"/><circle cx="1225.8" cy="2704.4" r="4.7"/><circle cx="1174.0" cy="2704.2" r="4.7"/><circle cx="1234.3" cy="2704.1" r="4.7"/><circle cx="1321.8" cy="2703.8" r="4.7"/><circle cx="1210.7" cy="2703.8" r="4.7"/><circle cx="1241.9" cy="2703.7" r="4.7"/><circle cx="1241.9" cy="2703.4" r="4.7"/><circle cx="1202.5" cy="2702.9" r="4.7"/><circle cx="1212.9" cy="2702.9" r="4.7"/><circle cx="1232.2" cy="2702.8" r="4.7"/><circle cx="1266.5" cy="2702.7" r="4.7"/><circle cx="1237.3" cy="2702.6" r="4.7"/><circle cx="1204.9" cy="2702.6" r="4.7"/><circle cx="1197.9" cy="2702.5" r="4.7"/><circle cx="1308.1" cy="2702.3" r="4.7"/><circle cx="1259.7" cy="2702.2" r="4.7"/><circle cx="1298.8" cy="2702.1" r="4.7"/><circle cx="1214.3" cy="2702.0" r="4.7"/><circle cx="1303.3" cy="2701.7" r="4.7"/><circle cx="1264.4" cy="2701.6" r="4.7"/><circle cx="1304.8" cy="2701.5" r="4.7"/><circle cx="1221.2" cy="2701.4" r="4.7"/><circle cx="1314.4" cy="2701.3" r="4.7"/><circle cx="1212.7" cy="2701.2" r="4.7"/><circle cx="1308.6" cy="2700.9" r="4.7"/><circle cx="1210.3" cy="2700.7" r="4.7"/><circle cx="1275.9" cy="2700.5" r="4.7"/><circle cx="1248.9" cy="2700.4" r="4.7"/><circle cx="1302.4" cy="2700.4" r="4.7"/><circle cx="1216.3" cy="2700.4" r="4.7"/><circle cx="1304.8" cy="2699.8" r="4.7"/><circle cx="1193.5" cy="2699.8" r="4.7"/><circle cx="1247.2" cy="2699.5" r="4.7"/><circle cx="1247.6" cy="2699.4" r="4.7"/><circle cx="1321.5" cy="2698.9" r="4.7"/><circle cx="1257.6" cy="2698.5" r="4.7"/><circle cx="1288.3" cy="2698.3" r="4.7"/><circle cx="1238.7" cy="2698.2" r="4.7"/><circle cx="1251.4" cy="2698.1" r="4.7"/><circle cx="1314.5" cy="2698.0" r="4.7"/><circle cx="1288.2" cy="2697.9" r="4.7"/><circle cx="1196.9" cy="2697.9" r="4.7"/><circle cx="1290.5" cy="2697.8" r="4.7"/><circle cx="1196.2" cy="2697.7" r="4.7"/><circle cx="1240.4" cy="2697.7" r="4.7"/><circle cx="1193.2" cy="2697.5" r="4.7"/><circle cx="1228.9" cy="2697.5" r="4.7"/><circle cx="1185.7" cy="2697.3" r="4.7"/><circle cx="1286.6" cy="2697.1" r="4.7"/><circle cx="1206.4" cy="2696.9" r="4.7"/><circle cx="1183.0" cy="2696.9" r="4.7"/><circle cx="1275.7" cy="2696.8" r="4.7"/><circle cx="1285.6" cy="2696.7" r="4.7"/><circle cx="1236.0" cy="2696.5" r="4.7"/><circle cx="1249.8" cy="2696.3" r="4.7"/><circle cx="1257.6" cy="2695.9" r="4.7"/><circle cx="1262.4" cy="2695.8" r="4.7"/><circle cx="1240.9" cy="2695.7" r="4.7"/><circle cx="1309.6" cy="2695.6" r="4.7"/><circle cx="1218.8" cy="2695.6" r="4.7"/><circle cx="1312.4" cy="2695.1" r="4.7"/><circle cx="1238.1" cy="2695.0" r="4.7"/><circle cx="1205.4" cy="2694.6" r="4.7"/><circle cx="1201.1" cy="2694.4" r="4.7"/><circle cx="1294.8" cy="2694.3" r="4.7"/><circle cx="1198.1" cy="2694.3" r="4.7"/><circle cx="1186.7" cy="2694.3" r="4.7"/><circle cx="1199.5" cy="2693.8" r="4.7"/><circle cx="1188.2" cy="2693.7" r="4.7"/><circle cx="1260.5" cy="2693.6" r="4.7"/><circle cx="1195.7" cy="2693.6" r="4.7"/><circle cx="1204.8" cy="2693.3" r="4.7"/><circle cx="1279.8" cy="2692.9" r="4.7"/><circle cx="1217.5" cy="2692.8" r="4.7"/><circle cx="1247.7" cy="2692.5" r="4.7"/><circle cx="1326.4" cy="2692.5" r="4.7"/><circle cx="1264.0" cy="2692.4" r="4.7"/><circle cx="1312.7" cy="2692.1" r="4.7"/><circle cx="1219.8" cy="2691.9" r="4.7"/><circle cx="1279.0" cy="2691.8" r="4.7"/><circle cx="1320.4" cy="2691.4" r="4.7"/><circle cx="1305.8" cy="2691.3" r="4.7"/><circle cx="1303.5" cy="2691.1" r="4.7"/><circle cx="1196.1" cy="2691.0" r="4.7"/><circle cx="1301.4" cy="2690.8" r="4.7"/><circle cx="1303.9" cy="2690.7" r="4.7"/><circle cx="1249.6" cy="2690.7" r="4.7"/><circle cx="1279.4" cy="2690.5" r="4.7"/><circle cx="1207.5" cy="2690.3" r="4.7"/><circle cx="1268.4" cy="2690.1" r="4.7"/><circle cx="1322.2" cy="2689.7" r="4.7"/><circle cx="1192.9" cy="2689.5" r="4.7"/><circle cx="1278.6" cy="2689.3" r="4.7"/><circle cx="1269.5" cy="2689.3" r="4.7"/><circle cx="1211.3" cy="2688.7" r="4.7"/><circle cx="1192.8" cy="2688.7" r="4.7"/><circle cx="1256.9" cy="2688.3" r="4.7"/><circle cx="1288.9" cy="2688.3" r="4.7"/><circle cx="1264.9" cy="2687.8" r="4.7"/><circle cx="1210.6" cy="2687.8" r="4.7"/><circle cx="1266.5" cy="2687.7" r="4.7"/><circle cx="1302.3" cy="2687.7" r="4.7"/><circle cx="1316.6" cy="2687.6" r="4.7"/><circle cx="1282.0" cy="2687.2" r="4.7"/><circle cx="1226.6" cy="2687.1" r="4.7"/><circle cx="1257.3" cy="2686.7" r="4.7"/><circle cx="1303.7" cy="2686.7" r="4.7"/><circle cx="1232.0" cy="2686.6" r="4.7"/><circle cx="1203.8" cy="2686.6" r="4.7"/><circle cx="1223.9" cy="2686.4" r="4.7"/><circle cx="1304.0" cy="2686.4" r="4.7"/><circle cx="1247.2" cy="2686.3" r="4.7"/><circle cx="1190.5" cy="2686.0" r="4.7"/><circle cx="1187.9" cy="2685.0" r="4.7"/><circle cx="1299.5" cy="2684.7" r="4.7"/><circle cx="1208.5" cy="2684.6" r="4.7"/><circle cx="1194.2" cy="2684.5" r="4.7"/><circle cx="1273.0" cy="2684.4" r="4.7"/><circle cx="1210.0" cy="2684.4" r="4.7"/><circle cx="1228.6" cy="2684.2" r="4.7"/><circle cx="1211.5" cy="2684.0" r="4.7"/><circle cx="1210.8" cy="2683.8" r="4.7"/><circle cx="1249.9" cy="2683.7" r="4.7"/><circle cx="1281.3" cy="2683.5" r="4.7"/><circle cx="1244.5" cy="2683.4" r="4.7"/><circle cx="1243.2" cy="2683.4" r="4.7"/><circle cx="1238.5" cy="2682.7" r="4.7"/><circle cx="1298.8" cy="2682.6" r="4.7"/><circle cx="1189.3" cy="2682.3" r="4.7"/><circle cx="1230.3" cy="2682.2" r="4.7"/><circle cx="1199.1" cy="2682.1" r="4.7"/><circle cx="1300.8" cy="2681.4" r="4.7"/><circle cx="1231.6" cy="2681.0" r="4.7"/><circle cx="1313.2" cy="2680.8" r="4.7"/><circle cx="1232.4" cy="2680.8" r="4.7"/><circle cx="1295.3" cy="2680.5" r="4.7"/><circle cx="1206.9" cy="2680.5" r="4.7"/><circle cx="1232.7" cy="2680.4" r="4.7"/><circle cx="1229.4" cy="2680.4" r="4.7"/><circle cx="1269.0" cy="2680.4" r="4.7"/><circle cx="1284.2" cy="2680.3" r="4.7"/><circle cx="1237.0" cy="2680.0" r="4.7"/><circle cx="1198.6" cy="2679.8" r="4.7"/><circle cx="1208.6" cy="2679.6" r="4.7"/><circle cx="1285.9" cy="2679.3" r="4.7"/><circle cx="1312.5" cy="2679.2" r="4.7"/><circle cx="1194.6" cy="2679.2" r="4.7"/><circle cx="1280.2" cy="2679.1" r="4.7"/><circle cx="1254.4" cy="2679.1" r="4.7"/><circle cx="1263.0" cy="2679.0" r="4.7"/><circle cx="1273.4" cy="2677.5" r="4.7"/><circle cx="1298.1" cy="2677.3" r="4.7"/><circle cx="1224.0" cy="2677.3" r="4.7"/><circle cx="1272.6" cy="2676.5" r="4.7"/><circle cx="1228.6" cy="2676.4" r="4.7"/><circle cx="1264.1" cy="2676.4" r="4.7"/><circle cx="1283.0" cy="2676.3" r="4.7"/><circle cx="1203.1" cy="2676.0" r="4.7"/><circle cx="1294.4" cy="2675.4" r="4.7"/><circle cx="1265.6" cy="2675.4" r="4.7"/><circle cx="1228.4" cy="2675.3" r="4.7"/><circle cx="1243.0" cy="2675.1" r="4.7"/><circle cx="1233.0" cy="2674.9" r="4.7"/><circle cx="1253.5" cy="2674.5" r="4.7"/><circle cx="1262.5" cy="2674.4" r="4.7"/><circle cx="1245.7" cy="2673.6" r="4.7"/><circle cx="1273.0" cy="2673.2" r="4.7"/><circle cx="1256.9" cy="2673.0" r="4.7"/><circle cx="1292.3" cy="2672.9" r="4.7"/><circle cx="1293.9" cy="2672.8" r="4.7"/><circle cx="1216.1" cy="2672.7" r="4.7"/><circle cx="1222.3" cy="2672.5" r="4.7"/><circle cx="1255.7" cy="2672.4" r="4.7"/><circle cx="1285.1" cy="2672.3" r="4.7"/><circle cx="1271.3" cy="2672.1" r="4.7"/><circle cx="1268.1" cy="2671.7" r="4.7"/><circle cx="1280.8" cy="2671.6" r="4.7"/><circle cx="1220.7" cy="2670.9" r="4.7"/><circle cx="1207.9" cy="2670.7" r="4.7"/><circle cx="1211.9" cy="2670.6" r="4.7"/><circle cx="1216.3" cy="2670.5" r="4.7"/><circle cx="1302.2" cy="2670.4" r="4.7"/><circle cx="1291.8" cy="2670.1" r="4.7"/><circle cx="1229.1" cy="2669.6" r="4.7"/><circle cx="1214.9" cy="2669.4" r="4.7"/><circle cx="1228.7" cy="2669.2" r="4.7"/><circle cx="1276.9" cy="2668.9" r="4.7"/><circle cx="1271.7" cy="2668.8" r="4.7"/><circle cx="1250.2" cy="2668.5" r="4.7"/><circle cx="1260.2" cy="2668.1" r="4.7"/><circle cx="1238.9" cy="2667.5" r="4.7"/><circle cx="1285.9" cy="2667.4" r="4.7"/><circle cx="1218.5" cy="2666.9" r="4.7"/><circle cx="1226.7" cy="2666.2" r="4.7"/><circle cx="1280.5" cy="2666.0" r="4.7"/><circle cx="1287.5" cy="2665.7" r="4.7"/><circle cx="1270.0" cy="2665.3" r="4.7"/><circle cx="1230.7" cy="2665.2" r="4.7"/><circle cx="1233.6" cy="2665.0" r="4.7"/><circle cx="1247.6" cy="2664.9" r="4.7"/><circle cx="1223.4" cy="2664.9" r="4.7"/><circle cx="1270.5" cy="2664.6" r="4.7"/><circle cx="1214.5" cy="2664.3" r="4.7"/><circle cx="1250.1" cy="2664.2" r="4.7"/><circle cx="1250.8" cy="2663.5" r="4.7"/><circle cx="1262.2" cy="2663.2" r="4.7"/><circle cx="1226.4" cy="2663.2" r="4.7"/><circle cx="1255.4" cy="2663.2" r="4.7"/><circle cx="1250.2" cy="2663.1" r="4.7"/><circle cx="1237.8" cy="2662.9" r="4.7"/><circle cx="1283.1" cy="2662.7" r="4.7"/><circle cx="1238.0" cy="2662.5" r="4.7"/><circle cx="1253.3" cy="2661.5" r="4.7"/><circle cx="1242.6" cy="2660.3" r="4.7"/><circle cx="1247.5" cy="2660.3" r="4.7"/><circle cx="1261.3" cy="2658.9" r="4.7"/><circle cx="1257.0" cy="2658.7" r="4.7"/><circle cx="1257.2" cy="2657.6" r="4.7"/><circle cx="1246.8" cy="2657.3" r="4.7"/><circle cx="1246.6" cy="2657.0" r="4.7"/><circle cx="1272.2" cy="2656.6" r="4.7"/><circle cx="1255.5" cy="2654.6" r="4.7"/><circle cx="1241.5" cy="2494.5" r="4.5"/><circle cx="1307.7" cy="2501.9" r="4.5"/><circle cx="1244.8" cy="2497.4" r="4.5"/><circle cx="1113.2" cy="2494.0" r="4.5"/><circle cx="1185.7" cy="2496.6" r="4.5"/><circle cx="1245.6" cy="2497.1" r="4.5"/><circle cx="1264.4" cy="2494.8" r="4.5"/><circle cx="1312.0" cy="2496.2" r="4.5"/><circle cx="1299.9" cy="2494.4" r="4.5"/><circle cx="1189.8" cy="2494.3" r="4.5"/><circle cx="1174.4" cy="2494.5" r="4.5"/><circle cx="1225.5" cy="2491.2" r="4.5"/><circle cx="1391.3" cy="2496.4" r="4.5"/><circle cx="1116.7" cy="2493.8" r="4.5"/><circle cx="1237.9" cy="2500.7" r="4.5"/><circle cx="1345.9" cy="2498.5" r="4.5"/><circle cx="1228.1" cy="2491.5" r="4.5"/><circle cx="1276.0" cy="2501.9" r="4.5"/><circle cx="1258.4" cy="2501.1" r="4.5"/><circle cx="1134.0" cy="2489.7" r="4.5"/><circle cx="1260.4" cy="2498.3" r="4.5"/><circle cx="1260.7" cy="2500.0" r="4.5"/><circle cx="1130.2" cy="2490.4" r="4.5"/><circle cx="1113.3" cy="2490.4" r="4.5"/><circle cx="1162.6" cy="2494.2" r="4.5"/><circle cx="1297.7" cy="2489.5" r="4.5"/><circle cx="1389.5" cy="2489.9" r="4.5"/><circle cx="1139.2" cy="2501.7" r="4.5"/><circle cx="1225.5" cy="2499.7" r="4.5"/><circle cx="1351.9" cy="2497.3" r="4.5"/><circle cx="1334.6" cy="2491.6" r="4.5"/><circle cx="1335.8" cy="2493.9" r="4.5"/><circle cx="1289.4" cy="2501.2" r="4.5"/><circle cx="1249.2" cy="2502.5" r="4.5"/><circle cx="1255.7" cy="2570.4" r="4.2"/><circle cx="1381.8" cy="2730.0" r="3.2"/><circle cx="1269.8" cy="2667.0" r="2.6"/><circle cx="1243.9" cy="2567.7" r="3.2"/><circle cx="1357.5" cy="2573.3" r="4.2"/><circle cx="1383.0" cy="2687.8" r="4.2"/><circle cx="1338.0" cy="2680.4" r="2.6"/><circle cx="1218.1" cy="2618.0" r="2.6"/><circle cx="1159.7" cy="2548.0" r="3.2"/><circle cx="1271.6" cy="2563.4" r="4.2"/><circle cx="1194.9" cy="2550.1" r="3.2"/><circle cx="1294.5" cy="2626.9" r="2.6"/><circle cx="1178.1" cy="2719.2" r="4.2"/><circle cx="1180.3" cy="2711.0" r="4.2"/><circle cx="1316.6" cy="2743.9" r="4.2"/><circle cx="1210.3" cy="2729.9" r="4.2"/><circle cx="1247.4" cy="2705.4" r="3.2"/><circle cx="1353.9" cy="2641.6" r="2.6"/><circle cx="1164.1" cy="2535.6" r="3.2"/><circle cx="1146.3" cy="2549.4" r="2.6"/><circle cx="1270.2" cy="2613.3" r="2.6"/><circle cx="1387.3" cy="2620.4" r="2.6"/><circle cx="1271.9" cy="2602.3" r="2.6"/><circle cx="1189.3" cy="2700.9" r="3.2"/><circle cx="1163.5" cy="2624.9" r="3.2"/><circle cx="1285.7" cy="2720.5" r="2.6"/></g>
<text x="1206.0" y="2554" font-size="47" font-weight="bold" fill="#fff" stroke="#1a1a1a" stroke-width="7" stroke-linejoin="round" paint-order="stroke" textLength="164.0" lengthAdjust="spacingAndGlyphs">250 mV</text></svg>
<div class="t" style="left:522.5px;top:127.7px;font-size:73.4px;line-height:73.4px;color:#E30613;font-family:'Liberation Sans',sans-serif;font-weight:bold;width:1676.0px;text-align:justify;text-align-last:justify;word-spacing:-0.13em;">Nanoburbujas Generadas Electroquímicamente:</div>
<div class="t" style="left:522.5px;top:209.7px;font-size:73.4px;line-height:73.4px;color:#E30613;font-family:'Liberation Sans',sans-serif;font-weight:bold;width:2066.5px;text-align:justify;text-align-last:justify;word-spacing:-0.13em;">Modelado y Simulación de la respuesta Corriente-Potencial</div>
<div class="t" style="left:521.5px;top:317.2px;font-size:50.2px;line-height:50.2px;color:#231F20;font-family:'Liberation Sans',sans-serif;font-weight:bold;width:2044.5px;text-align:justify;text-align-last:justify;word-spacing:-0.13em;"><u style="text-decoration-thickness:2.6px;text-underline-offset:5px">Esteban D. Gadea</u><sup class="s">1</sup>, Yamila A. Pérez Sirkin<sup class="s">1</sup>, Valeria Molinero<sup class="s">2</sup>&nbsp; and Damián A. Scherlis<sup class="s">1</sup></div>
<div class="t" style="left:521.0px;top:389.3px;font-size:48.3px;line-height:48.3px;color:#231F20;font-family:'Liberation Sans',sans-serif;width:2037.0px;text-align:justify;text-align-last:justify;word-spacing:-0.13em;"><sup class="s">1</sup>DQIAyQF/INQUIMAE, Facultad de Ciencias Exactas y Naturales, Universidad de Buenos Aires,</div>
<div class="t" style="left:532.0px;top:442.8px;font-size:48.3px;line-height:48.3px;color:#231F20;font-family:'Liberation Sans',sans-serif;width:524.0px;text-align:justify;text-align-last:justify;word-spacing:-0.13em;">Buenos Aires, Argentina.</div>
<div class="t" style="left:521.0px;top:496.4px;font-size:48.3px;line-height:48.3px;color:#231F20;font-family:'Liberation Sans',sans-serif;width:1625.0px;text-align:justify;text-align-last:justify;word-spacing:-0.13em;"><sup class="s">2</sup>Department of Chemistry, The University of Utah, Salt Lake City, Utah, USA.</div>
<div class="t" style="left:715.0px;top:695.9px;font-size:50px;line-height:50px;color:#231F20;font-family:'Liberation Sans',sans-serif;width:2371.0px;text-align:justify;text-align-last:justify;word-spacing:-0.13em;">El estudio de burbujas superficiales utilizando electrodos nanométricos ha permitido la producción</div>
<div class="t" style="left:715.0px;top:752.3px;font-size:50px;line-height:50px;color:#231F20;font-family:'Liberation Sans',sans-serif;width:2371.0px;text-align:justify;text-align-last:justify;word-spacing:-0.13em;">electroquímica de nanoburbujas individuales de H<sub class="s">2</sub>, O<sub class="s">2</sub> y N<sub class="s">2</sub> sobre nanodiscos de platino. Una vez nucleada la</div>
<div class="t" style="left:715.0px;top:808.7px;font-size:50px;line-height:50px;color:#231F20;font-family:'Liberation Sans',sans-serif;width:2371.0px;text-align:justify;text-align-last:justify;word-spacing:-0.13em;">burbuja el sistema alcanza un equilibrio dinámico donde la corriente residual no depende del voltaje aplicado.</div>
<div class="t" style="left:715.0px;top:865.1px;font-size:50px;line-height:50px;color:#231F20;font-family:'Liberation Sans',sans-serif;width:2371.0px;text-align:justify;text-align-last:justify;word-spacing:-0.13em;">La producción de electroquímica de gas alimenta la nanoburbuja, compensando la pérdida de gas por</div>
<div class="t" style="left:715.0px;top:921.5px;font-size:50px;line-height:50px;color:#231F20;font-family:'Liberation Sans',sans-serif;width:2371.0px;text-align:justify;text-align-last:justify;word-spacing:-0.13em;">difusión. Utilizando simulaciones híbridas de dinámica molecular con Monte Carlo cinético (kMC-MD) y un</div>
<div class="t" style="left:715.0px;top:977.9px;font-size:50px;line-height:50px;color:#231F20;font-family:'Liberation Sans',sans-serif;width:2371.0px;text-align:justify;text-align-last:justify;word-spacing:-0.13em;">modelado cinético analítico analizmaos como el equilibrio dinámico de difusión limita la corriente, resultando</div>
<div class="t" style="left:715.0px;top:1034.3px;font-size:50px;line-height:50px;color:#231F20;font-family:'Liberation Sans',sans-serif;width:2174.0px;text-align:justify;text-align-last:justify;word-spacing:-0.13em;">en la insensibilidad de la respuesta corriente-potencial a lo largo de múltiples geometrías y tamaños.</div>
<div class="t" style="left:1255.5px;top:1253.9px;font-size:48px;line-height:48px;color:#fff;font-family:'Liberation Sans',sans-serif;width:905.5px;text-align:justify;text-align-last:justify;word-spacing:-0.13em;">Nuestras simulaciones utilizan potenciales</div>
<div class="t" style="left:1206.5px;top:1307.7px;font-size:48px;line-height:48px;color:#fff;font-family:'Liberation Sans',sans-serif;width:954.5px;text-align:justify;text-align-last:justify;word-spacing:-0.13em;">de grano grueso para describir el solvente y</div>
<div class="t" style="left:1206.5px;top:1361.4px;font-size:48px;line-height:48px;color:#fff;font-family:'Liberation Sans',sans-serif;width:433.5px;text-align:justify;text-align-last:justify;word-spacing:-0.13em;">las particulas de gas.</div>
<div class="t" style="left:1255.5px;top:1468.4px;font-size:48px;line-height:48px;color:#fff;font-family:'Liberation Sans',sans-serif;width:905.5px;text-align:justify;text-align-last:justify;word-spacing:-0.13em;">El algoritmo procede intercalando pasos e</div>
<div class="t" style="left:1206.5px;top:1522.1px;font-size:48px;line-height:48px;color:#fff;font-family:'Liberation Sans',sans-serif;width:887.5px;text-align:justify;text-align-last:justify;word-spacing:-0.13em;">dinamica molecular y Monte Carlo cinético.</div>
<div class="t" style="left:1255.5px;top:1629.4px;font-size:48px;line-height:48px;color:#fff;font-family:'Liberation Sans',sans-serif;width:905.5px;text-align:justify;text-align-last:justify;word-spacing:-0.13em;">El paso de dinámica molecular actualiza las</div>
<div class="t" style="left:1206.5px;top:1682.9px;font-size:48px;line-height:48px;color:#fff;font-family:'Liberation Sans',sans-serif;width:878.5px;text-align:justify;text-align-last:justify;word-spacing:-0.13em;">posiciones y velocidades de las partículas.</div>
<div class="t" style="left:1255.5px;top:1789.7px;font-size:48px;line-height:48px;color:#fff;font-family:'Liberation Sans',sans-serif;width:905.5px;text-align:justify;text-align-last:justify;word-spacing:-0.13em;">El paso de Monte Carlo cinético es el</div>
<div class="t" style="left:1206.5px;top:1843.4px;font-size:48px;line-height:48px;color:#fff;font-family:'Liberation Sans',sans-serif;width:954.5px;text-align:justify;text-align-last:justify;word-spacing:-0.13em;">responsable de simular los eventos reactivos</div>
<div class="t" style="left:1206.5px;top:1897.0px;font-size:48px;line-height:48px;color:#fff;font-family:'Liberation Sans',sans-serif;width:948.5px;text-align:justify;text-align-last:justify;word-spacing:-0.13em;">donde el solvente se interconvierte con el gas.</div>
<div class="t" style="left:127.0px;top:2097.5px;font-size:53.3px;line-height:53.3px;color:#231F20;font-family:'Liberation Sans',sans-serif;font-weight:bold;">Resultados</div>
<div class="t" style="left:126.0px;top:2156.7px;font-size:48px;line-height:48px;color:#231F20;font-family:'Liberation Sans',sans-serif;width:1218.0px;text-align:justify;text-align-last:justify;word-spacing:-0.13em;">La respuesta del sistema permite distinguir dos regímenes:</div>
<div class="t" style="left:175.0px;top:2210.4px;font-size:48px;line-height:48px;color:#231F20;font-family:'Liberation Sans',sans-serif;width:1218.0px;text-align:justify;text-align-last:justify;word-spacing:-0.13em;">A bajos potenciales el gas puede escapar directamente</div>
<div class="t" style="left:126.0px;top:2263.9px;font-size:48px;line-height:48px;color:#231F20;font-family:'Liberation Sans',sans-serif;width:356.0px;text-align:justify;text-align-last:justify;word-spacing:-0.13em;">hacia la solución.</div>
<div class="t" style="left:175.0px;top:2316.9px;font-size:48px;line-height:48px;color:#231F20;font-family:'Liberation Sans',sans-serif;width:1218.0px;text-align:justify;text-align-last:justify;word-spacing:-0.13em;">A potenciales altos toda la producción de gas alimenta a la</div>
<div class="t" style="left:126.0px;top:2369.9px;font-size:48px;line-height:48px;color:#231F20;font-family:'Liberation Sans',sans-serif;width:172.0px;text-align:justify;text-align-last:justify;word-spacing:-0.13em;">burbuja.</div>
<div class="t" style="left:1247.0px;top:2933.4px;font-size:48px;line-height:48px;color:#231F20;font-family:'Liberation Sans',sans-serif;font-weight:bold;width:991.0px;text-align:justify;text-align-last:justify;word-spacing:-0.13em;">Expresión analítica para la corriente residual</div>
<div class="t" style="left:1245.0px;top:3040.4px;font-size:48px;line-height:48px;color:#231F20;font-family:'Liberation Sans',sans-serif;width:1856.0px;text-align:justify;text-align-last:justify;word-spacing:-0.13em;">La expresión para el flujo masico de gas que escapa de la burbuja (dW/dt) en el límite</div>
<div class="t" style="left:1245.0px;top:3092.4px;font-size:48px;line-height:48px;color:#231F20;font-family:'Liberation Sans',sans-serif;width:351.0px;text-align:justify;text-align-last:justify;word-spacing:-0.13em;">cuasi-estático es</div>
<div class="t" style="left:1245.0px;top:3361.4px;font-size:48px;line-height:48px;color:#231F20;font-family:'Liberation Sans',sans-serif;width:1856.0px;text-align:justify;text-align-last:justify;word-spacing:-0.13em;">Sabiendo que el flujo de gas se encuentra balanceado con la producción electroquímica</div>
<div class="t" style="left:1245.0px;top:3415.0px;font-size:48px;line-height:48px;color:#231F20;font-family:'Liberation Sans',sans-serif;width:1856.0px;text-align:justify;text-align-last:justify;word-spacing:-0.13em;">es posible encontrar una expresión para la corriente. Para ello asumimos que la presión</div>
<div class="t" style="left:1245.0px;top:3468.6px;font-size:48px;line-height:48px;color:#231F20;font-family:'Liberation Sans',sans-serif;width:1856.0px;text-align:justify;text-align-last:justify;word-spacing:-0.13em;">interna de la burbuja está gobernada por la presión de Laplace y que la ley de Henry se</div>
<div class="t" style="left:1245.0px;top:3522.2px;font-size:48px;line-height:48px;color:#231F20;font-family:'Liberation Sans',sans-serif;width:807.0px;text-align:justify;text-align-last:justify;word-spacing:-0.13em;">cumple para este sistema y obtenemos</div>
<div class="t" style="left:1245.0px;top:3790.9px;font-size:48px;line-height:48px;color:#231F20;font-family:'Liberation Sans',sans-serif;width:1856.0px;text-align:justify;text-align-last:justify;word-spacing:-0.13em;">Utilizando la ley de Fick para la conversion electroquimica de esta&nbsp; masa de gas es posible</div>
<div class="t" style="left:1245.0px;top:3844.4px;font-size:48px;line-height:48px;color:#231F20;font-family:'Liberation Sans',sans-serif;width:1503.0px;text-align:justify;text-align-last:justify;word-spacing:-0.13em;">predecir las tendencias de las corrientes observadas en las simulaciones</div>
<div class="t" style="left:2656.0px;top:3205.4px;font-size:48px;line-height:48px;color:#231F20;font-family:'Liberation Sans',sans-serif;">(1)</div>
<div class="t" style="left:2664.5px;top:3631.9px;font-size:48px;line-height:48px;color:#231F20;font-family:'Liberation Sans',sans-serif;">(2)</div>
<div class="t" style="left:47.0px;top:4010.5px;font-size:42.8px;line-height:42.8px;color:#414042;font-family:'Liberation Sans',sans-serif;font-weight:bold;">Referencias</div>
<div class="t" style="left:48.0px;top:4058.1px;font-size:43.2px;line-height:43.2px;color:#414042;font-family:'Liberation Sans',sans-serif;width:795.0px;text-align:justify;text-align-last:justify;word-spacing:-0.13em;"><sup class="s">1</sup>Langmuir, 2013, 29 (35), pp 11169–11175</div>
<div class="t" style="left:48.0px;top:4105.4px;font-size:43.2px;line-height:43.2px;color:#414042;font-family:'Liberation Sans',sans-serif;width:935.0px;text-align:justify;text-align-last:justify;word-spacing:-0.13em;"><sup class="s">2</sup>J. Phys. Chem. B, 2009, 113 (13), pp 4008–4016</div>
<div class="t" style="left:48.0px;top:4153.4px;font-size:43.2px;line-height:43.2px;color:#414042;font-family:'Liberation Sans',sans-serif;width:737.0px;text-align:justify;text-align-last:justify;word-spacing:-0.13em;"><sup class="s">3</sup>Langmuir, 2008, 24 (6), pp 2850–2855</div>
<div class="t" style="left:1130.0px;top:4011.0px;font-size:48px;line-height:48px;color:#fff;font-family:'Liberation Sans',sans-serif;font-weight:bold;">Conclusiones</div>
<div class="t" style="left:1178.0px;top:4066.9px;font-size:48px;line-height:48px;color:#fff;font-family:'Liberation Sans',sans-serif;width:1901.0px;text-align:justify;text-align-last:justify;word-spacing:-0.13em;">El tamaño de la burbuja se ajusta hasta alcanzar el equilibrio dinamico con la generacion de</div>
<div class="t" style="left:1130.0px;top:4119.4px;font-size:48px;line-height:48px;color:#fff;font-family:'Liberation Sans',sans-serif;width:89.0px;text-align:justify;text-align-last:justify;word-spacing:-0.13em;">gas.</div>
<div class="t" style="left:1178.0px;top:4173.4px;font-size:48px;line-height:48px;color:#fff;font-family:'Liberation Sans',sans-serif;width:1901.0px;text-align:justify;text-align-last:justify;word-spacing:-0.13em;">La velocidad de escape del gas es insensible al radio de curvatura, lo cual origina los valores</div>
<div class="t" style="left:1130.0px;top:4226.4px;font-size:48px;line-height:48px;color:#fff;font-family:'Liberation Sans',sans-serif;width:1299.0px;text-align:justify;text-align-last:justify;word-spacing:-0.13em;">robustos de corriente residual observados experimentalmente.</div>
<div class="t" style="left:1178.0px;top:4279.9px;font-size:48px;line-height:48px;color:#fff;font-family:'Liberation Sans',sans-serif;width:1901.0px;text-align:justify;text-align-last:justify;word-spacing:-0.13em;">Nuestro modelo predice la dependencia de la corriente con el angulo de contacto, sin</div>
<div class="t" style="left:1130.0px;top:4333.4px;font-size:48px;line-height:48px;color:#fff;font-family:'Liberation Sans',sans-serif;width:1949.0px;text-align:justify;text-align-last:justify;word-spacing:-0.13em;">embargo la funcionalidad del angulo de contacto con el potencial aplicado sigue siendo</div>
<div class="t" style="left:1130.0px;top:4386.9px;font-size:48px;line-height:48px;color:#fff;font-family:'Liberation Sans',sans-serif;width:270.0px;text-align:justify;text-align-last:justify;word-spacing:-0.13em;">desconocida</div>
<svg width="3181" height="4496" viewBox="0 0 3181 4496" style="left:0;top:0;font-family:'Liberation Serif',serif"><defs>
<linearGradient id="gA" x1="0" x2="1" y1="0" y2="0"><stop offset="0" stop-color="#B7C6F4"/><stop offset="0.12" stop-color="#C5D3F6"/><stop offset="0.3" stop-color="#E3E8F1"/><stop offset="0.37" stop-color="#ECEAE9"/><stop offset="0.48" stop-color="#F5DFD3"/><stop offset="0.6" stop-color="#F4CABB"/><stop offset="0.75" stop-color="#EDB2AC"/><stop offset="0.9" stop-color="#E5A3A4"/><stop offset="1" stop-color="#E29CA0"/></linearGradient>
</defs>
<line x1="2456.6" y1="1259.0" x2="2456.6" y2="1271.6" stroke="#000" stroke-width="2.4" stroke-linecap="butt"/>
<line x1="2456.6" y1="1905.0" x2="2456.6" y2="1892.4" stroke="#000" stroke-width="2.4" stroke-linecap="butt"/>
<text x="2456.6" y="1941.5" font-size="31.2" text-anchor="middle" fill="#000" textLength="16.0" lengthAdjust="spacingAndGlyphs">0</text>
<line x1="2648.5" y1="1259.0" x2="2648.5" y2="1271.6" stroke="#000" stroke-width="2.4" stroke-linecap="butt"/>
<line x1="2648.5" y1="1905.0" x2="2648.5" y2="1892.4" stroke="#000" stroke-width="2.4" stroke-linecap="butt"/>
<text x="2648.5" y="1941.5" font-size="31.2" text-anchor="middle" fill="#000" textLength="32.0" lengthAdjust="spacingAndGlyphs">50</text>
<line x1="2840.4" y1="1259.0" x2="2840.4" y2="1271.6" stroke="#000" stroke-width="2.4" stroke-linecap="butt"/>
<line x1="2840.4" y1="1905.0" x2="2840.4" y2="1892.4" stroke="#000" stroke-width="2.4" stroke-linecap="butt"/>
<text x="2840.4" y="1941.5" font-size="31.2" text-anchor="middle" fill="#000" textLength="48.0" lengthAdjust="spacingAndGlyphs">100</text>
<line x1="3032.3" y1="1259.0" x2="3032.3" y2="1271.6" stroke="#000" stroke-width="2.4" stroke-linecap="butt"/>
<line x1="3032.3" y1="1905.0" x2="3032.3" y2="1892.4" stroke="#000" stroke-width="2.4" stroke-linecap="butt"/>
<text x="3032.3" y="1941.5" font-size="31.2" text-anchor="middle" fill="#000" textLength="48.0" lengthAdjust="spacingAndGlyphs">150</text>
<line x1="2427.6" y1="1883.3" x2="2440.2" y2="1883.3" stroke="#000" stroke-width="2.4" stroke-linecap="butt"/>
<line x1="3061.7" y1="1883.3" x2="3049.1" y2="1883.3" stroke="#000" stroke-width="2.4" stroke-linecap="butt"/>
<text x="2411.5" y="1893.9" font-size="31.2" text-anchor="end" fill="#000" textLength="40.9" lengthAdjust="spacingAndGlyphs">0.0</text>
<line x1="2427.6" y1="1775.6" x2="2440.2" y2="1775.6" stroke="#000" stroke-width="2.4" stroke-linecap="butt"/>
<line x1="3061.7" y1="1775.6" x2="3049.1" y2="1775.6" stroke="#000" stroke-width="2.4" stroke-linecap="butt"/>
<text x="2411.5" y="1786.2" font-size="31.2" text-anchor="end" fill="#000" textLength="40.9" lengthAdjust="spacingAndGlyphs">0.5</text>
<line x1="2427.6" y1="1668.0" x2="2440.2" y2="1668.0" stroke="#000" stroke-width="2.4" stroke-linecap="butt"/>
<line x1="3061.7" y1="1668.0" x2="3049.1" y2="1668.0" stroke="#000" stroke-width="2.4" stroke-linecap="butt"/>
<text x="2411.5" y="1678.6" font-size="31.2" text-anchor="end" fill="#000" textLength="40.9" lengthAdjust="spacingAndGlyphs">1.0</text>
<line x1="2427.6" y1="1560.3" x2="2440.2" y2="1560.3" stroke="#000" stroke-width="2.4" stroke-linecap="butt"/>
<line x1="3061.7" y1="1560.3" x2="3049.1" y2="1560.3" stroke="#000" stroke-width="2.4" stroke-linecap="butt"/>
<text x="2411.5" y="1570.9" font-size="31.2" text-anchor="end" fill="#000" textLength="40.9" lengthAdjust="spacingAndGlyphs">1.5</text>
<line x1="2427.6" y1="1452.7" x2="2440.2" y2="1452.7" stroke="#000" stroke-width="2.4" stroke-linecap="butt"/>
<line x1="3061.7" y1="1452.7" x2="3049.1" y2="1452.7" stroke="#000" stroke-width="2.4" stroke-linecap="butt"/>
<text x="2411.5" y="1463.3" font-size="31.2" text-anchor="end" fill="#000" textLength="40.9" lengthAdjust="spacingAndGlyphs">2.0</text>
<line x1="2427.6" y1="1345.0" x2="2440.2" y2="1345.0" stroke="#000" stroke-width="2.4" stroke-linecap="butt"/>
<line x1="3061.7" y1="1345.0" x2="3049.1" y2="1345.0" stroke="#000" stroke-width="2.4" stroke-linecap="butt"/>
<text x="2411.5" y="1355.6" font-size="31.2" text-anchor="end" fill="#000" textLength="40.9" lengthAdjust="spacingAndGlyphs">2.5</text>
<text x="2743.6" y="1991.0" font-size="38.9" text-anchor="middle" fill="#000" textLength="267.6" lengthAdjust="spacingAndGlyphs">Potential (mV)</text>
<text x="2349.0" y="1583.0" font-size="38.7" text-anchor="middle" fill="#000" textLength="232.9" lengthAdjust="spacingAndGlyphs" transform="rotate(-90 2349.0 1583.0)">Current (nA)</text>
<polyline fill="none" stroke="#EC8384" stroke-width="4.2" stroke-linejoin="round" points="2456.6,1883.3 2552.5,1700.3 2648.5,1578.7 2706.1,1462.8 2744.4,1376.5 2782.8,1347.6 2840.4,1454.0 3032.3,1454.0"/>
<polyline fill="none" stroke="#B0C4DE" stroke-width="4.2" stroke-linejoin="round" points="2456.6,1883.3 2552.5,1715.4 2648.5,1578.7 2706.1,1545.1 2744.4,1508.7 2782.8,1499.9 2840.4,1476.2 3032.3,1457.7"/>
<line x1="2552.5" y1="1685.2" x2="2552.5" y2="1715.4" stroke="#EC8384" stroke-width="3.6" stroke-linecap="butt"/>
<line x1="2542.5" y1="1685.2" x2="2562.5" y2="1685.2" stroke="#EC8384" stroke-width="3.2" stroke-linecap="butt"/>
<line x1="2542.5" y1="1715.4" x2="2562.5" y2="1715.4" stroke="#EC8384" stroke-width="3.2" stroke-linecap="butt"/>
<line x1="2648.5" y1="1541.4" x2="2648.5" y2="1615.9" stroke="#EC8384" stroke-width="3.6" stroke-linecap="butt"/>
<line x1="2638.5" y1="1541.4" x2="2658.5" y2="1541.4" stroke="#EC8384" stroke-width="3.2" stroke-linecap="butt"/>
<line x1="2638.5" y1="1615.9" x2="2658.5" y2="1615.9" stroke="#EC8384" stroke-width="3.2" stroke-linecap="butt"/>
<line x1="2706.1" y1="1411.1" x2="2706.1" y2="1514.5" stroke="#EC8384" stroke-width="3.6" stroke-linecap="butt"/>
<line x1="2696.1" y1="1411.1" x2="2716.1" y2="1411.1" stroke="#EC8384" stroke-width="3.2" stroke-linecap="butt"/>
<line x1="2696.1" y1="1514.5" x2="2716.1" y2="1514.5" stroke="#EC8384" stroke-width="3.2" stroke-linecap="butt"/>
<line x1="2744.4" y1="1320.5" x2="2744.4" y2="1432.5" stroke="#EC8384" stroke-width="3.6" stroke-linecap="butt"/>
<line x1="2734.4" y1="1320.5" x2="2754.4" y2="1320.5" stroke="#EC8384" stroke-width="3.2" stroke-linecap="butt"/>
<line x1="2734.4" y1="1432.5" x2="2754.4" y2="1432.5" stroke="#EC8384" stroke-width="3.2" stroke-linecap="butt"/>
<line x1="2782.8" y1="1292.5" x2="2782.8" y2="1402.8" stroke="#EC8384" stroke-width="3.6" stroke-linecap="butt"/>
<line x1="2772.8" y1="1292.5" x2="2792.8" y2="1292.5" stroke="#EC8384" stroke-width="3.2" stroke-linecap="butt"/>
<line x1="2772.8" y1="1402.8" x2="2792.8" y2="1402.8" stroke="#EC8384" stroke-width="3.2" stroke-linecap="butt"/>
<line x1="2840.4" y1="1404.5" x2="2840.4" y2="1503.5" stroke="#EC8384" stroke-width="3.6" stroke-linecap="butt"/>
<line x1="2830.4" y1="1404.5" x2="2850.4" y2="1404.5" stroke="#EC8384" stroke-width="3.2" stroke-linecap="butt"/>
<line x1="2830.4" y1="1503.5" x2="2850.4" y2="1503.5" stroke="#EC8384" stroke-width="3.2" stroke-linecap="butt"/>
<line x1="3032.3" y1="1405.5" x2="3032.3" y2="1502.4" stroke="#EC8384" stroke-width="3.6" stroke-linecap="butt"/>
<line x1="3022.3" y1="1405.5" x2="3042.3" y2="1405.5" stroke="#EC8384" stroke-width="3.2" stroke-linecap="butt"/>
<line x1="3022.3" y1="1502.4" x2="3042.3" y2="1502.4" stroke="#EC8384" stroke-width="3.2" stroke-linecap="butt"/>
<line x1="2552.5" y1="1685.2" x2="2552.5" y2="1745.5" stroke="#B0C4DE" stroke-width="3.6" stroke-linecap="butt"/>
<line x1="2542.5" y1="1685.2" x2="2562.5" y2="1685.2" stroke="#B0C4DE" stroke-width="3.2" stroke-linecap="butt"/>
<line x1="2542.5" y1="1745.5" x2="2562.5" y2="1745.5" stroke="#B0C4DE" stroke-width="3.2" stroke-linecap="butt"/>
<line x1="2648.5" y1="1537.7" x2="2648.5" y2="1619.6" stroke="#B0C4DE" stroke-width="3.6" stroke-linecap="butt"/>
<line x1="2638.5" y1="1537.7" x2="2658.5" y2="1537.7" stroke="#B0C4DE" stroke-width="3.2" stroke-linecap="butt"/>
<line x1="2638.5" y1="1619.6" x2="2658.5" y2="1619.6" stroke="#B0C4DE" stroke-width="3.2" stroke-linecap="butt"/>
<line x1="2706.1" y1="1521.2" x2="2706.1" y2="1569.0" stroke="#B0C4DE" stroke-width="3.6" stroke-linecap="butt"/>
<line x1="2696.1" y1="1521.2" x2="2716.1" y2="1521.2" stroke="#B0C4DE" stroke-width="3.2" stroke-linecap="butt"/>
<line x1="2696.1" y1="1569.0" x2="2716.1" y2="1569.0" stroke="#B0C4DE" stroke-width="3.2" stroke-linecap="butt"/>
<line x1="2744.4" y1="1478.8" x2="2744.4" y2="1538.6" stroke="#B0C4DE" stroke-width="3.6" stroke-linecap="butt"/>
<line x1="2734.4" y1="1478.8" x2="2754.4" y2="1478.8" stroke="#B0C4DE" stroke-width="3.2" stroke-linecap="butt"/>
<line x1="2734.4" y1="1538.6" x2="2754.4" y2="1538.6" stroke="#B0C4DE" stroke-width="3.2" stroke-linecap="butt"/>
<line x1="2782.8" y1="1490.2" x2="2782.8" y2="1509.5" stroke="#B0C4DE" stroke-width="3.6" stroke-linecap="butt"/>
<line x1="2772.8" y1="1490.2" x2="2792.8" y2="1490.2" stroke="#B0C4DE" stroke-width="3.2" stroke-linecap="butt"/>
<line x1="2772.8" y1="1509.5" x2="2792.8" y2="1509.5" stroke="#B0C4DE" stroke-width="3.2" stroke-linecap="butt"/>
<line x1="2840.4" y1="1439.6" x2="2840.4" y2="1512.8" stroke="#B0C4DE" stroke-width="3.6" stroke-linecap="butt"/>
<line x1="2830.4" y1="1439.6" x2="2850.4" y2="1439.6" stroke="#B0C4DE" stroke-width="3.2" stroke-linecap="butt"/>
<line x1="2830.4" y1="1512.8" x2="2850.4" y2="1512.8" stroke="#B0C4DE" stroke-width="3.2" stroke-linecap="butt"/>
<line x1="3032.3" y1="1410.7" x2="3032.3" y2="1504.6" stroke="#B0C4DE" stroke-width="3.6" stroke-linecap="butt"/>
<line x1="3022.3" y1="1410.7" x2="3042.3" y2="1410.7" stroke="#B0C4DE" stroke-width="3.2" stroke-linecap="butt"/>
<line x1="3022.3" y1="1504.6" x2="3042.3" y2="1504.6" stroke="#B0C4DE" stroke-width="3.2" stroke-linecap="butt"/>
<path d="M2440.3 1883.3L2456.6 1867.0L2472.9 1883.3L2456.6 1899.6Z" fill="#D62728"/>
<path d="M2536.2 1700.3L2552.5 1684.0L2568.8 1700.3L2552.5 1716.6Z" fill="#D62728"/>
<path d="M2632.2 1578.7L2648.5 1562.4L2664.8 1578.7L2648.5 1595.0Z" fill="#D62728"/>
<path d="M2689.8 1462.8L2706.1 1446.5L2722.4 1462.8L2706.1 1479.1Z" fill="#D62728"/>
<path d="M2728.1 1376.5L2744.4 1360.2L2760.8 1376.5L2744.4 1392.8Z" fill="#D62728"/>
<path d="M2766.5 1347.6L2782.8 1331.3L2799.1 1347.6L2782.8 1363.9Z" fill="#D62728"/>
<path d="M2824.1 1454.0L2840.4 1437.7L2856.7 1454.0L2840.4 1470.3Z" fill="#D62728"/>
<path d="M3016.0 1454.0L3032.3 1437.7L3048.6 1454.0L3032.3 1470.3Z" fill="#D62728"/>
<circle cx="2456.6" cy="1883.3" r="11.3" fill="#1F77B4"/>
<circle cx="2552.5" cy="1715.4" r="11.3" fill="#1F77B4"/>
<circle cx="2648.5" cy="1578.7" r="11.3" fill="#1F77B4"/>
<circle cx="2706.1" cy="1545.1" r="11.3" fill="#1F77B4"/>
<circle cx="2744.4" cy="1508.7" r="11.3" fill="#1F77B4"/>
<circle cx="2782.8" cy="1499.9" r="11.3" fill="#1F77B4"/>
<circle cx="2840.4" cy="1476.2" r="11.3" fill="#1F77B4"/>
<circle cx="3032.3" cy="1457.7" r="11.3" fill="#1F77B4"/>
<path d="M2613.3 1541.2 Q2672 1440 2704 1352" fill="none" stroke="#EC8384" stroke-width="4.4" stroke-linecap="round"/>
<path d="M2711.7 1327 L2709 1360 L2694.5 1354 Z" fill="#EC8384" stroke="#EC8384" stroke-width="2" stroke-linejoin="round"/>
<path d="M2968 1517.5 Q2830 1522 2727 1608" fill="none" stroke="#B0C4DE" stroke-width="4.4" stroke-linecap="round"/>
<path d="M2709.5 1620.5 L2728 1598.5 L2738.5 1612 Z" fill="#B0C4DE" stroke="#B0C4DE" stroke-width="2" stroke-linejoin="round"/>
<path d="M2855.7 1328.3 L2830 1356.5" stroke="#000" stroke-width="4.5" stroke-linecap="round" fill="none"/>
<path d="M2811.4 1377.1 L2822.5 1349 L2839.5 1364.5 Z" fill="#000"/>
<path d="M2691.6 1660.9 L2675.5 1626.5" stroke="#000" stroke-width="4.5" stroke-linecap="round" fill="none"/>
<path d="M2663.6 1601.2 L2686.5 1621.5 L2665.5 1631.5 Z" fill="#000"/>
<text x="2858.6" y="1309.0" font-size="32.4" text-anchor="start" fill="#000" textLength="102.8" lengthAdjust="spacingAndGlyphs">Bubble</text>
<text x="2858.6" y="1343.5" font-size="32.4" text-anchor="start" fill="#000" textLength="141.2" lengthAdjust="spacingAndGlyphs">formation</text>
<text x="2699.0" y="1674.5" font-size="32.4" text-anchor="start" fill="#000" textLength="102.8" lengthAdjust="spacingAndGlyphs">Bubble</text>
<text x="2699.0" y="1709.7" font-size="32.4" text-anchor="start" fill="#000" textLength="155.3" lengthAdjust="spacingAndGlyphs">dissolution</text>
<rect x="2427.6" y="1259.0" width="634.1" height="646.0" fill="none" stroke="#000" stroke-width="2.6"/>
<rect x="1577.9" y="2147.7" width="596.1" height="587.2" fill="url(#gA)"/>
<line x1="1652.8" y1="2147.7" x2="1652.8" y2="2162.5" stroke="#000" stroke-width="2.6" stroke-linecap="butt"/>
<line x1="1652.8" y1="2734.9" x2="1652.8" y2="2720.1" stroke="#000" stroke-width="2.6" stroke-linecap="butt"/>
<text x="1652.8" y="2775.3" font-size="36.8" text-anchor="middle" fill="#000" textLength="56.6" lengthAdjust="spacingAndGlyphs">100</text>
<line x1="1801.6" y1="2147.7" x2="1801.6" y2="2162.5" stroke="#000" stroke-width="2.6" stroke-linecap="butt"/>
<line x1="1801.6" y1="2734.9" x2="1801.6" y2="2720.1" stroke="#000" stroke-width="2.6" stroke-linecap="butt"/>
<text x="1801.6" y="2775.3" font-size="36.8" text-anchor="middle" fill="#000" textLength="56.6" lengthAdjust="spacingAndGlyphs">150</text>
<line x1="1950.4" y1="2147.7" x2="1950.4" y2="2162.5" stroke="#000" stroke-width="2.6" stroke-linecap="butt"/>
<line x1="1950.4" y1="2734.9" x2="1950.4" y2="2720.1" stroke="#000" stroke-width="2.6" stroke-linecap="butt"/>
<text x="1950.4" y="2775.3" font-size="36.8" text-anchor="middle" fill="#000" textLength="56.6" lengthAdjust="spacingAndGlyphs">200</text>
<line x1="2099.2" y1="2147.7" x2="2099.2" y2="2162.5" stroke="#000" stroke-width="2.6" stroke-linecap="butt"/>
<line x1="2099.2" y1="2734.9" x2="2099.2" y2="2720.1" stroke="#000" stroke-width="2.6" stroke-linecap="butt"/>
<text x="2099.2" y="2775.3" font-size="36.8" text-anchor="middle" fill="#000" textLength="56.6" lengthAdjust="spacingAndGlyphs">250</text>
<line x1="1577.9" y1="2734.9" x2="1592.7" y2="2734.9" stroke="#000" stroke-width="2.6" stroke-linecap="butt"/>
<line x1="2174.0" y1="2734.9" x2="2159.2" y2="2734.9" stroke="#000" stroke-width="2.6" stroke-linecap="butt"/>
<text x="1561.0" y="2747.3" font-size="36.8" text-anchor="end" fill="#000" textLength="48.2" lengthAdjust="spacingAndGlyphs">1.0</text>
<line x1="1577.9" y1="2588.1" x2="1592.7" y2="2588.1" stroke="#000" stroke-width="2.6" stroke-linecap="butt"/>
<line x1="2174.0" y1="2588.1" x2="2159.2" y2="2588.1" stroke="#000" stroke-width="2.6" stroke-linecap="butt"/>
<text x="1561.0" y="2600.5" font-size="36.8" text-anchor="end" fill="#000" textLength="48.2" lengthAdjust="spacingAndGlyphs">1.5</text>
<line x1="1577.9" y1="2441.3" x2="1592.7" y2="2441.3" stroke="#000" stroke-width="2.6" stroke-linecap="butt"/>
<line x1="2174.0" y1="2441.3" x2="2159.2" y2="2441.3" stroke="#000" stroke-width="2.6" stroke-linecap="butt"/>
<text x="1561.0" y="2453.7" font-size="36.8" text-anchor="end" fill="#000" textLength="48.2" lengthAdjust="spacingAndGlyphs">2.0</text>
<line x1="1577.9" y1="2294.5" x2="1592.7" y2="2294.5" stroke="#000" stroke-width="2.6" stroke-linecap="butt"/>
<line x1="2174.0" y1="2294.5" x2="2159.2" y2="2294.5" stroke="#000" stroke-width="2.6" stroke-linecap="butt"/>
<text x="1561.0" y="2306.9" font-size="36.8" text-anchor="end" fill="#000" textLength="48.2" lengthAdjust="spacingAndGlyphs">2.5</text>
<line x1="1577.9" y1="2147.7" x2="1592.7" y2="2147.7" stroke="#000" stroke-width="2.6" stroke-linecap="butt"/>
<line x1="2174.0" y1="2147.7" x2="2159.2" y2="2147.7" stroke="#000" stroke-width="2.6" stroke-linecap="butt"/>
<text x="1561.0" y="2160.1" font-size="36.8" text-anchor="end" fill="#000" textLength="48.2" lengthAdjust="spacingAndGlyphs">3.0</text>
<text x="1877.0" y="2833.4" font-size="44.4" text-anchor="middle" fill="#000" textLength="305.3" lengthAdjust="spacingAndGlyphs">Potential (mV)</text>
<text x="1486.5" y="2443.3" font-size="43.4" text-anchor="middle" fill="#000" textLength="261.3" lengthAdjust="spacingAndGlyphs" transform="rotate(-90 1486.5 2443.3)">Current (nA)</text>
<text x="1873.5" y="2123.0" font-size="43.4" text-anchor="middle" fill="#000" textLength="22.3" lengthAdjust="spacingAndGlyphs">a</text>
<text x="1622.3" y="2199.4" font-size="33.3" text-anchor="start" fill="#000" textLength="89.7" lengthAdjust="spacingAndGlyphs">Leaky</text>
<text x="1622.3" y="2234.9" font-size="33.3" text-anchor="start" fill="#000" textLength="98.8" lengthAdjust="spacingAndGlyphs">regime</text>
<text x="2009.0" y="2199.4" font-size="33.3" text-anchor="start" fill="#000" textLength="83.6" lengthAdjust="spacingAndGlyphs">Tight</text>
<text x="2009.0" y="2234.9" font-size="33.3" text-anchor="start" fill="#000" textLength="98.8" lengthAdjust="spacingAndGlyphs">regime</text>
<line x1="1652.8" y1="2529.4" x2="1652.8" y2="2705.5" stroke="#1F77B4" stroke-width="4.4" stroke-linecap="butt"/>
<line x1="1642.0" y1="2529.4" x2="1663.6" y2="2529.4" stroke="#1F77B4" stroke-width="4.4" stroke-linecap="butt"/>
<line x1="1642.0" y1="2705.5" x2="1663.6" y2="2705.5" stroke="#1F77B4" stroke-width="4.4" stroke-linecap="butt"/>
<circle cx="1652.8" cy="2617.5" r="13.8" fill="#1F77B4"/>
<line x1="1727.2" y1="2411.9" x2="1727.2" y2="2646.8" stroke="#1F77B4" stroke-width="4.4" stroke-linecap="butt"/>
<line x1="1716.4" y1="2411.9" x2="1738.0" y2="2411.9" stroke="#1F77B4" stroke-width="4.4" stroke-linecap="butt"/>
<line x1="1716.4" y1="2646.8" x2="1738.0" y2="2646.8" stroke="#1F77B4" stroke-width="4.4" stroke-linecap="butt"/>
<circle cx="1727.2" cy="2529.4" r="13.8" fill="#1F77B4"/>
<line x1="1801.6" y1="2396.4" x2="1801.6" y2="2631.3" stroke="#1F77B4" stroke-width="4.4" stroke-linecap="butt"/>
<line x1="1790.8" y1="2396.4" x2="1812.4" y2="2396.4" stroke="#1F77B4" stroke-width="4.4" stroke-linecap="butt"/>
<line x1="1790.8" y1="2631.3" x2="1812.4" y2="2631.3" stroke="#1F77B4" stroke-width="4.4" stroke-linecap="butt"/>
<circle cx="1801.6" cy="2513.8" r="13.8" fill="#1F77B4"/>
<line x1="1876.0" y1="2323.0" x2="1876.0" y2="2616.6" stroke="#1F77B4" stroke-width="4.4" stroke-linecap="butt"/>
<line x1="1865.2" y1="2323.0" x2="1886.8" y2="2323.0" stroke="#1F77B4" stroke-width="4.4" stroke-linecap="butt"/>
<line x1="1865.2" y1="2616.6" x2="1886.8" y2="2616.6" stroke="#1F77B4" stroke-width="4.4" stroke-linecap="butt"/>
<circle cx="1876.0" cy="2469.8" r="13.8" fill="#1F77B4"/>
<line x1="1950.4" y1="2294.5" x2="1950.4" y2="2529.4" stroke="#1F77B4" stroke-width="4.4" stroke-linecap="butt"/>
<line x1="1939.6" y1="2294.5" x2="1961.2" y2="2294.5" stroke="#1F77B4" stroke-width="4.4" stroke-linecap="butt"/>
<line x1="1939.6" y1="2529.4" x2="1961.2" y2="2529.4" stroke="#1F77B4" stroke-width="4.4" stroke-linecap="butt"/>
<circle cx="1950.4" cy="2411.9" r="13.8" fill="#1F77B4"/>
<line x1="2024.8" y1="2265.1" x2="2024.8" y2="2558.7" stroke="#1F77B4" stroke-width="4.4" stroke-linecap="butt"/>
<line x1="2014.0" y1="2265.1" x2="2035.6" y2="2265.1" stroke="#1F77B4" stroke-width="4.4" stroke-linecap="butt"/>
<line x1="2014.0" y1="2558.7" x2="2035.6" y2="2558.7" stroke="#1F77B4" stroke-width="4.4" stroke-linecap="butt"/>
<circle cx="2024.8" cy="2411.9" r="13.8" fill="#1F77B4"/>
<line x1="2099.2" y1="2323.9" x2="2099.2" y2="2500.0" stroke="#1F77B4" stroke-width="4.4" stroke-linecap="butt"/>
<line x1="2088.4" y1="2323.9" x2="2110.0" y2="2323.9" stroke="#1F77B4" stroke-width="4.4" stroke-linecap="butt"/>
<line x1="2088.4" y1="2500.0" x2="2110.0" y2="2500.0" stroke="#1F77B4" stroke-width="4.4" stroke-linecap="butt"/>
<circle cx="2099.2" cy="2411.9" r="13.8" fill="#1F77B4"/>
<rect x="1577.9" y="2147.7" width="596.1" height="587.2" fill="none" stroke="#000" stroke-width="3"/>
<rect x="2348.6" y="2145.2" width="606.3" height="597.3" fill="url(#gA)"/>
<line x1="2424.2" y1="2145.2" x2="2424.2" y2="2160.0" stroke="#000" stroke-width="2.6" stroke-linecap="butt"/>
<line x1="2424.2" y1="2742.5" x2="2424.2" y2="2727.7" stroke="#000" stroke-width="2.6" stroke-linecap="butt"/>
<text x="2424.2" y="2782.9" font-size="36.8" text-anchor="middle" fill="#000" textLength="56.6" lengthAdjust="spacingAndGlyphs">100</text>
<line x1="2575.8" y1="2145.2" x2="2575.8" y2="2160.0" stroke="#000" stroke-width="2.6" stroke-linecap="butt"/>
<line x1="2575.8" y1="2742.5" x2="2575.8" y2="2727.7" stroke="#000" stroke-width="2.6" stroke-linecap="butt"/>
<text x="2575.8" y="2782.9" font-size="36.8" text-anchor="middle" fill="#000" textLength="56.6" lengthAdjust="spacingAndGlyphs">150</text>
<line x1="2727.5" y1="2145.2" x2="2727.5" y2="2160.0" stroke="#000" stroke-width="2.6" stroke-linecap="butt"/>
<line x1="2727.5" y1="2742.5" x2="2727.5" y2="2727.7" stroke="#000" stroke-width="2.6" stroke-linecap="butt"/>
<text x="2727.5" y="2782.9" font-size="36.8" text-anchor="middle" fill="#000" textLength="56.6" lengthAdjust="spacingAndGlyphs">200</text>
<line x1="2879.1" y1="2145.2" x2="2879.1" y2="2160.0" stroke="#000" stroke-width="2.6" stroke-linecap="butt"/>
<line x1="2879.1" y1="2742.5" x2="2879.1" y2="2727.7" stroke="#000" stroke-width="2.6" stroke-linecap="butt"/>
<text x="2879.1" y="2782.9" font-size="36.8" text-anchor="middle" fill="#000" textLength="56.6" lengthAdjust="spacingAndGlyphs">250</text>
<line x1="2348.6" y1="2742.5" x2="2363.4" y2="2742.5" stroke="#000" stroke-width="2.6" stroke-linecap="butt"/>
<text x="2331.0" y="2754.9" font-size="36.8" text-anchor="end" fill="#2A7AB0" textLength="48.2" lengthAdjust="spacingAndGlyphs">2.0</text>
<line x1="2348.6" y1="2637.7" x2="2363.4" y2="2637.7" stroke="#000" stroke-width="2.6" stroke-linecap="butt"/>
<text x="2331.0" y="2650.1" font-size="36.8" text-anchor="end" fill="#2A7AB0" textLength="48.2" lengthAdjust="spacingAndGlyphs">2.5</text>
<line x1="2348.6" y1="2532.9" x2="2363.4" y2="2532.9" stroke="#000" stroke-width="2.6" stroke-linecap="butt"/>
<text x="2331.0" y="2545.3" font-size="36.8" text-anchor="end" fill="#2A7AB0" textLength="48.2" lengthAdjust="spacingAndGlyphs">3.0</text>
<line x1="2348.6" y1="2428.1" x2="2363.4" y2="2428.1" stroke="#000" stroke-width="2.6" stroke-linecap="butt"/>
<text x="2331.0" y="2440.5" font-size="36.8" text-anchor="end" fill="#2A7AB0" textLength="48.2" lengthAdjust="spacingAndGlyphs">3.5</text>
<line x1="2348.6" y1="2323.3" x2="2363.4" y2="2323.3" stroke="#000" stroke-width="2.6" stroke-linecap="butt"/>
<text x="2331.0" y="2335.7" font-size="36.8" text-anchor="end" fill="#2A7AB0" textLength="48.2" lengthAdjust="spacingAndGlyphs">4.0</text>
<line x1="2348.6" y1="2218.5" x2="2363.4" y2="2218.5" stroke="#000" stroke-width="2.6" stroke-linecap="butt"/>
<text x="2331.0" y="2230.9" font-size="36.8" text-anchor="end" fill="#2A7AB0" textLength="48.2" lengthAdjust="spacingAndGlyphs">4.5</text>
<line x1="2954.9" y1="2714.5" x2="2940.1" y2="2714.5" stroke="#000" stroke-width="2.6" stroke-linecap="butt"/>
<text x="2970.0" y="2726.9" font-size="36.8" text-anchor="start" fill="#CB2C2E" textLength="37.7" lengthAdjust="spacingAndGlyphs">20</text>
<line x1="2954.9" y1="2600.6" x2="2940.1" y2="2600.6" stroke="#000" stroke-width="2.6" stroke-linecap="butt"/>
<text x="2970.0" y="2613.0" font-size="36.8" text-anchor="start" fill="#CB2C2E" textLength="37.7" lengthAdjust="spacingAndGlyphs">40</text>
<line x1="2954.9" y1="2486.7" x2="2940.1" y2="2486.7" stroke="#000" stroke-width="2.6" stroke-linecap="butt"/>
<text x="2970.0" y="2499.1" font-size="36.8" text-anchor="start" fill="#CB2C2E" textLength="37.7" lengthAdjust="spacingAndGlyphs">60</text>
<line x1="2954.9" y1="2372.8" x2="2940.1" y2="2372.8" stroke="#000" stroke-width="2.6" stroke-linecap="butt"/>
<text x="2970.0" y="2385.2" font-size="36.8" text-anchor="start" fill="#CB2C2E" textLength="37.7" lengthAdjust="spacingAndGlyphs">80</text>
<line x1="2954.9" y1="2258.9" x2="2940.1" y2="2258.9" stroke="#000" stroke-width="2.6" stroke-linecap="butt"/>
<text x="2970.0" y="2271.3" font-size="36.8" text-anchor="start" fill="#CB2C2E" textLength="56.6" lengthAdjust="spacingAndGlyphs">100</text>
<line x1="2954.9" y1="2145.0" x2="2940.1" y2="2145.0" stroke="#000" stroke-width="2.6" stroke-linecap="butt"/>
<text x="2970.0" y="2157.4" font-size="36.8" text-anchor="start" fill="#CB2C2E" textLength="56.6" lengthAdjust="spacingAndGlyphs">120</text>
<text x="2649.8" y="2841.7" font-size="44.4" text-anchor="middle" fill="#000" textLength="305.3" lengthAdjust="spacingAndGlyphs">Potential (mV)</text>
<text x="2252.8" y="2452.8" font-size="43.0" text-anchor="middle" fill="#2A7AB0" textLength="493.9" lengthAdjust="spacingAndGlyphs" transform="rotate(-90 2252.8 2452.8)">Radius of curvature (nm)</text>
<text x="3076.5" y="2443.8" font-size="43.4" text-anchor="middle" fill="#CB2C2E" textLength="272.1" lengthAdjust="spacingAndGlyphs" transform="rotate(-90 3076.5 2443.8)">Contact angle</text>
<text x="2651.2" y="2117.7" font-size="43.4" text-anchor="middle" fill="#000" textLength="24.8" lengthAdjust="spacingAndGlyphs">b</text>
<text x="2392.8" y="2197.3" font-size="38.1" text-anchor="start" fill="#000" textLength="102.6" lengthAdjust="spacingAndGlyphs">Leaky</text>
<text x="2392.8" y="2237.6" font-size="38.1" text-anchor="start" fill="#000" textLength="113.1" lengthAdjust="spacingAndGlyphs">regime</text>
<text x="2788.5" y="2197.3" font-size="38.1" text-anchor="start" fill="#000" textLength="95.6" lengthAdjust="spacingAndGlyphs">Tight</text>
<text x="2787.0" y="2237.6" font-size="38.1" text-anchor="start" fill="#000" textLength="113.1" lengthAdjust="spacingAndGlyphs">regime</text>
<line x1="2424.2" y1="2260.4" x2="2424.2" y2="2470.0" stroke="#1F77B4" stroke-width="4.4" stroke-linecap="butt"/>
<line x1="2413.2" y1="2260.4" x2="2435.2" y2="2260.4" stroke="#1F77B4" stroke-width="4.4" stroke-linecap="butt"/>
<line x1="2413.2" y1="2470.0" x2="2435.2" y2="2470.0" stroke="#1F77B4" stroke-width="4.4" stroke-linecap="butt"/>
<line x1="2500.0" y1="2449.1" x2="2500.0" y2="2532.9" stroke="#1F77B4" stroke-width="4.4" stroke-linecap="butt"/>
<line x1="2489.0" y1="2449.1" x2="2511.0" y2="2449.1" stroke="#1F77B4" stroke-width="4.4" stroke-linecap="butt"/>
<line x1="2489.0" y1="2532.9" x2="2511.0" y2="2532.9" stroke="#1F77B4" stroke-width="4.4" stroke-linecap="butt"/>
<line x1="2424.2" y1="2688.9" x2="2424.2" y2="2720.2" stroke="#EC8384" stroke-width="4" stroke-linecap="butt"/>
<line x1="2413.2" y1="2688.9" x2="2435.2" y2="2688.9" stroke="#EC8384" stroke-width="4" stroke-linecap="butt"/>
<line x1="2413.2" y1="2720.2" x2="2435.2" y2="2720.2" stroke="#EC8384" stroke-width="4" stroke-linecap="butt"/>
<line x1="2500.0" y1="2617.1" x2="2500.0" y2="2662.7" stroke="#EC8384" stroke-width="4" stroke-linecap="butt"/>
<line x1="2489.0" y1="2617.1" x2="2511.0" y2="2617.1" stroke="#EC8384" stroke-width="4" stroke-linecap="butt"/>
<line x1="2489.0" y1="2662.7" x2="2511.0" y2="2662.7" stroke="#EC8384" stroke-width="4" stroke-linecap="butt"/>
<rect x="2410.2" y="2351.2" width="28" height="28" fill="#1F77B4"/>
<rect x="2486.0" y="2477.0" width="28" height="28" fill="#1F77B4"/>
<rect x="2561.8" y="2611.1" width="28" height="28" fill="#1F77B4"/>
<rect x="2637.7" y="2609.0" width="28" height="28" fill="#1F77B4"/>
<rect x="2713.5" y="2598.5" width="28" height="28" fill="#1F77B4"/>
<rect x="2789.3" y="2575.5" width="28" height="28" fill="#1F77B4"/>
<rect x="2865.1" y="2546.1" width="28" height="28" fill="#1F77B4"/>
<rect x="2410.2" y="2689.1" width="28" height="28" fill="#D62728"/>
<rect x="2486.0" y="2626.5" width="28" height="28" fill="#D62728"/>
<rect x="2561.8" y="2484.1" width="28" height="28" fill="#D62728"/>
<rect x="2637.7" y="2398.7" width="28" height="28" fill="#D62728"/>
<rect x="2713.5" y="2341.7" width="28" height="28" fill="#D62728"/>
<rect x="2789.3" y="2301.8" width="28" height="28" fill="#D62728"/>
<rect x="2865.1" y="2262.0" width="28" height="28" fill="#D62728"/>
<rect x="2348.6" y="2145.2" width="606.3" height="597.3" fill="none" stroke="#000" stroke-width="3"/>
<line x1="361.7" y1="2951.4" x2="361.7" y2="2967.4" stroke="#000" stroke-width="3" stroke-linecap="butt"/>
<line x1="361.7" y1="3791.6" x2="361.7" y2="3775.6" stroke="#000" stroke-width="3" stroke-linecap="butt"/>
<text x="361.7" y="3836.7" font-size="39.8" text-anchor="middle" fill="#000" textLength="40.9" lengthAdjust="spacingAndGlyphs">20</text>
<line x1="547.1" y1="2951.4" x2="547.1" y2="2967.4" stroke="#000" stroke-width="3" stroke-linecap="butt"/>
<line x1="547.1" y1="3791.6" x2="547.1" y2="3775.6" stroke="#000" stroke-width="3" stroke-linecap="butt"/>
<text x="547.1" y="3836.7" font-size="39.8" text-anchor="middle" fill="#000" textLength="40.9" lengthAdjust="spacingAndGlyphs">40</text>
<line x1="732.5" y1="2951.4" x2="732.5" y2="2967.4" stroke="#000" stroke-width="3" stroke-linecap="butt"/>
<line x1="732.5" y1="3791.6" x2="732.5" y2="3775.6" stroke="#000" stroke-width="3" stroke-linecap="butt"/>
<text x="732.5" y="3836.7" font-size="39.8" text-anchor="middle" fill="#000" textLength="40.9" lengthAdjust="spacingAndGlyphs">60</text>
<line x1="917.9" y1="2951.4" x2="917.9" y2="2967.4" stroke="#000" stroke-width="3" stroke-linecap="butt"/>
<line x1="917.9" y1="3791.6" x2="917.9" y2="3775.6" stroke="#000" stroke-width="3" stroke-linecap="butt"/>
<text x="917.9" y="3836.7" font-size="39.8" text-anchor="middle" fill="#000" textLength="40.9" lengthAdjust="spacingAndGlyphs">80</text>
<line x1="1103.3" y1="2951.4" x2="1103.3" y2="2967.4" stroke="#000" stroke-width="3" stroke-linecap="butt"/>
<line x1="1103.3" y1="3791.6" x2="1103.3" y2="3775.6" stroke="#000" stroke-width="3" stroke-linecap="butt"/>
<text x="1103.3" y="3836.7" font-size="39.8" text-anchor="middle" fill="#000" textLength="61.3" lengthAdjust="spacingAndGlyphs">100</text>
<line x1="324.0" y1="3663.6" x2="340.0" y2="3663.6" stroke="#000" stroke-width="3" stroke-linecap="butt"/>
<line x1="1141.7" y1="3663.6" x2="1125.7" y2="3663.6" stroke="#000" stroke-width="3" stroke-linecap="butt"/>
<text x="304.5" y="3677.1" font-size="39.8" text-anchor="end" fill="#000" textLength="52.2" lengthAdjust="spacingAndGlyphs">0.5</text>
<line x1="324.0" y1="3515.8" x2="340.0" y2="3515.8" stroke="#000" stroke-width="3" stroke-linecap="butt"/>
<line x1="1141.7" y1="3515.8" x2="1125.7" y2="3515.8" stroke="#000" stroke-width="3" stroke-linecap="butt"/>
<text x="304.5" y="3529.3" font-size="39.8" text-anchor="end" fill="#000" textLength="52.2" lengthAdjust="spacingAndGlyphs">1.0</text>
<line x1="324.0" y1="3368.1" x2="340.0" y2="3368.1" stroke="#000" stroke-width="3" stroke-linecap="butt"/>
<line x1="1141.7" y1="3368.1" x2="1125.7" y2="3368.1" stroke="#000" stroke-width="3" stroke-linecap="butt"/>
<text x="304.5" y="3381.6" font-size="39.8" text-anchor="end" fill="#000" textLength="52.2" lengthAdjust="spacingAndGlyphs">1.5</text>
<line x1="324.0" y1="3220.3" x2="340.0" y2="3220.3" stroke="#000" stroke-width="3" stroke-linecap="butt"/>
<line x1="1141.7" y1="3220.3" x2="1125.7" y2="3220.3" stroke="#000" stroke-width="3" stroke-linecap="butt"/>
<text x="304.5" y="3233.8" font-size="39.8" text-anchor="end" fill="#000" textLength="52.2" lengthAdjust="spacingAndGlyphs">2.0</text>
<line x1="324.0" y1="3072.6" x2="340.0" y2="3072.6" stroke="#000" stroke-width="3" stroke-linecap="butt"/>
<line x1="1141.7" y1="3072.6" x2="1125.7" y2="3072.6" stroke="#000" stroke-width="3" stroke-linecap="butt"/>
<text x="304.5" y="3086.1" font-size="39.8" text-anchor="end" fill="#000" textLength="52.2" lengthAdjust="spacingAndGlyphs">2.5</text>
<text x="731.9" y="3899.5" font-size="49.3" text-anchor="middle" fill="#000" textLength="322.1" lengthAdjust="spacingAndGlyphs">Contact Angle</text>
<text x="220.0" y="3369.5" font-size="49.3" text-anchor="middle" fill="#000" textLength="297.1" lengthAdjust="spacingAndGlyphs" transform="rotate(-90 220.0 3369.5)">Current (nA)</text>
<line x1="380.2" y1="3309.6" x2="380.2" y2="3486.3" stroke="#B0C4DE" stroke-width="4.2" stroke-linecap="butt"/>
<line x1="366.9" y1="3309.6" x2="393.5" y2="3309.6" stroke="#B0C4DE" stroke-width="4" stroke-linecap="butt"/>
<line x1="366.9" y1="3486.3" x2="393.5" y2="3486.3" stroke="#B0C4DE" stroke-width="4" stroke-linecap="butt"/>
<line x1="482.2" y1="3191.7" x2="482.2" y2="3427.2" stroke="#B0C4DE" stroke-width="4.2" stroke-linecap="butt"/>
<line x1="468.9" y1="3191.7" x2="495.5" y2="3191.7" stroke="#B0C4DE" stroke-width="4" stroke-linecap="butt"/>
<line x1="468.9" y1="3427.2" x2="495.5" y2="3427.2" stroke="#B0C4DE" stroke-width="4" stroke-linecap="butt"/>
<line x1="714.0" y1="3176.0" x2="714.0" y2="3412.4" stroke="#B0C4DE" stroke-width="4.2" stroke-linecap="butt"/>
<line x1="700.7" y1="3176.0" x2="727.3" y2="3176.0" stroke="#B0C4DE" stroke-width="4" stroke-linecap="butt"/>
<line x1="700.7" y1="3412.4" x2="727.3" y2="3412.4" stroke="#B0C4DE" stroke-width="4" stroke-linecap="butt"/>
<line x1="853.0" y1="3101.6" x2="853.0" y2="3397.7" stroke="#B0C4DE" stroke-width="4.2" stroke-linecap="butt"/>
<line x1="839.7" y1="3101.6" x2="866.3" y2="3101.6" stroke="#B0C4DE" stroke-width="4" stroke-linecap="butt"/>
<line x1="839.7" y1="3397.7" x2="866.3" y2="3397.7" stroke="#B0C4DE" stroke-width="4" stroke-linecap="butt"/>
<line x1="945.7" y1="3068.2" x2="945.7" y2="3306.0" stroke="#B0C4DE" stroke-width="4.2" stroke-linecap="butt"/>
<line x1="932.4" y1="3068.2" x2="959.0" y2="3068.2" stroke="#B0C4DE" stroke-width="4" stroke-linecap="butt"/>
<line x1="932.4" y1="3306.0" x2="959.0" y2="3306.0" stroke="#B0C4DE" stroke-width="4" stroke-linecap="butt"/>
<line x1="1010.6" y1="3036.3" x2="1010.6" y2="3332.3" stroke="#B0C4DE" stroke-width="4.2" stroke-linecap="butt"/>
<line x1="997.3" y1="3036.3" x2="1023.9" y2="3036.3" stroke="#B0C4DE" stroke-width="4" stroke-linecap="butt"/>
<line x1="997.3" y1="3332.3" x2="1023.9" y2="3332.3" stroke="#B0C4DE" stroke-width="4" stroke-linecap="butt"/>
<line x1="1075.5" y1="3090.0" x2="1075.5" y2="3267.6" stroke="#B0C4DE" stroke-width="4.2" stroke-linecap="butt"/>
<line x1="1062.2" y1="3090.0" x2="1088.8" y2="3090.0" stroke="#B0C4DE" stroke-width="4" stroke-linecap="butt"/>
<line x1="1062.2" y1="3267.6" x2="1088.8" y2="3267.6" stroke="#B0C4DE" stroke-width="4" stroke-linecap="butt"/>
<line x1="380.2" y1="3455.0" x2="380.2" y2="3751.5" stroke="#EC8384" stroke-width="4.2" stroke-linecap="butt"/>
<line x1="366.9" y1="3455.0" x2="393.5" y2="3455.0" stroke="#EC8384" stroke-width="4" stroke-linecap="butt"/>
<line x1="366.9" y1="3751.5" x2="393.5" y2="3751.5" stroke="#EC8384" stroke-width="4" stroke-linecap="butt"/>
<line x1="482.2" y1="3424.2" x2="482.2" y2="3630.8" stroke="#EC8384" stroke-width="4.2" stroke-linecap="butt"/>
<line x1="468.9" y1="3424.2" x2="495.5" y2="3424.2" stroke="#EC8384" stroke-width="4" stroke-linecap="butt"/>
<line x1="468.9" y1="3630.8" x2="495.5" y2="3630.8" stroke="#EC8384" stroke-width="4" stroke-linecap="butt"/>
<line x1="714.0" y1="3196.4" x2="714.0" y2="3421.0" stroke="#EC8384" stroke-width="4.2" stroke-linecap="butt"/>
<line x1="700.7" y1="3196.4" x2="727.3" y2="3196.4" stroke="#EC8384" stroke-width="4" stroke-linecap="butt"/>
<line x1="700.7" y1="3421.0" x2="727.3" y2="3421.0" stroke="#EC8384" stroke-width="4" stroke-linecap="butt"/>
<line x1="853.0" y1="3191.4" x2="853.0" y2="3373.7" stroke="#EC8384" stroke-width="4.2" stroke-linecap="butt"/>
<line x1="839.7" y1="3191.4" x2="866.3" y2="3191.4" stroke="#EC8384" stroke-width="4" stroke-linecap="butt"/>
<line x1="839.7" y1="3373.7" x2="866.3" y2="3373.7" stroke="#EC8384" stroke-width="4" stroke-linecap="butt"/>
<line x1="945.7" y1="3066.4" x2="945.7" y2="3255.5" stroke="#EC8384" stroke-width="4.2" stroke-linecap="butt"/>
<line x1="932.4" y1="3066.4" x2="959.0" y2="3066.4" stroke="#EC8384" stroke-width="4" stroke-linecap="butt"/>
<line x1="932.4" y1="3255.5" x2="959.0" y2="3255.5" stroke="#EC8384" stroke-width="4" stroke-linecap="butt"/>
<line x1="1010.6" y1="2989.3" x2="1010.6" y2="3249.3" stroke="#EC8384" stroke-width="4.2" stroke-linecap="butt"/>
<line x1="997.3" y1="2989.3" x2="1023.9" y2="2989.3" stroke="#EC8384" stroke-width="4" stroke-linecap="butt"/>
<line x1="997.3" y1="3249.3" x2="1023.9" y2="3249.3" stroke="#EC8384" stroke-width="4" stroke-linecap="butt"/>
<line x1="1075.5" y1="3072.6" x2="1075.5" y2="3273.2" stroke="#EC8384" stroke-width="4.2" stroke-linecap="butt"/>
<line x1="1062.2" y1="3072.6" x2="1088.8" y2="3072.6" stroke="#EC8384" stroke-width="4" stroke-linecap="butt"/>
<line x1="1062.2" y1="3273.2" x2="1088.8" y2="3273.2" stroke="#EC8384" stroke-width="4" stroke-linecap="butt"/>
<circle cx="380.2" cy="3397.7" r="15.4" fill="#1F77B4"/>
<circle cx="482.2" cy="3309.0" r="15.4" fill="#1F77B4"/>
<circle cx="714.0" cy="3295.1" r="15.4" fill="#1F77B4"/>
<circle cx="853.0" cy="3249.9" r="15.4" fill="#1F77B4"/>
<circle cx="945.7" cy="3187.8" r="15.4" fill="#1F77B4"/>
<circle cx="1010.6" cy="3185.2" r="15.4" fill="#1F77B4"/>
<circle cx="1075.5" cy="3177.8" r="15.4" fill="#1F77B4"/>
<polyline fill="none" stroke="#D62728" stroke-width="5.4" points="358.9,3663.1 378.1,3645.3 397.2,3627.6 416.4,3610.1 435.6,3592.7 454.7,3575.6 473.9,3558.5 493.0,3541.7 512.2,3524.9 531.3,3508.4 550.5,3492.0 569.7,3475.8 588.8,3459.7 608.0,3443.8 627.1,3428.0 646.3,3412.4 665.4,3396.9 684.6,3381.7 703.8,3366.5 722.9,3351.6 742.1,3336.7 761.2,3322.1 780.4,3307.6 799.6,3293.3 818.7,3279.1 837.9,3265.1 857.0,3251.2 876.2,3237.5 895.3,3223.9 914.5,3210.6 933.7,3197.3 952.8,3184.3 972.0,3171.3 991.1,3158.6 1010.3,3146.0 1029.4,3133.6 1048.6,3121.3 1067.8,3109.2 1086.9,3097.2 1106.1,3085.4"/>
<path d="M367.2 3590.6L393.2 3616.6M367.2 3616.6L393.2 3590.6" stroke="#D62728" stroke-width="4.4" fill="none"/>
<path d="M469.2 3514.4L495.2 3540.4M469.2 3540.4L495.2 3514.4" stroke="#D62728" stroke-width="4.4" fill="none"/>
<path d="M701.0 3301.6L727.0 3327.6M701.0 3327.6L727.0 3301.6" stroke="#D62728" stroke-width="4.4" fill="none"/>
<path d="M840.0 3270.0L866.0 3296.0M840.0 3296.0L866.0 3270.0" stroke="#D62728" stroke-width="4.4" fill="none"/>
<path d="M932.7 3148.2L958.7 3174.2M932.7 3174.2L958.7 3148.2" stroke="#D62728" stroke-width="4.4" fill="none"/>
<path d="M997.6 3107.5L1023.6 3133.5M997.6 3133.5L1023.6 3107.5" stroke="#D62728" stroke-width="4.4" fill="none"/>
<path d="M1062.5 3160.1L1088.5 3186.1M1062.5 3186.1L1088.5 3160.1" stroke="#D62728" stroke-width="4.4" fill="none"/>
<text x="361.0" y="3278.7" font-size="37.0" text-anchor="start" fill="#000" textLength="56.9" lengthAdjust="spacingAndGlyphs">100</text>
<text x="453.3" y="3161.2" font-size="37.0" text-anchor="start" fill="#000" textLength="56.9" lengthAdjust="spacingAndGlyphs">125</text>
<text x="686.5" y="3474.0" font-size="37.0" text-anchor="start" fill="#000" textLength="56.9" lengthAdjust="spacingAndGlyphs">150</text>
<text x="824.0" y="3445.7" font-size="37.0" text-anchor="start" fill="#000" textLength="56.9" lengthAdjust="spacingAndGlyphs">175</text>
<text x="919.0" y="3358.1" font-size="37.0" text-anchor="start" fill="#000" textLength="56.9" lengthAdjust="spacingAndGlyphs">200</text>
<text x="993.0" y="3390.3" font-size="37.0" text-anchor="start" fill="#000" textLength="56.9" lengthAdjust="spacingAndGlyphs">225</text>
<text x="1057.5" y="3336.7" font-size="37.0" text-anchor="start" fill="#000" textLength="56.9" lengthAdjust="spacingAndGlyphs">250</text>
<rect x="568" y="3593" width="563.5" height="187.5" rx="7" fill="#8a8a8a"/>
<rect x="559.3" y="3583.6" width="562.2" height="187.7" rx="7" fill="#fff" stroke="#d0d0d0" stroke-width="3"/>
<line x1="572.3" y1="3616.1" x2="638.7" y2="3616.1" stroke="#D62728" stroke-width="4.9" stroke-linecap="butt"/>
<text x="667.6" y="3630.9" font-size="39.4" text-anchor="start" fill="#000" textLength="194.7" lengthAdjust="spacingAndGlyphs">Equation 2</text>
<line x1="606.3" y1="3654.9" x2="606.3" y2="3694.5" stroke="#B0C4DE" stroke-width="4.2" stroke-linecap="butt"/>
<line x1="593.0" y1="3654.9" x2="619.6" y2="3654.9" stroke="#B0C4DE" stroke-width="4" stroke-linecap="butt"/>
<line x1="593.0" y1="3694.5" x2="619.6" y2="3694.5" stroke="#B0C4DE" stroke-width="4" stroke-linecap="butt"/>
<circle cx="606.3" cy="3675.2" r="15.4" fill="#1F77B4"/>
<text x="667.6" y="3687.4" font-size="39.4" text-anchor="start" fill="#000" textLength="432.6" lengthAdjust="spacingAndGlyphs">Steady state simulations</text>
<line x1="606.3" y1="3713.3" x2="606.3" y2="3753.9" stroke="#EC8384" stroke-width="4.2" stroke-linecap="butt"/>
<line x1="593.0" y1="3713.3" x2="619.6" y2="3713.3" stroke="#EC8384" stroke-width="4" stroke-linecap="butt"/>
<line x1="593.0" y1="3753.9" x2="619.6" y2="3753.9" stroke="#EC8384" stroke-width="4" stroke-linecap="butt"/>
<path d="M593.3 3721.4L619.3 3747.4M593.3 3747.4L619.3 3721.4" stroke="#D62728" stroke-width="4.4" fill="none"/>
<text x="667.6" y="3747.3" font-size="39.4" text-anchor="start" fill="#000" textLength="411.0" lengthAdjust="spacingAndGlyphs">Dissolution simulations</text>
<rect x="324.0" y="2951.4" width="817.7" height="840.2" fill="none" stroke="#000" stroke-width="3.4"/></svg>
<svg width="3181" height="4496" viewBox="0 0 3181 4496" style="left:0;top:0"><path d="M549.3 1481.3L575.5 1465.0L556.6 1436.0L624.3 1471.0L627.0 1545.0L609.4 1512.4L580.1 1530.0Z" fill="#D1D3D4" stroke="#231F20" stroke-width="5" stroke-linejoin="miter" stroke-miterlimit="6"/>
<path d="M861.9 1447.4L889.8 1467.7L908.0 1440.6L901.5 1510.5L831.6 1539.5L849.2 1513.8L828.3 1492.1Z" fill="#D1D3D4" stroke="#231F20" stroke-width="5" stroke-linejoin="miter" stroke-miterlimit="6"/>
<path d="M921.4 1705.2L979.1 1719.8L969.0 1755.2L1003.5 1758.4L930.4 1777.5L881.6 1728.0L912.1 1736.9Z" fill="#D1D3D4" stroke="#231F20" stroke-width="5" stroke-linejoin="miter" stroke-miterlimit="6"/>
<path d="M762.9 1869.0L762.9 1923.8L729.2 1923.8L729.2 1960.4L693.4 1897.4L729.2 1834.4L729.2 1869.0Z" fill="#D1D3D4" stroke="#231F20" stroke-width="5" stroke-linejoin="miter" stroke-miterlimit="6"/>
<path d="M487.4 1781.6L544.3 1766.2L536.1 1732.0L568.7 1726.7L497.5 1708.4L446.7 1759.2L477.2 1751.1Z" fill="#D1D3D4" stroke="#231F20" stroke-width="5" stroke-linejoin="miter" stroke-miterlimit="6"/>
<circle cx="733" cy="1405.5" r="116" fill="#D1D3D4" stroke="#231F20" stroke-width="5"/>
<circle cx="996.9" cy="1593.5" r="116" fill="#F9A78F" stroke="#231F20" stroke-width="5"/>
<circle cx="892.8" cy="1891.1" r="116" fill="#F9A78F" stroke="#231F20" stroke-width="5"/>
<circle cx="563.6" cy="1891.1" r="116" fill="#8DD7F7" stroke="#231F20" stroke-width="5"/>
<circle cx="467.2" cy="1590" r="116" fill="#8DD7F7" stroke="#231F20" stroke-width="5"/>
<path d="M139.0 1278.5L155.3 1276.0L155.3 1316.0L178.0 1303.5L194.0 1303.5L171.5 1323.5L192.5 1354.5L174.5 1354.5L160.5 1333.0L155.3 1337.5L155.3 1354.6L139.0 1354.6Z" fill="#8DD7F7" stroke="#231F20" stroke-width="5.6" stroke-linejoin="miter" stroke-miterlimit="2"/>
<path d="M195.6 1352.8L209.5 1275.5L238.8 1327.2L268.0 1275.5L283.4 1352.8L267.2 1352.8L261.7 1316.9L238.8 1356.8L216.3 1316.9L211.0 1352.8Z" fill="#8DD7F7" stroke="#231F20" stroke-width="5.6" stroke-linejoin="miter" stroke-miterlimit="2"/>
<path d="M358.1 1279.2A42.7 42.7 0 1 0 358.1 1350.8L352.7 1336.3A27.8 27.8 0 1 1 352.7 1293.7Z" fill="#8DD7F7" stroke="#231F20" stroke-width="5.6" stroke-linejoin="miter"/>
<path d="M365.8 1322.7L395.1 1322.7L395.1 1338.2L365.8 1338.2Z" fill="#D1D3D4" stroke="#231F20" stroke-width="5.6" stroke-linejoin="miter" stroke-miterlimit="6"/>
<path d="M401.9 1354.6L418.6 1274.8L448.4 1325.8L478.7 1274.8L495.0 1354.6L478.0 1354.6L472.4 1318.4L448.4 1357.5L424.8 1318.4L418.2 1354.6Z" fill="#F9A78F" stroke="#231F20" stroke-width="5.6" stroke-linejoin="miter" stroke-miterlimit="2"/>
<path d="M507.7 1277.9L534.5 1277.9A37.15 37.15 0 0 1 534.5 1352.2L507.7 1352.2Z M523.1 1294.7L523.1 1337.6L534.2 1337.6A21.45 21.45 0 0 0 534.2 1294.7Z" fill="#F9A78F" fill-rule="evenodd" stroke="#231F20" stroke-width="5.6" stroke-linejoin="miter"/></svg>
<div class="t" style="left:532.0px;top:1325.8px;font-size:47.5px;line-height:47.5px;color:#231F20;font-family:'Liberation Sans',sans-serif;width:400.0px;text-align:center;">Input:</div>
<div class="t" style="left:532.0px;top:1377.6px;font-size:47.5px;line-height:47.5px;color:#231F20;font-family:'Liberation Sans',sans-serif;width:400.0px;text-align:center;">V(<b>r</b>),<b>r</b>, <b>v</b></div>
<div class="t" style="left:532.0px;top:1429.3px;font-size:47.5px;line-height:47.5px;color:#231F20;font-family:'Liberation Sans',sans-serif;width:400.0px;text-align:center;">types</div>
<div class="t" style="left:266.6px;top:1508.4px;font-size:47.5px;line-height:47.5px;color:#231F20;font-family:'Liberation Sans',sans-serif;width:400.0px;text-align:center;">Update</div>
<div class="t" style="left:266.6px;top:1560.4px;font-size:47.5px;line-height:47.5px;color:#231F20;font-family:'Liberation Sans',sans-serif;width:400.0px;text-align:center;">atom</div>
<div class="t" style="left:266.6px;top:1611.3px;font-size:47.5px;line-height:47.5px;color:#231F20;font-family:'Liberation Sans',sans-serif;width:400.0px;text-align:center;">types</div>
<div class="t" style="left:796.6px;top:1541.2px;font-size:47.5px;line-height:47.5px;color:#231F20;font-family:'Liberation Sans',sans-serif;width:400.0px;text-align:center;">Compute</div>
<div class="t" style="left:796.6px;top:1594.2px;font-size:47.5px;line-height:47.5px;color:#231F20;font-family:'Liberation Sans',sans-serif;width:400.0px;text-align:center;">forces</div>
<div class="t" style="left:364.6px;top:1841.0px;font-size:47.5px;line-height:47.5px;color:#231F20;font-family:'Liberation Sans',sans-serif;width:400.0px;text-align:center;">Propose</div>
<div class="t" style="left:364.6px;top:1893.8px;font-size:47.5px;line-height:47.5px;color:#231F20;font-family:'Liberation Sans',sans-serif;width:400.0px;text-align:center;">reactions</div>
<div class="t" style="left:692.8px;top:1824.5px;font-size:40.5px;line-height:40.5px;color:#231F20;font-family:'Liberation Sans',sans-serif;width:400.0px;text-align:center;">Update</div>
<div class="t" style="left:692.8px;top:1870.0px;font-size:40.5px;line-height:40.5px;color:#231F20;font-family:'Liberation Sans',sans-serif;width:400.0px;text-align:center;">coordinates</div>
<div class="t" style="left:692.8px;top:1914.7px;font-size:40.5px;line-height:40.5px;color:#231F20;font-family:'Liberation Sans',sans-serif;width:400.0px;text-align:center;">and forces</div>
<svg width="3181" height="4496" viewBox="0 0 3181 4496" style="left:0;top:0"><path d="M303.8 340.8L311.2 314.8L274.0 282.6L315.2 309.5L316.7 308.0L289.6 265.8L322.1 304.1L323.5 303.3L310.3 259.3L329.7 300.9L330.9 300.6L329.7 256.2L337.6 299.9L336.8 299.9L343.9 259.3L343.5 300.5L346.4 301.3L363.3 270.9L352.6 303.9L355.6 305.9L381.4 283.1L360.5 310.5L362.3 312.7L393.0 299.4L365.5 318.6L366.1 320.1L394.8 316.7L367.7 326.6L371.0 340.8Z" fill="#F2BD2B"/>
<clipPath id="sunc"><rect x="250" y="200" width="200" height="136.9"/></clipPath><circle cx="337.4" cy="330.4" r="32.6" fill="#F2BD2B" clip-path="url(#sunc)"/>
<path d="M244.3 281.3C244.7 276.6 253.4 268.1 259.8 261.9C266.3 255.6 274.0 248.7 283.1 243.8C292.2 238.8 302.9 235.0 314.1 232.2C325.3 229.4 338.7 227.4 350.3 227.0C362.0 226.6 373.6 227.2 384.0 229.6C394.3 231.9 404.4 236.5 412.4 241.2C420.4 245.9 428.6 255.2 431.8 258.0C435.0 260.8 431.8 258.0 431.8 258.0C431.8 258.0 435.0 253.0 431.8 258.0C428.6 263.1 415.6 283.2 412.4 288.3C409.2 293.3 412.4 288.3 412.4 288.3C412.4 288.3 415.9 292.2 412.4 288.3C409.0 284.3 399.9 270.6 391.7 264.5C383.5 258.4 373.6 254.1 363.3 251.6C352.9 249.1 340.4 248.6 329.7 249.5C318.9 250.3 308.1 252.9 298.6 256.7C289.1 260.5 279.7 266.6 272.8 272.2C265.9 277.8 262.0 288.8 257.2 290.3C252.5 291.9 243.9 286.0 244.3 281.3Z" fill="#5590CF"/>
<path d="M70.5 274.8C68.1 278.5 66.2 288.6 67.2 295.5C68.1 302.4 71.2 309.7 76.2 316.2C81.2 322.7 88.7 329.6 96.9 334.3C105.1 339.0 115.4 342.7 125.3 344.7C135.3 346.6 146.5 347.2 156.4 345.9C166.3 344.7 175.8 341.2 184.8 336.9C193.9 332.6 204.7 324.8 210.7 320.1C216.7 315.3 221.9 310.4 221.0 308.4C220.2 306.5 212.4 306.3 205.5 308.4C198.6 310.6 187.8 318.3 179.7 321.4C171.5 324.5 164.1 326.2 156.4 327.1C148.6 327.9 140.9 327.9 133.1 326.6C125.3 325.2 116.7 322.2 109.8 318.8C102.9 315.3 96.2 310.6 91.7 305.9C87.2 301.1 84.4 295.7 82.7 290.3C80.9 285.0 83.4 276.1 81.4 273.5C79.4 270.9 72.9 271.2 70.5 274.8Z" fill="#5590CF"/>
<path d="M70.5 271.7C68.1 271.6 70.5 271.7 70.5 271.7C70.5 271.7 68.3 275.1 70.5 271.7C72.8 268.4 77.8 257.3 84.0 251.6C90.1 245.8 97.3 240.6 107.2 237.3C117.2 234.1 131.4 232.2 143.4 232.2C155.5 232.2 167.6 233.4 179.7 237.3C191.7 241.2 204.7 248.7 215.9 255.4C227.1 262.1 237.4 270.7 246.9 277.4C256.4 284.1 264.1 290.1 272.8 295.5C281.4 300.9 290.0 305.6 298.6 309.7C307.2 313.8 315.9 317.4 324.5 320.1C333.1 322.8 341.7 324.5 350.3 326.0C359.0 327.5 369.8 327.9 376.2 329.1C382.6 330.3 386.5 332.6 388.6 333.3C390.7 334.0 388.6 333.3 388.6 333.3C388.6 333.3 390.7 331.3 388.6 333.3C386.5 335.3 382.6 342.3 376.2 345.2C369.8 348.0 359.0 349.3 350.3 350.3C341.7 351.4 333.1 351.9 324.5 351.6C315.9 351.4 307.2 350.6 298.6 348.8C290.0 347.0 281.4 344.0 272.8 340.8C264.1 337.5 255.5 334.1 246.9 329.1C238.3 324.2 228.8 316.6 221.0 311.0C213.3 305.4 207.2 300.7 200.3 295.5C193.4 290.3 186.6 284.7 179.7 280.0C172.8 275.3 165.9 270.6 159.0 267.1C152.1 263.5 145.2 260.4 138.3 258.8C131.4 257.2 124.1 256.6 117.6 257.2C111.1 257.8 104.9 259.8 99.5 262.4C94.1 265.0 90.1 271.2 85.3 272.8C80.4 274.3 73.0 271.9 70.5 271.7Z" fill="#5590CF"/>
<text x="108.5" y="194.1" font-size="55" font-family="'Liberation Serif',serif" fill="#0d0d0d" textLength="284.5" lengthAdjust="spacingAndGlyphs">INQUIMAE</text>
<text x="67.2" y="431.3" font-size="61.5" font-family="'Liberation Serif',serif" fill="#0d0d0d" textLength="366" lengthAdjust="spacing">CONICET</text>
<rect x="64.6" y="466.8" width="370.6" height="2.6" fill="#1a1a1a"/>
<text x="81.4" y="533.4" font-size="60.5" font-family="'Liberation Serif',serif" fill="#0d0d0d" textLength="335" lengthAdjust="spacing" xml:space="preserve">FCEN  -  UBA</text>
<path d="M2711.4 312.2L2914.7 202.2L3045.3 341.5L3045.3 354.3L3028.9 354.3L2913.7 229.6L2711.4 326.2Z" fill="#231F20"/>
<path d="M2711.4 340.6L2914.1 248.5L3025.7 354.3L2999.6 354.3L2914.1 269.7L2727.1 354.3L2711.4 354.3Z" fill="#231F20"/>
<path d="M2753.2 354.3L2914.7 291.0L2994.7 354.3L2952.2 354.3L2914.7 312.2L2798.9 354.3Z" fill="#231F20"/>
<path d="M2846.2 354.3L2914.7 333.4L2950.6 354.3Z" fill="#231F20"/>
<text x="2610" y="485.1" font-size="142.5" font-family="'Liberation Sans',sans-serif" font-weight="bold" fill="#231F20" stroke="#231F20" stroke-width="6.5" textLength="438" lengthAdjust="spacingAndGlyphs">EXACTAS</text>
<rect x="3065.8" y="463.3" width="33.3" height="21.8" fill="#231F20"/>
<text x="3098.8" y="459.5" font-size="44" font-family="'Liberation Sans',sans-serif" font-weight="bold" fill="#231F20" stroke="#231F20" stroke-width="1.5" textLength="72.5" lengthAdjust="spacingAndGlyphs" transform="rotate(-90 3098.8 459.5)">UBA</text></svg>
<svg width="3181" height="4496" viewBox="0 0 3181 4496" style="left:0;top:0;font-family:'Liberation Serif',serif"><text x="1687.1" y="3211.1" font-size="70" font-style="italic" fill="#000" textLength="98.9" lengthAdjust="spacingAndGlyphs">dW</text>
<text x="1712.8" y="3305.3" font-size="70" font-style="italic" fill="#000" textLength="56.2" lengthAdjust="spacingAndGlyphs">dt</text>
<line x1="1685.7" y1="3240.6" x2="1794.1" y2="3240.6" stroke="#000" stroke-width="3"/>
<line x1="1822.6" y1="3233.5" x2="1866.6" y2="3233.5" stroke="#000" stroke-width="2.7"/>
<line x1="1822.6" y1="3248.4" x2="1866.6" y2="3248.4" stroke="#000" stroke-width="2.7"/>
<line x1="1897.1" y1="3240.6" x2="1938.4" y2="3240.6" stroke="#000" stroke-width="2.7"/>
<text x="1947.9" y="3256.8" font-size="70" font-style="italic" fill="#000" textLength="30.5" lengthAdjust="spacingAndGlyphs">π</text>
<text x="1988.5" y="3256.8" font-size="70" font-style="italic" fill="#000" textLength="105.0" lengthAdjust="spacingAndGlyphs">DR</text>
<text x="2098.9" y="3256.8" font-size="70" fill="#000" textLength="16.3" lengthAdjust="spacingAndGlyphs">(</text>
<text x="2120.6" y="3256.8" font-size="70" font-style="italic" fill="#000" textLength="47.4" lengthAdjust="spacingAndGlyphs">C</text>
<text x="2227.6" y="3256.8" font-size="70" fill="#000" textLength="40.6" lengthAdjust="spacingAndGlyphs"></text>
<text x="2293.3" y="3256.8" font-size="70" font-style="italic" fill="#000" textLength="47.4" lengthAdjust="spacingAndGlyphs">C</text>
<text x="2391.5" y="3256.8" font-size="70" fill="#000" textLength="16.9" lengthAdjust="spacingAndGlyphs">)</text>
<text x="2426.6" y="3256.8" font-size="70" font-style="italic" fill="#000">f</text>
<text x="2462.6" y="3256.8" font-size="70" fill="#000" textLength="16.9" lengthAdjust="spacingAndGlyphs">(</text>
<text x="2485.0" y="3256.8" font-size="70" font-style="italic" fill="#000" textLength="29.8" lengthAdjust="spacingAndGlyphs">θ</text>
<text x="2520.2" y="3256.8" font-size="70" fill="#000" textLength="16.9" lengthAdjust="spacingAndGlyphs">)</text>
<text x="2171.4" y="3268.7" font-size="49" font-style="italic" fill="#000" textLength="30.5" lengthAdjust="spacingAndGlyphs">R</text>
<line x1="2227.6" y1="3240.6" x2="2268.2" y2="3240.6" stroke="#000" stroke-width="2.7"/>
<text x="2341.4" y="3270.0" font-size="52" fill="#000" textLength="44.7" lengthAdjust="spacingAndGlyphs">∞</text>
<text x="1787.1" y="3651.1" font-size="70" font-style="italic" fill="#000" textLength="98.9" lengthAdjust="spacingAndGlyphs">dW</text>
<text x="1812.8" y="3745.3" font-size="70" font-style="italic" fill="#000" textLength="56.2" lengthAdjust="spacingAndGlyphs">dt</text>
<line x1="1785.7" y1="3680.6" x2="1894.1" y2="3680.6" stroke="#000" stroke-width="3"/>
<line x1="1922.6" y1="3673.5" x2="1966.6" y2="3673.5" stroke="#000" stroke-width="2.7"/>
<line x1="1922.6" y1="3688.4" x2="1966.6" y2="3688.4" stroke="#000" stroke-width="2.7"/>
<line x1="1997.1" y1="3680.6" x2="2038.4" y2="3680.6" stroke="#000" stroke-width="2.7"/>
<text x="2047.9" y="3696.8" font-size="70" fill="#000" textLength="27.1" lengthAdjust="spacingAndGlyphs">2</text>
<text x="2083.8" y="3696.8" font-size="70" font-style="italic" fill="#000" textLength="29.8" lengthAdjust="spacingAndGlyphs">π</text>
<text x="2123.7" y="3696.8" font-size="70" font-style="italic" fill="#000" textLength="50.8" lengthAdjust="spacingAndGlyphs">D</text>
<text x="2181.3" y="3696.8" font-size="70" font-style="italic" fill="#000" textLength="31.2" lengthAdjust="spacingAndGlyphs">σ</text>
<text x="2220.6" y="3696.8" font-size="70" font-style="italic" fill="#000" textLength="54.2" lengthAdjust="spacingAndGlyphs">K</text>
<text x="2335.6" y="3696.8" font-size="70" font-style="italic" fill="#000">f</text>
<text x="2368.2" y="3696.8" font-size="70" fill="#000" textLength="16.3" lengthAdjust="spacingAndGlyphs">(</text>
<text x="2391.3" y="3696.8" font-size="70" font-style="italic" fill="#000" textLength="29.1" lengthAdjust="spacingAndGlyphs">θ</text>
<text x="2427.2" y="3696.8" font-size="70" fill="#000" textLength="13.5" lengthAdjust="spacingAndGlyphs">)</text>
<text x="2278.2" y="3710.0" font-size="49" font-style="italic" fill="#000" textLength="38.6" lengthAdjust="spacingAndGlyphs">H</text></svg>
</body></html>
